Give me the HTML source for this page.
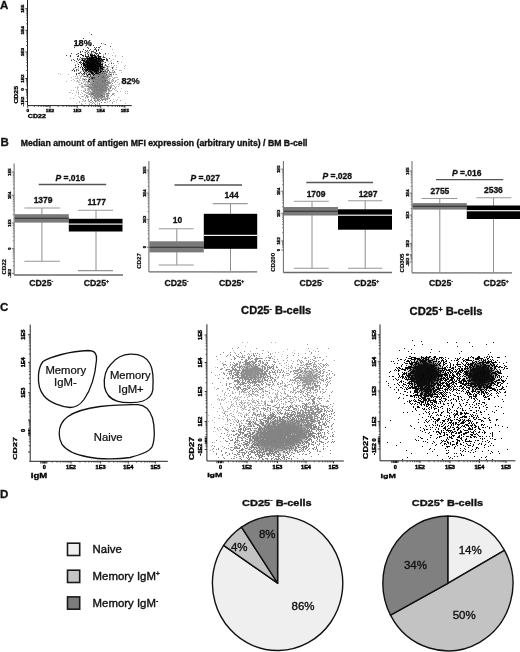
<!DOCTYPE html><html><head><meta charset="utf-8"><style>html,body{margin:0;padding:0;background:#fff;width:520px;height:652px;overflow:hidden}svg{display:block;will-change:transform}text{font-family:"Liberation Sans",sans-serif}</style></head><body>
<svg width="520" height="652" viewBox="0 0 520 652">
<defs><filter id="b1" x="-100%" y="-100%" width="300%" height="300%"><feGaussianBlur stdDeviation="0.5"/></filter><filter id="b2" x="-100%" y="-100%" width="300%" height="300%"><feGaussianBlur stdDeviation="1.0"/></filter><filter id="b3" x="-100%" y="-100%" width="300%" height="300%"><feGaussianBlur stdDeviation="1.5"/></filter><filter id="b4" x="-100%" y="-100%" width="300%" height="300%"><feGaussianBlur stdDeviation="2.0"/></filter><filter id="b5" x="-100%" y="-100%" width="300%" height="300%"><feGaussianBlur stdDeviation="2.5"/></filter><filter id="b6" x="-100%" y="-100%" width="300%" height="300%"><feGaussianBlur stdDeviation="3.0"/></filter><filter id="b7" x="-100%" y="-100%" width="300%" height="300%"><feGaussianBlur stdDeviation="3.5"/></filter><filter id="b8" x="-100%" y="-100%" width="300%" height="300%"><feGaussianBlur stdDeviation="4.0"/></filter><filter id="b9" x="-100%" y="-100%" width="300%" height="300%"><feGaussianBlur stdDeviation="4.5"/></filter><filter id="b10" x="-100%" y="-100%" width="300%" height="300%"><feGaussianBlur stdDeviation="5.0"/></filter><filter id="b11" x="-100%" y="-100%" width="300%" height="300%"><feGaussianBlur stdDeviation="5.5"/></filter><filter id="b12" x="-100%" y="-100%" width="300%" height="300%"><feGaussianBlur stdDeviation="6.0"/></filter></defs>
<rect width="520" height="652" fill="#fff"/>
<text x="0" y="9" font-size="11.5" font-weight="bold" text-anchor="start" fill="#111" stroke="#111" stroke-width="0.3">A</text>
<line x1="27.5" y1="0" x2="27.5" y2="105.6" stroke="#222" stroke-width="1"/>
<path d="M26.1 23.8h1.4M26.1 20.0h1.4M26.1 17.3h1.4M26.1 15.2h1.4M26.1 13.5h1.4M26.1 12.0h1.4M26.1 10.8h1.4M26.1 9.7h1.4M26.1 45.5h1.4M26.1 41.6h1.4M26.1 38.9h1.4M26.1 36.8h1.4M26.1 35.1h1.4M26.1 33.7h1.4M26.1 32.4h1.4M26.1 31.3h1.4M26.1 70.5h1.4M26.1 65.9h1.4M26.1 62.5h1.4M26.1 60.0h1.4M26.1 57.9h1.4M26.1 56.1h1.4M26.1 54.6h1.4M26.1 53.2h1.4M26.1 86.1h1.4M26.1 84.2h1.4M26.1 82.8h1.4M26.1 81.8h1.4M26.1 80.9h1.4M26.1 80.2h1.4M26.1 79.6h1.4M26.1 79.0h1.4M26.1 97.9h1.4M26.1 95.7h1.4M26.1 94.2h1.4M26.1 93.0h1.4M26.1 92.1h1.4M26.1 91.3h1.4M26.1 90.6h1.4M26.1 90.0h1.4" stroke="#222" stroke-width="0.7" fill="none"/>
<line x1="25.3" y1="101.5" x2="27.5" y2="101.5" stroke="#222" stroke-width="0.9"/>
<text x="0" y="0" font-size="4.7" font-weight="bold" text-anchor="middle" fill="#000" transform="translate(23.72 101.5) rotate(-90) scale(1 0.72)" stroke="#000" stroke-width="0.38">-1E2</text>
<line x1="25.3" y1="89.4" x2="27.5" y2="89.4" stroke="#222" stroke-width="0.9"/>
<text x="0" y="0" font-size="4.7" font-weight="bold" text-anchor="middle" fill="#000" transform="translate(23.72 89.4) rotate(-90) scale(1 0.72)" stroke="#000" stroke-width="0.38">0</text>
<line x1="25.3" y1="78.5" x2="27.5" y2="78.5" stroke="#222" stroke-width="0.9"/>
<text x="0" y="0" font-size="4.7" font-weight="bold" text-anchor="middle" fill="#000" transform="translate(23.72 78.5) rotate(-90) scale(1 0.72)" stroke="#000" stroke-width="0.38">1E2</text>
<line x1="25.3" y1="52" x2="27.5" y2="52" stroke="#222" stroke-width="0.9"/>
<text x="0" y="0" font-size="4.7" font-weight="bold" text-anchor="middle" fill="#000" transform="translate(23.72 52) rotate(-90) scale(1 0.72)" stroke="#000" stroke-width="0.38">1E3</text>
<line x1="25.3" y1="30.3" x2="27.5" y2="30.3" stroke="#222" stroke-width="0.9"/>
<text x="0" y="0" font-size="4.7" font-weight="bold" text-anchor="middle" fill="#000" transform="translate(23.72 30.3) rotate(-90) scale(1 0.72)" stroke="#000" stroke-width="0.38">1E4</text>
<line x1="25.3" y1="8.7" x2="27.5" y2="8.7" stroke="#222" stroke-width="0.9"/>
<text x="0" y="0" font-size="4.7" font-weight="bold" text-anchor="middle" fill="#000" transform="translate(23.72 8.7) rotate(-90) scale(1 0.72)" stroke="#000" stroke-width="0.38">1E5</text>
<line x1="27.5" y1="105.6" x2="131.8" y2="105.6" stroke="#222" stroke-width="1"/>
<path d="M34.4 105.6v1.4M38.3 105.6v1.4M41.1 105.6v1.4M43.3 105.6v1.4M45.1 105.6v1.4M46.5 105.6v1.4M47.8 105.6v1.4M49.0 105.6v1.4M58.2 105.6v1.4M63.0 105.6v1.4M66.4 105.6v1.4M69.1 105.6v1.4M71.2 105.6v1.4M73.1 105.6v1.4M74.7 105.6v1.4M76.1 105.6v1.4M84.3 105.6v1.4M88.5 105.6v1.4M91.4 105.6v1.4M93.7 105.6v1.4M95.5 105.6v1.4M97.1 105.6v1.4M98.4 105.6v1.4M99.6 105.6v1.4M108.0 105.6v1.4M112.2 105.6v1.4M115.3 105.6v1.4M117.6 105.6v1.4M119.5 105.6v1.4M121.2 105.6v1.4M122.6 105.6v1.4M123.8 105.6v1.4" stroke="#222" stroke-width="0.7" fill="none"/>
<line x1="27.7" y1="105.6" x2="27.7" y2="107.8" stroke="#222" stroke-width="0.9"/>
<text x="0" y="0" font-size="4.7" font-weight="bold" text-anchor="middle" fill="#000" transform="translate(27.7 111.62) scale(1 0.72)" stroke="#000" stroke-width="0.38">0</text>
<line x1="50" y1="105.6" x2="50" y2="107.8" stroke="#222" stroke-width="0.9"/>
<text x="0" y="0" font-size="4.7" font-weight="bold" text-anchor="middle" fill="#000" transform="translate(50 111.62) scale(1 0.72)" stroke="#000" stroke-width="0.38">1E2</text>
<line x1="77.3" y1="105.6" x2="77.3" y2="107.8" stroke="#222" stroke-width="0.9"/>
<text x="0" y="0" font-size="4.7" font-weight="bold" text-anchor="middle" fill="#000" transform="translate(77.3 111.62) scale(1 0.72)" stroke="#000" stroke-width="0.38">1E3</text>
<line x1="100.7" y1="105.6" x2="100.7" y2="107.8" stroke="#222" stroke-width="0.9"/>
<text x="0" y="0" font-size="4.7" font-weight="bold" text-anchor="middle" fill="#000" transform="translate(100.7 111.62) scale(1 0.72)" stroke="#000" stroke-width="0.38">1E4</text>
<line x1="124.9" y1="105.6" x2="124.9" y2="107.8" stroke="#222" stroke-width="0.9"/>
<text x="0" y="0" font-size="4.7" font-weight="bold" text-anchor="middle" fill="#000" transform="translate(124.9 111.62) scale(1 0.72)" stroke="#000" stroke-width="0.38">1E5</text>
<text x="0" y="0" font-size="6.9" font-weight="bold" text-anchor="middle" fill="#000" transform="translate(18.088800000000003 94.8) rotate(-90) scale(1 0.7)" stroke="#000" stroke-width="0.4">CD25</text>
<text x="0" y="0" font-size="7.1" font-weight="bold" text-anchor="middle" fill="#000" transform="translate(36.9 117.6892) scale(1 0.7)" stroke="#000" stroke-width="0.4">CD22</text>
<g filter="url(#b1)">
<path d="M96 86.5h1M92 69.5h1M90 68.5h1M96 100.5h1M90 73.5h1M101 86.5h1M97 69.5h1M95 91.5h1M81 75.5h1M75 64.5h1M75 78.5h1M82 85.5h1M97 79.5h1M68 74.5h1M95 83.5h1M79 75.5h1M85 71.5h1M107 71.5h1M95 93.5h1M89 80.5h1M97 82.5h1M82 83.5h1M110 61.5h1M105 83.5h1M104 65.5h1M96 89.5h1M93 91.5h1M111 72.5h1M98 75.5h1M97 65.5h1M89 79.5h1M105 97.5h1M81 71.5h1M103 55.5h1M90 80.5h1M109 91.5h1M92 77.5h1M93 102.5h1M91 77.5h1M99 80.5h1M93 66.5h1M95 76.5h1M108 90.5h1M92 96.5h1M95 89.5h1M81 86.5h1M77 54.5h1M86 73.5h1M98 88.5h1M94 79.5h1M103 89.5h1M84 80.5h1M96 67.5h1M98 70.5h1M106 84.5h1M96 74.5h1M94 55.5h1M83 86.5h1M72 93.5h1M76 92.5h1M86 92.5h1M97 61.5h1M109 101.5h1M95 78.5h1M94 68.5h1M108 74.5h1M95 71.5h1M89 64.5h1M109 79.5h1M106 82.5h1M88 77.5h1M89 82.5h1M80 71.5h1M114 72.5h1M84 86.5h1M111 62.5h1M93 73.5h1M76 91.5h1M95 82.5h1M87 88.5h1M83 65.5h1M110 75.5h1M99 81.5h1M91 75.5h1M102 77.5h1M94 82.5h1M108 91.5h1M100 74.5h1M80 94.5h1M106 80.5h1M101 92.5h1M105 94.5h1M90 102.5h1M82 93.5h1M101 93.5h1M116 102.5h1M83 59.5h1M104 68.5h1M77 53.5h1M98 82.5h1M93 82.5h1M86 61.5h1M77 88.5h1M95 87.5h1M85 73.5h1M85 70.5h1M98 71.5h1M99 86.5h1M118 63.5h1M105 80.5h1M95 62.5h1M90 92.5h1M92 97.5h1M95 52.5h1M88 55.5h1M60 74.5h1M110 82.5h1M83 69.5h1M108 84.5h1M96 81.5h1M96 92.5h1M102 84.5h1M84 88.5h1M88 96.5h1M82 80.5h1M95 64.5h1M114 101.5h1M100 46.5h1M98 81.5h1M93 79.5h1M109 86.5h1M95 102.5h1M89 76.5h1M76 103.5h1M106 94.5h1M103 83.5h1M98 78.5h1M112 89.5h1M95 74.5h1M89 103.5h1M101 82.5h1M92 67.5h1M91 78.5h1M93 83.5h1M78 78.5h1M86 93.5h1M87 89.5h1M112 77.5h1M89 84.5h1M95 68.5h1M82 67.5h1M110 69.5h1M107 102.5h1M98 89.5h1M117 79.5h1M89 63.5h1M96 101.5h1M106 69.5h1M86 75.5h1M99 79.5h1M98 86.5h1M92 81.5h1M98 80.5h1M102 82.5h1M77 87.5h1M74 62.5h1M105 91.5h1M94 58.5h1M91 72.5h1M83 81.5h1M94 66.5h1M97 66.5h1M108 96.5h1M107 75.5h1M101 80.5h1M81 62.5h1M104 79.5h1M98 95.5h1M76 71.5h1M97 87.5h1M91 95.5h1M98 65.5h1M85 92.5h1M101 56.5h1M110 90.5h1M110 76.5h1M92 66.5h1M123 79.5h1M113 73.5h1M97 59.5h1M82 96.5h1M99 67.5h1M90 75.5h1M86 77.5h1M84 64.5h1M79 82.5h1M88 68.5h1M105 75.5h1M112 71.5h1M100 78.5h1M94 90.5h1M95 67.5h1M95 58.5h1M103 67.5h1M76 81.5h1M108 61.5h1M84 71.5h1M83 87.5h1M87 72.5h1M102 71.5h1M100 68.5h1M82 57.5h1M116 77.5h1M116 67.5h1M78 68.5h1M81 92.5h1M105 69.5h1M80 77.5h1M111 43.5h1M101 67.5h1M107 67.5h1M92 61.5h1M85 100.5h1M105 76.5h1M86 56.5h1M91 81.5h1M95 80.5h1M95 99.5h1M116 80.5h1M87 81.5h1M89 71.5h1M102 80.5h1M98 79.5h1M88 69.5h1M93 74.5h1M81 82.5h1M81 73.5h1M92 53.5h1M97 84.5h1M94 76.5h1M91 68.5h1M98 83.5h1M102 59.5h1M101 85.5h1M99 87.5h1M88 78.5h1M103 87.5h1M98 61.5h1M101 97.5h1M107 85.5h1M78 94.5h1M94 47.5h1M100 61.5h1M109 76.5h1M113 80.5h1M93 64.5h1M88 87.5h1M100 83.5h1M106 71.5h1M102 96.5h1M100 77.5h1M99 68.5h1M77 89.5h1M95 86.5h1M77 77.5h1M89 70.5h1M71 77.5h1M105 87.5h1M89 81.5h1M104 44.5h1M94 89.5h1M108 86.5h1M99 92.5h1M90 81.5h1M94 81.5h1M98 100.5h1M95 101.5h1M85 79.5h1M93 92.5h1M107 61.5h1M85 86.5h1M88 61.5h1M107 88.5h1M101 75.5h1M107 78.5h1M108 69.5h1M86 84.5h1M88 91.5h1M98 69.5h1M96 77.5h1M106 73.5h1M91 98.5h1M96 84.5h1M112 80.5h1M85 83.5h1M100 70.5h1M77 62.5h1M103 71.5h1M94 84.5h1M101 69.5h1M92 68.5h1M108 81.5h1M87 77.5h1M78 67.5h1M93 77.5h1M109 88.5h1M103 75.5h1M102 91.5h1M73 90.5h1M93 87.5h1M103 77.5h1M77 86.5h1M89 77.5h1M70 98.5h1M98 97.5h1M117 82.5h1M76 69.5h1M82 75.5h1M96 54.5h1M99 61.5h1M77 81.5h1M110 91.5h1M88 101.5h1M95 81.5h1M92 83.5h1M91 80.5h1M84 76.5h1M121 81.5h1M93 89.5h1M103 66.5h1M93 94.5h1M113 72.5h1M112 55.5h1M88 74.5h1M103 90.5h1M111 60.5h1M104 78.5h1M88 89.5h1M85 53.5h1M91 61.5h1M99 103.5h1M93 61.5h1M87 69.5h1M82 87.5h1M103 80.5h1M99 83.5h1M109 87.5h1M100 87.5h1M79 79.5h1M93 84.5h1M81 104.5h1M77 78.5h1M95 72.5h1M97 73.5h1M102 72.5h1M95 95.5h1M124 68.5h1M90 70.5h1M104 66.5h1M85 69.5h1M90 53.5h1M80 76.5h1M76 75.5h1M104 89.5h1M95 70.5h1M102 74.5h1M83 71.5h1M111 84.5h1M108 75.5h1M104 75.5h1M109 75.5h1M76 78.5h1M96 83.5h1M110 86.5h1M104 67.5h1M104 85.5h1M85 80.5h1M91 86.5h1M85 78.5h1M98 67.5h1M118 79.5h1M104 83.5h1M97 102.5h1M81 96.5h1M98 72.5h1M99 91.5h1M96 88.5h1M88 79.5h1M109 63.5h1M109 73.5h1M83 99.5h1M94 64.5h1M92 94.5h1M100 91.5h1M88 86.5h1M90 82.5h1M91 97.5h1M98 93.5h1M109 89.5h1M120 70.5h1M104 77.5h1M74 68.5h1M103 92.5h1M104 81.5h1M101 90.5h1M71 90.5h1M84 94.5h1M93 70.5h1M100 69.5h1M85 60.5h1M95 88.5h1M107 80.5h1M107 82.5h1M107 77.5h1M96 69.5h1M107 76.5h1M101 70.5h1M91 87.5h1M96 82.5h1M92 57.5h1M93 52.5h1M100 72.5h1M98 62.5h1M76 67.5h1M73 68.5h1M113 67.5h1M103 63.5h1M99 77.5h1M115 84.5h1M97 68.5h1M102 78.5h1M105 81.5h1M115 55.5h1M92 93.5h1M92 71.5h1M93 63.5h1M108 67.5h1M86 76.5h1M107 70.5h1M88 93.5h1M83 61.5h1M88 51.5h1M104 73.5h1M108 66.5h1M94 60.5h1M112 49.5h1M83 78.5h1M108 53.5h1M104 86.5h1M121 62.5h1M104 84.5h1M104 76.5h1M91 65.5h1M95 69.5h1M94 96.5h1M100 88.5h1M99 82.5h1M94 77.5h1M87 75.5h1M88 84.5h1M88 97.5h1M87 51.5h1M87 54.5h1M95 96.5h1M110 83.5h1M99 90.5h1M89 67.5h1M121 70.5h1M100 96.5h1M77 69.5h1M89 78.5h1M75 66.5h1M113 52.5h1M92 84.5h1M91 71.5h1M95 56.5h1M94 70.5h1M89 85.5h1M103 94.5h1M90 94.5h1M108 97.5h1M111 80.5h1M94 93.5h1M80 84.5h1M90 77.5h1M95 61.5h1M86 62.5h1M82 99.5h1M103 99.5h1M92 72.5h1M92 85.5h1M103 97.5h1M109 98.5h1M79 80.5h1M99 76.5h1M106 77.5h1M85 101.5h1M103 84.5h1M106 96.5h1M99 48.5h1M88 75.5h1M85 84.5h1M98 87.5h1M88 92.5h1M90 69.5h1M97 92.5h1M89 86.5h1M88 100.5h1M89 74.5h1M101 89.5h1M111 87.5h1M83 62.5h1M113 70.5h1M114 95.5h1M113 59.5h1M95 92.5h1M78 96.5h1M89 90.5h1M98 47.5h1M87 84.5h1M113 85.5h1M96 79.5h1M78 93.5h1M125 91.5h1M82 79.5h1M99 93.5h1M87 64.5h1M96 72.5h1M81 64.5h1M90 56.5h1M81 59.5h1M118 61.5h1M88 94.5h1M114 77.5h1M83 64.5h1M80 68.5h1M88 90.5h1M102 57.5h1M92 87.5h1M89 53.5h1M92 92.5h1M124 66.5h1M106 98.5h1M83 90.5h1M88 47.5h1M127 91.5h1M115 69.5h1M112 103.5h1M113 81.5h1M71 59.5h1M94 80.5h1M117 99.5h1M95 98.5h1M106 65.5h1M92 64.5h1M97 104.5h1M87 85.5h1M86 66.5h1M82 101.5h1M121 88.5h1M99 85.5h1M91 58.5h1M91 62.5h1M94 69.5h1M97 88.5h1M114 93.5h1M92 101.5h1M79 102.5h1M88 44.5h1M125 103.5h1M84 84.5h1M79 72.5h1M109 83.5h1M121 72.5h1M98 56.5h1M85 89.5h1M92 75.5h1M103 74.5h1M86 85.5h1M94 95.5h1M125 93.5h1M95 79.5h1M86 69.5h1M91 92.5h1M91 79.5h1M82 104.5h1M104 102.5h1M125 65.5h1M100 92.5h1M110 72.5h1M88 73.5h1M101 62.5h1M118 97.5h1M100 58.5h1M75 95.5h1M100 80.5h1M111 65.5h1M93 76.5h1M97 75.5h1M113 69.5h1M105 64.5h1M66 81.5h1M83 75.5h1M113 66.5h1M84 101.5h1M97 103.5h1M99 69.5h1M96 80.5h1M96 66.5h1M88 82.5h1M77 63.5h1M100 98.5h1M103 82.5h1M120 91.5h1M73 79.5h1M82 78.5h1M90 96.5h1M98 96.5h1M71 70.5h1M84 66.5h1M86 70.5h1M87 83.5h1M114 86.5h1M88 81.5h1M85 85.5h1M105 70.5h1M93 97.5h1M90 84.5h1M84 70.5h1M91 74.5h1M118 84.5h1M111 85.5h1M102 62.5h1M82 69.5h1M86 81.5h1M112 93.5h1M79 58.5h1M81 76.5h1M97 53.5h1M88 76.5h1M83 63.5h1M84 81.5h1M102 89.5h1M85 88.5h1M73 98.5h1M90 71.5h1M99 95.5h1M99 96.5h1M97 98.5h1M109 80.5h1M81 90.5h1M71 80.5h1M96 49.5h1M103 73.5h1M105 57.5h1M103 78.5h1M104 69.5h1M86 72.5h1M88 58.5h1M86 79.5h1M80 62.5h1M106 72.5h1M121 83.5h1M115 88.5h1M111 75.5h1M87 95.5h1M97 67.5h1M78 87.5h1M105 88.5h1M107 74.5h1M85 94.5h1M84 52.5h1M107 72.5h1M92 63.5h1M81 66.5h1M92 86.5h1M70 92.5h1M98 101.5h1M90 95.5h1M87 97.5h1M116 86.5h1M99 70.5h1M108 98.5h1M89 73.5h1M73 76.5h1M99 65.5h1M102 79.5h1M88 63.5h1M82 86.5h1M85 82.5h1M107 95.5h1M113 78.5h1M84 95.5h1M99 97.5h1M96 98.5h1M101 87.5h1M98 85.5h1M106 75.5h1M115 80.5h1M119 84.5h1M106 68.5h1M115 72.5h1M102 86.5h1M93 50.5h1M91 63.5h1M112 85.5h1M107 101.5h1M93 81.5h1M108 83.5h1M94 78.5h1M110 88.5h1M111 81.5h1M119 70.5h1M103 68.5h1M115 77.5h1M95 94.5h1M109 66.5h1M97 80.5h1M101 102.5h1M74 80.5h1M91 88.5h1M84 91.5h1M78 90.5h1M113 101.5h1M87 66.5h1M78 82.5h1M81 65.5h1M95 90.5h1M96 70.5h1M115 90.5h1M83 82.5h1M103 88.5h1M116 100.5h1M81 85.5h1M88 83.5h1M82 70.5h1M104 74.5h1M90 63.5h1M87 90.5h1M78 81.5h1M103 76.5h1M98 66.5h1M110 96.5h1M98 58.5h1M106 99.5h1M99 73.5h1M69 92.5h1M119 83.5h1M91 104.5h1M105 92.5h1M101 88.5h1M112 81.5h1M116 69.5h1M92 88.5h1M111 73.5h1M87 65.5h1M96 58.5h1M81 103.5h1M83 96.5h1M89 89.5h1M87 52.5h1M117 77.5h1M108 94.5h1M94 71.5h1M93 88.5h1M106 74.5h1M98 60.5h1M103 43.5h1M96 62.5h1M90 83.5h1M93 86.5h1M85 103.5h1M85 72.5h1M108 64.5h1M102 88.5h1M112 88.5h1M105 89.5h1M115 56.5h1M110 78.5h1M75 76.5h1M88 88.5h1M79 101.5h1M88 71.5h1M83 74.5h1M80 78.5h1M116 90.5h1M92 60.5h1M80 59.5h1M96 73.5h1M97 100.5h1M87 93.5h1M92 78.5h1M75 87.5h1M99 74.5h1M97 93.5h1M103 54.5h1M106 95.5h1M80 80.5h1M87 74.5h1M94 56.5h1M94 83.5h1M88 72.5h1M116 65.5h1M99 72.5h1M91 96.5h1M111 82.5h1M108 76.5h1M93 68.5h1M78 69.5h1M103 98.5h1M107 81.5h1M94 72.5h1M77 76.5h1M91 84.5h1M83 100.5h1M105 72.5h1M108 79.5h1M87 76.5h1M89 32.5h1M97 56.5h1M85 98.5h1M94 88.5h1M105 85.5h1M114 78.5h1M107 89.5h1M100 89.5h1M94 62.5h1M81 87.5h1M92 62.5h1M127 93.5h1M58 73.5h1M98 90.5h1M111 67.5h1M113 99.5h1M97 78.5h1M101 76.5h1M92 80.5h1M93 85.5h1M105 67.5h1" stroke="#bdbdbd" stroke-width="1" opacity="1" fill="none" shape-rendering="crispEdges"/>
<path d="M88 92.5h1M96 89.5h1M94 88.5h1M92 83.5h1M102 86.5h1M96 71.5h1M99 89.5h1M97 75.5h1M95 88.5h1M105 54.5h1M100 76.5h1M109 83.5h1M93 81.5h1M100 78.5h1M100 68.5h1M95 93.5h1M111 95.5h1M98 99.5h1M106 84.5h1M100 87.5h1M96 59.5h1M96 60.5h1M98 85.5h1M84 91.5h1M104 87.5h1M87 96.5h1M101 90.5h1M106 77.5h1M95 74.5h1M93 83.5h1M89 71.5h1M102 84.5h1M104 62.5h1M93 77.5h1M99 78.5h1M105 85.5h1M104 80.5h1M106 91.5h1M99 85.5h1M100 97.5h1M104 90.5h1M107 85.5h1M80 98.5h1M101 71.5h1M98 74.5h1M113 93.5h1M85 89.5h1M94 57.5h1M99 80.5h1M98 59.5h1M82 96.5h1M102 83.5h1M105 92.5h1M92 92.5h1M97 63.5h1M114 82.5h1M93 88.5h1M89 67.5h1M95 78.5h1M97 98.5h1M94 90.5h1M104 72.5h1M101 74.5h1M105 91.5h1M100 69.5h1M103 84.5h1M90 95.5h1M104 78.5h1M107 82.5h1M95 86.5h1M93 78.5h1M94 103.5h1M110 83.5h1M110 86.5h1M99 95.5h1M102 71.5h1M108 81.5h1M101 49.5h1M104 95.5h1M102 97.5h1M111 86.5h1M94 97.5h1M103 69.5h1M101 83.5h1M91 89.5h1M98 65.5h1M86 86.5h1M101 93.5h1M89 79.5h1M98 94.5h1M95 70.5h1M104 99.5h1M102 78.5h1M101 86.5h1M106 71.5h1M99 83.5h1M89 86.5h1M103 68.5h1M97 90.5h1M98 98.5h1M92 65.5h1M99 90.5h1M113 94.5h1M90 93.5h1M94 66.5h1M117 91.5h1M102 92.5h1M111 90.5h1M109 74.5h1M85 100.5h1M108 92.5h1M99 87.5h1M90 102.5h1M102 91.5h1M99 97.5h1M101 94.5h1M88 89.5h1M115 81.5h1M96 95.5h1M104 93.5h1M91 73.5h1M103 82.5h1M103 94.5h1M92 76.5h1M91 77.5h1M91 76.5h1M98 72.5h1M90 67.5h1M104 98.5h1M94 92.5h1M107 83.5h1M89 88.5h1M85 73.5h1M103 86.5h1M93 95.5h1M90 87.5h1M96 74.5h1M103 73.5h1M113 80.5h1M115 74.5h1M105 71.5h1M88 85.5h1M105 70.5h1M108 76.5h1M98 89.5h1M105 64.5h1M109 93.5h1M97 72.5h1M88 67.5h1M103 81.5h1M90 77.5h1M110 82.5h1M91 100.5h1M96 65.5h1M90 78.5h1M102 88.5h1M101 73.5h1M83 76.5h1M98 69.5h1M90 82.5h1M100 77.5h1M102 82.5h1M90 84.5h1M113 78.5h1M104 102.5h1M111 76.5h1M113 88.5h1M96 81.5h1M95 100.5h1M94 71.5h1M108 73.5h1M113 72.5h1M100 81.5h1M87 74.5h1M107 80.5h1M91 94.5h1M104 97.5h1M107 78.5h1M112 72.5h1M81 65.5h1M91 82.5h1M103 83.5h1M93 86.5h1M91 83.5h1M105 75.5h1M91 78.5h1M96 75.5h1M90 69.5h1M98 82.5h1M105 89.5h1M101 61.5h1M87 92.5h1M108 88.5h1M96 76.5h1M105 90.5h1M97 80.5h1M102 89.5h1M89 104.5h1M100 85.5h1M107 98.5h1M96 91.5h1M79 97.5h1M83 91.5h1M93 72.5h1M96 87.5h1M100 79.5h1M97 84.5h1M95 75.5h1M106 65.5h1M91 102.5h1M79 73.5h1M106 66.5h1M122 56.5h1M105 83.5h1M102 74.5h1M106 72.5h1M94 96.5h1M90 79.5h1M101 69.5h1M106 90.5h1M87 82.5h1M93 76.5h1M105 79.5h1M96 70.5h1M101 96.5h1M112 102.5h1M100 82.5h1M101 85.5h1M107 97.5h1M93 75.5h1M108 90.5h1M94 98.5h1M98 61.5h1M104 84.5h1M101 65.5h1M100 67.5h1M100 89.5h1M101 92.5h1M99 82.5h1M103 99.5h1M100 96.5h1M104 70.5h1M102 68.5h1M101 81.5h1M88 55.5h1M98 81.5h1M99 92.5h1M83 79.5h1M94 69.5h1M94 82.5h1M98 67.5h1M93 63.5h1M103 72.5h1M107 76.5h1M96 93.5h1M103 85.5h1M105 86.5h1M107 69.5h1M85 92.5h1M88 79.5h1M98 79.5h1M92 101.5h1M78 92.5h1M115 87.5h1M97 93.5h1M114 72.5h1M102 87.5h1M99 77.5h1M93 82.5h1M99 70.5h1M110 85.5h1M86 96.5h1M92 90.5h1M97 87.5h1M81 83.5h1M100 93.5h1M107 96.5h1M101 77.5h1M97 73.5h1M95 89.5h1M114 86.5h1M120 100.5h1M103 79.5h1M77 80.5h1M79 84.5h1M104 94.5h1M101 97.5h1M106 85.5h1M107 94.5h1M99 79.5h1M97 76.5h1M114 89.5h1M96 68.5h1M91 92.5h1M104 83.5h1M99 81.5h1M88 99.5h1M89 72.5h1M96 96.5h1M98 90.5h1M89 93.5h1M99 104.5h1M97 95.5h1M106 98.5h1M96 82.5h1M88 82.5h1M95 104.5h1M102 95.5h1M118 86.5h1M85 97.5h1M98 88.5h1M90 96.5h1M102 90.5h1M102 85.5h1M98 100.5h1M104 91.5h1M92 80.5h1M90 85.5h1M103 60.5h1M97 92.5h1M109 78.5h1M91 70.5h1M106 88.5h1M90 75.5h1M92 81.5h1M85 84.5h1M103 74.5h1M88 75.5h1M105 98.5h1M93 98.5h1M93 102.5h1M102 80.5h1M105 76.5h1M93 66.5h1M100 84.5h1M98 80.5h1M109 81.5h1M91 99.5h1M86 76.5h1M112 70.5h1M108 85.5h1M89 70.5h1M95 72.5h1M105 102.5h1M102 72.5h1M98 76.5h1M84 73.5h1M100 75.5h1M92 103.5h1M92 73.5h1M114 65.5h1M95 83.5h1M98 86.5h1M95 96.5h1M98 87.5h1M99 73.5h1M101 76.5h1M90 86.5h1M110 87.5h1M95 97.5h1M116 74.5h1M96 94.5h1M88 88.5h1M101 89.5h1M100 80.5h1M94 89.5h1M94 99.5h1M96 86.5h1M89 91.5h1M96 97.5h1M90 91.5h1M97 96.5h1M82 86.5h1M85 71.5h1" stroke="#a0a0a0" stroke-width="1" opacity="1" fill="none" shape-rendering="crispEdges"/>
<ellipse cx="99.5" cy="84.5" rx="8.3" ry="14" fill="#8a8a8a" opacity="1" transform="rotate(8 99.5 84.5)" filter="url(#b2)"/>
<path d="M88 99.5h1M92 85.5h1M99 66.5h1M96 91.5h1M97 94.5h1M97 84.5h1M96 88.5h1M109 90.5h1M101 79.5h1M93 98.5h1M94 75.5h1M99 80.5h1M113 63.5h1M100 92.5h1M94 77.5h1M99 101.5h1M96 68.5h1M102 100.5h1M100 62.5h1M107 84.5h1M105 85.5h1M98 80.5h1M105 100.5h1M89 74.5h1M109 82.5h1M92 84.5h1M99 83.5h1M97 81.5h1M96 87.5h1M95 81.5h1M96 97.5h1M101 84.5h1M101 89.5h1M104 90.5h1M107 99.5h1M103 90.5h1M101 70.5h1M89 87.5h1M102 93.5h1M91 94.5h1M102 77.5h1M99 64.5h1M97 66.5h1M101 85.5h1M103 89.5h1M95 87.5h1M96 90.5h1M102 75.5h1M99 85.5h1M96 93.5h1M87 86.5h1M103 78.5h1M98 75.5h1M105 70.5h1M95 104.5h1M99 89.5h1M100 73.5h1M98 89.5h1M93 87.5h1M104 96.5h1M92 74.5h1M89 94.5h1M101 92.5h1M96 72.5h1M99 86.5h1M94 85.5h1M102 87.5h1M96 63.5h1M97 86.5h1M94 91.5h1M95 78.5h1M101 75.5h1M93 80.5h1M105 87.5h1M99 70.5h1M94 98.5h1M103 85.5h1M98 86.5h1M102 90.5h1M101 86.5h1M92 94.5h1M88 81.5h1M112 83.5h1M93 83.5h1M106 84.5h1M102 86.5h1M100 79.5h1M102 70.5h1M102 82.5h1M100 70.5h1M97 77.5h1M93 93.5h1M86 79.5h1M91 79.5h1M104 79.5h1M101 76.5h1M108 95.5h1M107 72.5h1M98 82.5h1M103 72.5h1M103 96.5h1M106 58.5h1M104 82.5h1M100 82.5h1M92 78.5h1M101 99.5h1M97 75.5h1M108 77.5h1M110 87.5h1M93 94.5h1M110 72.5h1M108 83.5h1M108 82.5h1M90 88.5h1M107 93.5h1M98 79.5h1M99 76.5h1M101 59.5h1M100 84.5h1M112 94.5h1M93 78.5h1M87 97.5h1M104 73.5h1M98 94.5h1M96 73.5h1M107 76.5h1M105 88.5h1M101 102.5h1M95 77.5h1M100 100.5h1M100 87.5h1M104 85.5h1M100 74.5h1M106 75.5h1M104 71.5h1M106 69.5h1M95 96.5h1M95 85.5h1M100 61.5h1M100 89.5h1M92 89.5h1M96 74.5h1M100 78.5h1M114 71.5h1M102 95.5h1M91 66.5h1M103 80.5h1M100 96.5h1M98 74.5h1M84 84.5h1M94 87.5h1M102 71.5h1M107 97.5h1M105 73.5h1M98 73.5h1M101 87.5h1M102 80.5h1M106 87.5h1M85 76.5h1M97 78.5h1M94 89.5h1M98 67.5h1M100 88.5h1M96 82.5h1M90 100.5h1M99 99.5h1M100 64.5h1M107 87.5h1M100 85.5h1M97 79.5h1M107 95.5h1M100 66.5h1M99 90.5h1M100 72.5h1M96 71.5h1M99 93.5h1M106 78.5h1M100 90.5h1M96 83.5h1M110 88.5h1M104 81.5h1M102 68.5h1M97 96.5h1M109 98.5h1M103 86.5h1M103 77.5h1M105 75.5h1M91 73.5h1M92 70.5h1M105 83.5h1M99 96.5h1M107 80.5h1M106 89.5h1M92 76.5h1M98 90.5h1M97 83.5h1M102 99.5h1M101 98.5h1M101 82.5h1M94 100.5h1M99 75.5h1M99 103.5h1M98 97.5h1M95 83.5h1M111 74.5h1M109 76.5h1M97 93.5h1M102 88.5h1M90 87.5h1M93 79.5h1M91 93.5h1M97 90.5h1M96 79.5h1M105 77.5h1M105 78.5h1M105 99.5h1M97 82.5h1M94 86.5h1M107 71.5h1M106 72.5h1M101 78.5h1M108 64.5h1M104 77.5h1M97 87.5h1M97 99.5h1M103 83.5h1M85 90.5h1M104 76.5h1M90 72.5h1M96 86.5h1M106 85.5h1M99 79.5h1M106 96.5h1M100 71.5h1M94 90.5h1M94 93.5h1M101 88.5h1M113 74.5h1M95 95.5h1M91 89.5h1M103 99.5h1M98 95.5h1M93 85.5h1M95 86.5h1M102 96.5h1M92 96.5h1M99 87.5h1M91 84.5h1M95 79.5h1M92 68.5h1M97 89.5h1M100 94.5h1M105 90.5h1M94 79.5h1M97 74.5h1M112 79.5h1M102 91.5h1M100 91.5h1M86 95.5h1M110 100.5h1M98 76.5h1M104 80.5h1M88 86.5h1M97 70.5h1M107 70.5h1M101 90.5h1M101 73.5h1M102 89.5h1M109 72.5h1M95 101.5h1M106 93.5h1M98 100.5h1M107 77.5h1M103 76.5h1M104 84.5h1M89 101.5h1M96 98.5h1M108 89.5h1M109 71.5h1M104 83.5h1M98 84.5h1M89 84.5h1M93 95.5h1M96 89.5h1M105 81.5h1M94 95.5h1M90 65.5h1M92 79.5h1M99 84.5h1M98 92.5h1M98 72.5h1M86 81.5h1M106 90.5h1M94 84.5h1M102 97.5h1M93 91.5h1M107 82.5h1M91 87.5h1M108 93.5h1M92 93.5h1M96 85.5h1M97 100.5h1" stroke="#7e7e7e" stroke-width="1" opacity="1" fill="none" shape-rendering="crispEdges"/>
<path d="M83 60.5h1M101 61.5h1M97 67.5h1M89 50.5h1M100 64.5h1M100 46.5h1M78 45.5h1M85 71.5h1M97 62.5h1M93 69.5h1M89 66.5h1M93 45.5h1M89 73.5h1M89 61.5h1M87 59.5h1M102 60.5h1M83 38.5h1M87 47.5h1M76 69.5h1M98 47.5h1M99 66.5h1M85 68.5h1M78 53.5h1M80 54.5h1M99 52.5h1M82 55.5h1M94 60.5h1M99 57.5h1M81 58.5h1M92 55.5h1M94 77.5h1M87 63.5h1M103 57.5h1M85 54.5h1M95 67.5h1M91 63.5h1M103 69.5h1M80 62.5h1M93 68.5h1M90 57.5h1M88 48.5h1M92 58.5h1M96 54.5h1M88 54.5h1M83 68.5h1M88 66.5h1M82 63.5h1M77 58.5h1M87 67.5h1M93 61.5h1M99 64.5h1M96 68.5h1M91 60.5h1M94 59.5h1M95 71.5h1M99 59.5h1M81 62.5h1M91 71.5h1M88 60.5h1M98 58.5h1M90 76.5h1M104 67.5h1M94 54.5h1M96 63.5h1M93 58.5h1M91 61.5h1M94 74.5h1M95 49.5h1M83 49.5h1M85 67.5h1M95 57.5h1M94 56.5h1M80 51.5h1M84 73.5h1M80 72.5h1M103 61.5h1M91 57.5h1M91 67.5h1M92 70.5h1M102 65.5h1M94 62.5h1M95 53.5h1M95 64.5h1M84 79.5h1M83 55.5h1M94 47.5h1M85 50.5h1M83 61.5h1M94 71.5h1M98 72.5h1M97 58.5h1M101 58.5h1M86 74.5h1M98 64.5h1M98 69.5h1M80 61.5h1M86 73.5h1M96 56.5h1M91 52.5h1M92 66.5h1M81 66.5h1M86 64.5h1M95 68.5h1M87 64.5h1M82 51.5h1M96 62.5h1M78 55.5h1M92 74.5h1M100 68.5h1M76 61.5h1M96 65.5h1M95 60.5h1M106 74.5h1M91 54.5h1M109 58.5h1M102 77.5h1M83 64.5h1M94 78.5h1M101 60.5h1M88 80.5h1M85 58.5h1M92 54.5h1M74 70.5h1M112 68.5h1M98 50.5h1M91 53.5h1M98 60.5h1M92 61.5h1M87 50.5h1M96 51.5h1M81 60.5h1M85 64.5h1M93 62.5h1M99 47.5h1M95 55.5h1M88 67.5h1M101 43.5h1M91 78.5h1M99 74.5h1M92 51.5h1M82 68.5h1M100 56.5h1M89 64.5h1M77 59.5h1M105 80.5h1M91 77.5h1M87 56.5h1M72 70.5h1M88 81.5h1M94 64.5h1M76 74.5h1M88 61.5h1M73 69.5h1M100 57.5h1M92 65.5h1M100 63.5h1M106 60.5h1M86 58.5h1M70 56.5h1M85 65.5h1M74 60.5h1M85 69.5h1M107 59.5h1M75 67.5h1M92 64.5h1M87 60.5h1M98 76.5h1M90 49.5h1M102 67.5h1M97 64.5h1M111 63.5h1M96 47.5h1M87 57.5h1M91 65.5h1M85 76.5h1M83 58.5h1M94 52.5h1M96 67.5h1M89 77.5h1M86 60.5h1M88 68.5h1M71 53.5h1M76 73.5h1M87 58.5h1M82 69.5h1M88 64.5h1M74 71.5h1M102 61.5h1M90 68.5h1M98 70.5h1M92 77.5h1M78 60.5h1M106 59.5h1M78 73.5h1M96 53.5h1M98 54.5h1M87 53.5h1M92 62.5h1M80 52.5h1M90 74.5h1M100 53.5h1M100 59.5h1M98 67.5h1M89 65.5h1M83 62.5h1M101 95.5h1M98 63.5h1M83 71.5h1M77 56.5h1M95 52.5h1M105 71.5h1M87 65.5h1M79 62.5h1M104 73.5h1M88 59.5h1M103 76.5h1M79 59.5h1M94 72.5h1M84 67.5h1M89 81.5h1M95 61.5h1M89 71.5h1M97 53.5h1M93 51.5h1M85 52.5h1M80 57.5h1M83 66.5h1M74 47.5h1M100 60.5h1M86 51.5h1M82 58.5h1M90 45.5h1M99 53.5h1M88 58.5h1M96 64.5h1M101 69.5h1M87 61.5h1M91 51.5h1M83 70.5h1M78 70.5h1M94 61.5h1M96 66.5h1M102 59.5h1M90 60.5h1M108 70.5h1M84 59.5h1M86 62.5h1M93 81.5h1M76 70.5h1M90 58.5h1M79 73.5h1M88 74.5h1M95 72.5h1M97 71.5h1M92 56.5h1M97 68.5h1M110 46.5h1M90 71.5h1M110 74.5h1M84 74.5h1M102 68.5h1M84 58.5h1M107 60.5h1M71 60.5h1M94 65.5h1M104 57.5h1M82 74.5h1M70 55.5h1M95 59.5h1M98 61.5h1M90 61.5h1M83 56.5h1M92 57.5h1M98 49.5h1M89 60.5h1M86 56.5h1M107 68.5h1M102 63.5h1M100 69.5h1M102 81.5h1M90 64.5h1M91 34.5h1M80 63.5h1M102 73.5h1M107 66.5h1M91 59.5h1M85 61.5h1M117 61.5h1M87 72.5h1M98 62.5h1M90 66.5h1M99 69.5h1M66 55.5h1M94 70.5h1M97 61.5h1M105 65.5h1M75 65.5h1M89 62.5h1M101 66.5h1M90 70.5h1M95 65.5h1M89 59.5h1M81 73.5h1M90 62.5h1M92 63.5h1M85 70.5h1M86 71.5h1M76 54.5h1M100 61.5h1M86 66.5h1M83 63.5h1M73 59.5h1M86 67.5h1M99 56.5h1M106 58.5h1M75 43.5h1M105 62.5h1M86 57.5h1M83 73.5h1M90 44.5h1M99 60.5h1M90 75.5h1M90 72.5h1M96 58.5h1M102 70.5h1M93 67.5h1M97 60.5h1M97 55.5h1M93 66.5h1M85 59.5h1M87 68.5h1M78 64.5h1M101 67.5h1M96 60.5h1M78 56.5h1M94 49.5h1M89 63.5h1M105 64.5h1M99 72.5h1M84 76.5h1M112 67.5h1M100 72.5h1M97 72.5h1M105 53.5h1M88 55.5h1M93 74.5h1M88 62.5h1M95 48.5h1M99 65.5h1M94 63.5h1M93 77.5h1M87 76.5h1M89 74.5h1M90 63.5h1M85 55.5h1M89 69.5h1M88 52.5h1M105 44.5h1M80 67.5h1M103 56.5h1" stroke="#4a4a4a" stroke-width="1" opacity="1" fill="none" shape-rendering="crispEdges"/>
<ellipse cx="92.8" cy="64.6" rx="8.3" ry="7.8" fill="#151515" opacity="1" transform="rotate(0 92.8 64.6)" filter="url(#b2)"/>
<path d="M93 59.5h1M95 65.5h1M93 70.5h1M95 70.5h1M95 59.5h1M94 66.5h1M86 70.5h1M93 66.5h1M88 65.5h1M94 63.5h1M93 55.5h1M99 59.5h1M83 60.5h1M89 67.5h1M88 74.5h1M95 73.5h1M88 67.5h1M95 57.5h1M87 59.5h1M86 61.5h1M88 58.5h1M93 67.5h1M86 62.5h1M92 63.5h1M89 68.5h1M96 67.5h1M91 73.5h1M100 62.5h1M92 69.5h1M89 66.5h1M93 61.5h1M91 57.5h1M90 55.5h1M103 71.5h1M98 66.5h1M97 70.5h1M97 68.5h1M88 66.5h1M90 59.5h1M87 66.5h1M97 58.5h1M100 71.5h1M91 62.5h1M91 59.5h1M94 55.5h1M93 69.5h1M94 68.5h1M95 67.5h1M93 60.5h1M91 64.5h1M98 71.5h1M94 61.5h1M89 63.5h1M99 66.5h1M92 61.5h1M96 65.5h1M92 65.5h1M100 63.5h1M100 70.5h1M93 68.5h1M92 60.5h1M91 60.5h1M95 64.5h1M95 68.5h1M78 66.5h1M84 65.5h1M98 56.5h1M93 64.5h1M84 67.5h1M92 62.5h1M89 79.5h1M91 56.5h1M88 62.5h1M90 58.5h1M89 62.5h1M96 66.5h1M93 73.5h1M90 66.5h1M96 60.5h1M93 65.5h1M90 67.5h1M97 69.5h1M91 65.5h1M103 59.5h1M98 63.5h1M90 64.5h1M87 67.5h1M100 72.5h1M98 60.5h1M99 61.5h1M92 72.5h1M87 68.5h1M90 69.5h1M98 58.5h1M90 63.5h1M93 63.5h1M85 62.5h1M88 71.5h1M98 57.5h1M86 66.5h1M87 63.5h1M81 54.5h1M87 69.5h1M92 56.5h1M91 63.5h1M94 70.5h1M96 57.5h1M95 61.5h1M89 60.5h1M98 68.5h1M89 59.5h1M100 58.5h1M84 63.5h1M96 73.5h1M96 63.5h1M98 64.5h1M88 61.5h1M85 56.5h1M101 64.5h1M97 66.5h1M95 56.5h1M101 59.5h1M87 61.5h1M84 72.5h1M93 62.5h1M91 67.5h1M89 70.5h1M90 60.5h1M95 62.5h1M82 67.5h1M86 69.5h1M96 58.5h1M90 61.5h1M91 68.5h1M87 62.5h1M90 65.5h1M86 64.5h1M92 67.5h1M90 71.5h1M82 60.5h1M96 59.5h1M102 64.5h1M88 68.5h1M96 70.5h1M100 60.5h1M79 62.5h1M100 56.5h1M95 71.5h1M84 64.5h1M92 73.5h1M98 67.5h1M81 64.5h1M92 78.5h1M87 64.5h1M94 62.5h1M101 71.5h1M92 68.5h1M89 58.5h1M84 61.5h1M99 72.5h1M95 66.5h1M94 59.5h1M99 65.5h1M87 70.5h1M97 61.5h1M102 60.5h1M94 69.5h1M82 69.5h1M92 64.5h1M87 60.5h1M99 58.5h1M102 68.5h1M83 63.5h1M92 59.5h1M85 66.5h1M96 68.5h1M94 64.5h1M93 75.5h1M83 65.5h1M85 65.5h1M100 66.5h1M89 64.5h1M83 64.5h1M94 60.5h1M88 69.5h1M91 66.5h1M89 57.5h1M82 59.5h1M90 54.5h1M89 74.5h1M100 67.5h1M91 69.5h1M97 65.5h1M97 62.5h1M93 57.5h1M96 71.5h1M99 63.5h1M96 72.5h1M94 65.5h1M96 61.5h1M90 62.5h1M97 73.5h1M98 69.5h1M92 57.5h1M82 55.5h1M99 56.5h1M94 71.5h1M101 68.5h1M103 67.5h1M87 75.5h1M89 65.5h1M87 58.5h1M102 69.5h1M101 66.5h1M92 58.5h1M92 55.5h1M91 72.5h1M91 58.5h1M98 73.5h1M87 65.5h1M85 68.5h1M88 63.5h1M88 56.5h1M100 65.5h1M94 74.5h1M98 55.5h1M91 55.5h1M84 60.5h1M102 66.5h1M100 64.5h1M91 71.5h1M95 69.5h1M104 59.5h1M84 69.5h1M97 63.5h1M92 66.5h1M85 70.5h1M94 57.5h1M92 70.5h1M93 58.5h1M83 62.5h1M96 50.5h1M91 61.5h1M98 59.5h1M100 68.5h1" stroke="#000" stroke-width="1" opacity="1" fill="none" shape-rendering="crispEdges"/>
</g>
<text x="73.5" y="46.3" font-size="9.2" font-weight="bold" text-anchor="start" fill="#111" stroke="#111" stroke-width="0.25">18%</text>
<text x="121.4" y="83.7" font-size="9.2" font-weight="bold" text-anchor="start" fill="#111" stroke="#111" stroke-width="0.25">82%</text>
<text x="0.5" y="145.8" font-size="11.5" font-weight="bold" text-anchor="start" fill="#111" stroke="#111" stroke-width="0.3">B</text>
<text x="20.8" y="145.5" font-size="8.7" font-weight="bold" text-anchor="start" fill="#111" stroke="#111" stroke-width="0.35">Median amount of antigen MFI expression (arbitrary units) / BM B-cell</text>
<line x1="14.1" y1="163.5" x2="14.1" y2="275" stroke="#666" stroke-width="1"/>
<path d="M12.7 188.3h1.4M12.7 184.2h1.4M12.7 181.3h1.4M12.7 179.0h1.4M12.7 177.2h1.4M12.7 175.6h1.4M12.7 174.3h1.4M12.7 173.1h1.4M12.7 214.7h1.4M12.7 209.8h1.4M12.7 206.3h1.4M12.7 203.6h1.4M12.7 201.4h1.4M12.7 199.6h1.4M12.7 198.0h1.4M12.7 196.6h1.4M12.7 240.9h1.4M12.7 236.4h1.4M12.7 233.2h1.4M12.7 230.7h1.4M12.7 228.7h1.4M12.7 227.0h1.4M12.7 225.5h1.4M12.7 224.2h1.4M12.7 265.9h1.4M12.7 261.6h1.4M12.7 258.5h1.4M12.7 256.1h1.4M12.7 254.1h1.4M12.7 252.4h1.4M12.7 251.0h1.4M12.7 249.7h1.4" stroke="#666" stroke-width="0.7" fill="none"/>
<line x1="11.899999999999999" y1="172" x2="14.1" y2="172" stroke="#666" stroke-width="0.9"/>
<text x="0" y="0" font-size="4.1" font-weight="bold" text-anchor="middle" fill="#000" transform="translate(11.18 172) rotate(-90) scale(1 0.8)" stroke="#000" stroke-width="0.33">1E5</text>
<line x1="11.899999999999999" y1="195.3" x2="14.1" y2="195.3" stroke="#666" stroke-width="0.9"/>
<text x="0" y="0" font-size="4.1" font-weight="bold" text-anchor="middle" fill="#000" transform="translate(11.18 195.3) rotate(-90) scale(1 0.8)" stroke="#000" stroke-width="0.33">1E4</text>
<line x1="11.899999999999999" y1="223" x2="14.1" y2="223" stroke="#666" stroke-width="0.9"/>
<text x="0" y="0" font-size="4.1" font-weight="bold" text-anchor="middle" fill="#000" transform="translate(11.18 223) rotate(-90) scale(1 0.8)" stroke="#000" stroke-width="0.33">1E3</text>
<line x1="11.899999999999999" y1="248.6" x2="14.1" y2="248.6" stroke="#666" stroke-width="0.9"/>
<text x="0" y="0" font-size="4.1" font-weight="bold" text-anchor="middle" fill="#000" transform="translate(11.18 248.6) rotate(-90) scale(1 0.8)" stroke="#000" stroke-width="0.33">0</text>
<line x1="11.899999999999999" y1="273.4" x2="14.1" y2="273.4" stroke="#666" stroke-width="0.9"/>
<text x="0" y="0" font-size="4.1" font-weight="bold" text-anchor="middle" fill="#000" transform="translate(11.18 273.4) rotate(-90) scale(1 0.8)" stroke="#000" stroke-width="0.33">-1E2</text>
<line x1="14.1" y1="275" x2="123" y2="275" stroke="#6a6a6a" stroke-width="1.3"/>
<text x="0" y="0" font-size="6.1" font-weight="bold" text-anchor="middle" fill="#000" transform="translate(5.86 266.8) rotate(-90) scale(1 0.8)" stroke="#000" stroke-width="0.2">CD22</text>
<line x1="41.9" y1="208" x2="41.9" y2="261.3" stroke="#8e8e8e" stroke-width="1"/>
<line x1="24.4" y1="208" x2="60" y2="208" stroke="#9a9a9a" stroke-width="1.1"/>
<line x1="24.4" y1="261.3" x2="60" y2="261.3" stroke="#969696" stroke-width="1.1"/>
<rect x="14.6" y="214.2" width="54.199999999999996" height="8.400000000000006" fill="#7a7a7a"/>
<rect x="14.6" y="217.70000000000002" width="54.199999999999996" height="1.2" fill="#383838"/>
<line x1="96" y1="210.2" x2="96" y2="270.6" stroke="#8e8e8e" stroke-width="1"/>
<line x1="78" y1="210.2" x2="113" y2="210.2" stroke="#9a9a9a" stroke-width="1.1"/>
<line x1="78" y1="270.6" x2="113" y2="270.6" stroke="#969696" stroke-width="1.1"/>
<rect x="68.8" y="218.8" width="53.7" height="12.699999999999989" fill="#000"/>
<rect x="68.8" y="223.5" width="53.7" height="1.2" fill="#f4f4f4"/>
<text x="55.5" y="180.5" font-size="8.5" font-weight="bold" fill="#111" stroke="#111" stroke-width="0.3"><tspan font-style="italic">P</tspan> =.016</text>
<line x1="38.7" y1="184.5" x2="106.2" y2="184.5" stroke="#555" stroke-width="1.3"/>
<text x="43.1" y="203" font-size="8.5" font-weight="bold" text-anchor="middle" fill="#111" stroke="#111" stroke-width="0.3">1379</text>
<text x="96.7" y="204.5" font-size="8.5" font-weight="bold" text-anchor="middle" fill="#111" stroke="#111" stroke-width="0.3">1177</text>
<text x="29.3" y="285.8" font-size="8.7" font-weight="bold" text-anchor="start" fill="#111" stroke="#111" stroke-width="0.3">CD25<tspan font-size="5" dy="-3">-</tspan></text>
<text x="83.8" y="285.8" font-size="8.7" font-weight="bold" text-anchor="start" fill="#111" stroke="#111" stroke-width="0.3">CD25<tspan font-size="5" dy="-3">+</tspan></text>
<line x1="148.9" y1="161" x2="148.9" y2="271.8" stroke="#666" stroke-width="1"/>
<path d="M147.5 186.2h1.4M147.5 182.1h1.4M147.5 179.3h1.4M147.5 177.0h1.4M147.5 175.2h1.4M147.5 173.7h1.4M147.5 172.3h1.4M147.5 171.2h1.4M147.5 211.5h1.4M147.5 206.9h1.4M147.5 203.6h1.4M147.5 201.0h1.4M147.5 198.9h1.4M147.5 197.2h1.4M147.5 195.6h1.4M147.5 194.3h1.4M147.5 238.8h1.4M147.5 233.9h1.4M147.5 230.5h1.4M147.5 227.8h1.4M147.5 225.6h1.4M147.5 223.7h1.4M147.5 222.1h1.4M147.5 220.7h1.4" stroke="#666" stroke-width="0.7" fill="none"/>
<line x1="146.70000000000002" y1="170.1" x2="148.9" y2="170.1" stroke="#666" stroke-width="0.9"/>
<text x="0" y="0" font-size="4.1" font-weight="bold" text-anchor="middle" fill="#000" transform="translate(145.98 170.1) rotate(-90) scale(1 0.8)" stroke="#000" stroke-width="0.33">1E5</text>
<line x1="146.70000000000002" y1="193.1" x2="148.9" y2="193.1" stroke="#666" stroke-width="0.9"/>
<text x="0" y="0" font-size="4.1" font-weight="bold" text-anchor="middle" fill="#000" transform="translate(145.98 193.1) rotate(-90) scale(1 0.8)" stroke="#000" stroke-width="0.33">1E4</text>
<line x1="146.70000000000002" y1="219.4" x2="148.9" y2="219.4" stroke="#666" stroke-width="0.9"/>
<text x="0" y="0" font-size="4.1" font-weight="bold" text-anchor="middle" fill="#000" transform="translate(145.98 219.4) rotate(-90) scale(1 0.8)" stroke="#000" stroke-width="0.33">1E3</text>
<line x1="146.70000000000002" y1="247.2" x2="148.9" y2="247.2" stroke="#666" stroke-width="0.9"/>
<text x="0" y="0" font-size="4.1" font-weight="bold" text-anchor="middle" fill="#000" transform="translate(145.98 247.2) rotate(-90) scale(1 0.8)" stroke="#000" stroke-width="0.33">0</text>
<line x1="148.9" y1="271.8" x2="257.2" y2="271.8" stroke="#6a6a6a" stroke-width="1.3"/>
<text x="0" y="0" font-size="6.1" font-weight="bold" text-anchor="middle" fill="#000" transform="translate(140.66 261) rotate(-90) scale(1 0.8)" stroke="#000" stroke-width="0.2">CD27</text>
<line x1="176.8" y1="228.8" x2="176.8" y2="265" stroke="#8e8e8e" stroke-width="1"/>
<line x1="158.7" y1="228.8" x2="193.7" y2="228.8" stroke="#9a9a9a" stroke-width="1.1"/>
<line x1="158.7" y1="265" x2="193.7" y2="265" stroke="#969696" stroke-width="1.1"/>
<rect x="149.4" y="241.3" width="54.400000000000006" height="11.099999999999994" fill="#7a7a7a"/>
<rect x="149.4" y="246.70000000000002" width="54.400000000000006" height="1.2" fill="#383838"/>
<line x1="230.5" y1="203.6" x2="230.5" y2="271.8" stroke="#8e8e8e" stroke-width="1"/>
<line x1="212.8" y1="203.6" x2="247.7" y2="203.6" stroke="#9a9a9a" stroke-width="1.1"/>
<line x1="212.8" y1="271.8" x2="247.7" y2="271.8" stroke="#969696" stroke-width="1.1"/>
<rect x="203.8" y="213.8" width="53.39999999999998" height="35.0" fill="#000"/>
<rect x="203.8" y="234.8" width="53.39999999999998" height="1.2" fill="#f4f4f4"/>
<text x="190.5" y="180.5" font-size="8.5" font-weight="bold" fill="#111" stroke="#111" stroke-width="0.3"><tspan font-style="italic">P</tspan> =.027</text>
<line x1="174.5" y1="185" x2="242" y2="185" stroke="#555" stroke-width="1.3"/>
<text x="177.5" y="223" font-size="8.5" font-weight="bold" text-anchor="middle" fill="#111" stroke="#111" stroke-width="0.3">10</text>
<text x="231.6" y="198" font-size="8.5" font-weight="bold" text-anchor="middle" fill="#111" stroke="#111" stroke-width="0.3">144</text>
<text x="164.5" y="285.8" font-size="8.7" font-weight="bold" text-anchor="start" fill="#111" stroke="#111" stroke-width="0.3">CD25<tspan font-size="5" dy="-3">-</tspan></text>
<text x="219.1" y="285.8" font-size="8.7" font-weight="bold" text-anchor="start" fill="#111" stroke="#111" stroke-width="0.3">CD25<tspan font-size="5" dy="-3">+</tspan></text>
<line x1="283.4" y1="161" x2="283.4" y2="272.5" stroke="#666" stroke-width="1"/>
<path d="M282.0 184.6h1.4M282.0 180.8h1.4M282.0 178.0h1.4M282.0 175.9h1.4M282.0 174.1h1.4M282.0 172.6h1.4M282.0 171.3h1.4M282.0 170.2h1.4M282.0 206.7h1.4M282.0 202.8h1.4M282.0 200.1h1.4M282.0 197.9h1.4M282.0 196.2h1.4M282.0 194.7h1.4M282.0 193.4h1.4M282.0 192.3h1.4M282.0 232.6h1.4M282.0 227.7h1.4M282.0 224.3h1.4M282.0 221.6h1.4M282.0 219.4h1.4M282.0 217.6h1.4M282.0 216.0h1.4M282.0 214.6h1.4M282.0 247.3h1.4M282.0 245.7h1.4M282.0 244.5h1.4M282.0 243.6h1.4M282.0 242.9h1.4M282.0 242.3h1.4M282.0 241.8h1.4M282.0 241.3h1.4" stroke="#666" stroke-width="0.7" fill="none"/>
<line x1="281.2" y1="169.2" x2="283.4" y2="169.2" stroke="#666" stroke-width="0.9"/>
<text x="0" y="0" font-size="4.1" font-weight="bold" text-anchor="middle" fill="#000" transform="translate(280.48 169.2) rotate(-90) scale(1 0.8)" stroke="#000" stroke-width="0.33">1E5</text>
<line x1="281.2" y1="191.3" x2="283.4" y2="191.3" stroke="#666" stroke-width="0.9"/>
<text x="0" y="0" font-size="4.1" font-weight="bold" text-anchor="middle" fill="#000" transform="translate(280.48 191.3) rotate(-90) scale(1 0.8)" stroke="#000" stroke-width="0.33">1E4</text>
<line x1="281.2" y1="213.3" x2="283.4" y2="213.3" stroke="#666" stroke-width="0.9"/>
<text x="0" y="0" font-size="4.1" font-weight="bold" text-anchor="middle" fill="#000" transform="translate(280.48 213.3) rotate(-90) scale(1 0.8)" stroke="#000" stroke-width="0.33">1E3</text>
<line x1="281.2" y1="240.9" x2="283.4" y2="240.9" stroke="#666" stroke-width="0.9"/>
<text x="0" y="0" font-size="4.1" font-weight="bold" text-anchor="middle" fill="#000" transform="translate(280.48 240.9) rotate(-90) scale(1 0.8)" stroke="#000" stroke-width="0.33">1E2</text>
<line x1="281.2" y1="250" x2="283.4" y2="250" stroke="#666" stroke-width="0.9"/>
<text x="0" y="0" font-size="4.1" font-weight="bold" text-anchor="middle" fill="#000" transform="translate(280.48 250) rotate(-90) scale(1 0.8)" stroke="#000" stroke-width="0.33">0</text>
<line x1="283.4" y1="272.5" x2="392" y2="272.5" stroke="#6a6a6a" stroke-width="1.3"/>
<text x="0" y="0" font-size="6.1" font-weight="bold" text-anchor="middle" fill="#000" transform="translate(275.16 262.4) rotate(-90) scale(1 0.8)" stroke="#000" stroke-width="0.2">CD200</text>
<line x1="312" y1="201.3" x2="312" y2="268.3" stroke="#8e8e8e" stroke-width="1"/>
<line x1="293.8" y1="201.3" x2="328.8" y2="201.3" stroke="#9a9a9a" stroke-width="1.1"/>
<line x1="293.8" y1="268.3" x2="328.8" y2="268.3" stroke="#969696" stroke-width="1.1"/>
<rect x="283.9" y="207" width="54.10000000000002" height="8.5" fill="#7a7a7a"/>
<rect x="283.9" y="210.70000000000002" width="54.10000000000002" height="1.2" fill="#383838"/>
<line x1="365.2" y1="200.8" x2="365.2" y2="268.3" stroke="#8e8e8e" stroke-width="1"/>
<line x1="348" y1="200.8" x2="382.3" y2="200.8" stroke="#9a9a9a" stroke-width="1.1"/>
<line x1="348" y1="268.3" x2="382.3" y2="268.3" stroke="#969696" stroke-width="1.1"/>
<rect x="338" y="209.3" width="54" height="20.399999999999977" fill="#000"/>
<rect x="338" y="214.6" width="54" height="1.2" fill="#f4f4f4"/>
<text x="322.5" y="178.8" font-size="8.5" font-weight="bold" fill="#111" stroke="#111" stroke-width="0.3"><tspan font-style="italic">P</tspan> =.028</text>
<line x1="306.3" y1="182.5" x2="373" y2="182.5" stroke="#555" stroke-width="1.3"/>
<text x="316.1" y="197" font-size="8.5" font-weight="bold" text-anchor="middle" fill="#111" stroke="#111" stroke-width="0.3">1709</text>
<text x="368.1" y="197" font-size="8.5" font-weight="bold" text-anchor="middle" fill="#111" stroke="#111" stroke-width="0.3">1297</text>
<text x="299.5" y="285.8" font-size="8.7" font-weight="bold" text-anchor="start" fill="#111" stroke="#111" stroke-width="0.3">CD25<tspan font-size="5" dy="-3">-</tspan></text>
<text x="354.1" y="285.8" font-size="8.7" font-weight="bold" text-anchor="start" fill="#111" stroke="#111" stroke-width="0.3">CD25<tspan font-size="5" dy="-3">+</tspan></text>
<line x1="412" y1="161" x2="412" y2="272.8" stroke="#666" stroke-width="1"/>
<path d="M410.6 186.4h1.4M410.6 182.6h1.4M410.6 179.8h1.4M410.6 177.7h1.4M410.6 175.9h1.4M410.6 174.4h1.4M410.6 173.1h1.4M410.6 172.0h1.4M410.6 208.5h1.4M410.6 204.6h1.4M410.6 201.9h1.4M410.6 199.7h1.4M410.6 198.0h1.4M410.6 196.5h1.4M410.6 195.2h1.4M410.6 194.1h1.4M410.6 235.0h1.4M410.6 230.0h1.4M410.6 226.4h1.4M410.6 223.7h1.4M410.6 221.4h1.4M410.6 219.5h1.4M410.6 217.9h1.4M410.6 216.4h1.4M410.6 251.4h1.4M410.6 249.4h1.4M410.6 248.0h1.4M410.6 246.9h1.4M410.6 246.1h1.4M410.6 245.3h1.4M410.6 244.7h1.4M410.6 244.1h1.4M410.6 259.8h1.4M410.6 258.5h1.4M410.6 257.6h1.4M410.6 256.9h1.4M410.6 256.3h1.4M410.6 255.8h1.4M410.6 255.4h1.4M410.6 255.0h1.4" stroke="#666" stroke-width="0.7" fill="none"/>
<line x1="409.8" y1="171" x2="412" y2="171" stroke="#666" stroke-width="0.9"/>
<text x="0" y="0" font-size="4.1" font-weight="bold" text-anchor="middle" fill="#000" transform="translate(409.08 171) rotate(-90) scale(1 0.8)" stroke="#000" stroke-width="0.33">1E5</text>
<line x1="409.8" y1="193.1" x2="412" y2="193.1" stroke="#666" stroke-width="0.9"/>
<text x="0" y="0" font-size="4.1" font-weight="bold" text-anchor="middle" fill="#000" transform="translate(409.08 193.1) rotate(-90) scale(1 0.8)" stroke="#000" stroke-width="0.33">1E4</text>
<line x1="409.8" y1="215.1" x2="412" y2="215.1" stroke="#666" stroke-width="0.9"/>
<text x="0" y="0" font-size="4.1" font-weight="bold" text-anchor="middle" fill="#000" transform="translate(409.08 215.1) rotate(-90) scale(1 0.8)" stroke="#000" stroke-width="0.33">1E3</text>
<line x1="409.8" y1="243.6" x2="412" y2="243.6" stroke="#666" stroke-width="0.9"/>
<text x="0" y="0" font-size="4.1" font-weight="bold" text-anchor="middle" fill="#000" transform="translate(409.08 243.6) rotate(-90) scale(1 0.8)" stroke="#000" stroke-width="0.33">1E2</text>
<line x1="409.8" y1="254.7" x2="412" y2="254.7" stroke="#666" stroke-width="0.9"/>
<text x="0" y="0" font-size="4.1" font-weight="bold" text-anchor="middle" fill="#000" transform="translate(409.08 254.7) rotate(-90) scale(1 0.8)" stroke="#000" stroke-width="0.33">0</text>
<line x1="409.8" y1="262" x2="412" y2="262" stroke="#666" stroke-width="0.9"/>
<text x="0" y="0" font-size="4.1" font-weight="bold" text-anchor="middle" fill="#000" transform="translate(409.08 262) rotate(-90) scale(1 0.8)" stroke="#000" stroke-width="0.33">-1E2</text>
<line x1="412" y1="272.8" x2="512" y2="272.8" stroke="#6a6a6a" stroke-width="1.3"/>
<text x="0" y="0" font-size="6.1" font-weight="bold" text-anchor="middle" fill="#000" transform="translate(403.76 263) rotate(-90) scale(1 0.8)" stroke="#000" stroke-width="0.2">CD305</text>
<line x1="439.8" y1="198.5" x2="439.8" y2="272.8" stroke="#8e8e8e" stroke-width="1"/>
<line x1="421.7" y1="198.5" x2="457.5" y2="198.5" stroke="#9a9a9a" stroke-width="1.1"/>
<line x1="421.7" y1="272.8" x2="457.5" y2="272.8" stroke="#969696" stroke-width="1.1"/>
<rect x="412.5" y="203.1" width="54.30000000000001" height="6.5" fill="#7a7a7a"/>
<rect x="412.5" y="205.70000000000002" width="54.30000000000001" height="1.2" fill="#383838"/>
<line x1="493.5" y1="197.7" x2="493.5" y2="272.8" stroke="#8e8e8e" stroke-width="1"/>
<line x1="476.4" y1="197.7" x2="511.4" y2="197.7" stroke="#9a9a9a" stroke-width="1.1"/>
<line x1="476.4" y1="272.8" x2="511.4" y2="272.8" stroke="#969696" stroke-width="1.1"/>
<rect x="466.8" y="205.5" width="54.19999999999999" height="13.5" fill="#000"/>
<rect x="466.8" y="210.1" width="54.19999999999999" height="1.2" fill="#f4f4f4"/>
<text x="452" y="175.6" font-size="8.5" font-weight="bold" fill="#111" stroke="#111" stroke-width="0.3"><tspan font-style="italic">P</tspan> =.016</text>
<line x1="436" y1="179.7" x2="503.3" y2="179.7" stroke="#555" stroke-width="1.3"/>
<text x="439.9" y="193.7" font-size="8.5" font-weight="bold" text-anchor="middle" fill="#111" stroke="#111" stroke-width="0.3">2755</text>
<text x="493.4" y="192.5" font-size="8.5" font-weight="bold" text-anchor="middle" fill="#111" stroke="#111" stroke-width="0.3">2536</text>
<text x="429" y="285.8" font-size="8.7" font-weight="bold" text-anchor="start" fill="#111" stroke="#111" stroke-width="0.3">CD25<tspan font-size="5" dy="-3">-</tspan></text>
<text x="483.6" y="285.8" font-size="8.7" font-weight="bold" text-anchor="start" fill="#111" stroke="#111" stroke-width="0.3">CD25<tspan font-size="5" dy="-3">+</tspan></text>
<text x="0" y="310.8" font-size="11.5" font-weight="bold" text-anchor="start" fill="#111" stroke="#111" stroke-width="0.3">C</text>
<line x1="30.2" y1="324.6" x2="30.2" y2="461.3" stroke="#222" stroke-width="1"/>
<path d="M28.8 354.0h1.4M28.8 349.1h1.4M28.8 345.7h1.4M28.8 343.0h1.4M28.8 340.8h1.4M28.8 339.0h1.4M28.8 337.4h1.4M28.8 336.0h1.4M28.8 383.5h1.4M28.8 378.2h1.4M28.8 374.4h1.4M28.8 371.5h1.4M28.8 369.0h1.4M28.8 367.0h1.4M28.8 365.2h1.4M28.8 363.7h1.4M28.8 411.8h1.4M28.8 407.0h1.4M28.8 403.6h1.4M28.8 400.9h1.4M28.8 398.8h1.4M28.8 396.9h1.4M28.8 395.3h1.4M28.8 393.9h1.4M28.8 427.3h1.4M28.8 425.4h1.4M28.8 424.1h1.4M28.8 423.1h1.4M28.8 422.3h1.4M28.8 421.6h1.4M28.8 421.0h1.4M28.8 420.5h1.4M28.8 445.5h1.4M28.8 441.7h1.4M28.8 439.0h1.4M28.8 436.9h1.4M28.8 435.2h1.4M28.8 433.7h1.4M28.8 432.5h1.4M28.8 431.4h1.4" stroke="#222" stroke-width="0.7" fill="none"/>
<line x1="28.0" y1="452" x2="30.2" y2="452" stroke="#222" stroke-width="0.9"/>
<line x1="28.0" y1="430.4" x2="30.2" y2="430.4" stroke="#222" stroke-width="0.9"/>
<text x="0" y="0" font-size="5.6" font-weight="bold" text-anchor="middle" fill="#000" transform="translate(25.47 430.4) rotate(-90) scale(1 0.88)" stroke="#000" stroke-width="0.45">0</text>
<line x1="28.0" y1="420" x2="30.2" y2="420" stroke="#222" stroke-width="0.9"/>
<line x1="28.0" y1="392.7" x2="30.2" y2="392.7" stroke="#222" stroke-width="0.9"/>
<text x="0" y="0" font-size="5.6" font-weight="bold" text-anchor="middle" fill="#000" transform="translate(25.47 392.7) rotate(-90) scale(1 0.88)" stroke="#000" stroke-width="0.45">1E3</text>
<line x1="28.0" y1="362.3" x2="30.2" y2="362.3" stroke="#222" stroke-width="0.9"/>
<text x="0" y="0" font-size="5.6" font-weight="bold" text-anchor="middle" fill="#000" transform="translate(25.47 362.3) rotate(-90) scale(1 0.88)" stroke="#000" stroke-width="0.45">1E4</text>
<line x1="28.0" y1="334.7" x2="30.2" y2="334.7" stroke="#222" stroke-width="0.9"/>
<text x="0" y="0" font-size="5.6" font-weight="bold" text-anchor="middle" fill="#000" transform="translate(25.47 334.7) rotate(-90) scale(1 0.88)" stroke="#000" stroke-width="0.45">1E5</text>
<path d="M28.0 429.0h2.2M28.0 430.5h2.2M28.0 432.0h2.2M28.0 433.5h2.2M28.0 435.0h2.2" stroke="#000" stroke-width="0.9" fill="none"/>
<line x1="29.3" y1="461.3" x2="167.8" y2="461.3" stroke="#222" stroke-width="1"/>
<path d="M52.3 461.3v1.4M57.0 461.3v1.4M60.4 461.3v1.4M63.0 461.3v1.4M65.1 461.3v1.4M66.9 461.3v1.4M68.4 461.3v1.4M69.8 461.3v1.4M79.9 461.3v1.4M85.1 461.3v1.4M88.8 461.3v1.4M91.7 461.3v1.4M94.0 461.3v1.4M96.0 461.3v1.4M97.7 461.3v1.4M99.2 461.3v1.4M108.9 461.3v1.4M113.8 461.3v1.4M117.3 461.3v1.4M120.0 461.3v1.4M122.2 461.3v1.4M124.0 461.3v1.4M125.6 461.3v1.4M127.0 461.3v1.4M136.5 461.3v1.4M141.2 461.3v1.4M144.6 461.3v1.4M147.2 461.3v1.4M149.4 461.3v1.4M151.2 461.3v1.4M152.8 461.3v1.4M154.2 461.3v1.4" stroke="#222" stroke-width="0.7" fill="none"/>
<line x1="44.3" y1="461.3" x2="44.3" y2="463.5" stroke="#222" stroke-width="0.9"/>
<text x="0" y="0" font-size="5.6" font-weight="bold" text-anchor="middle" fill="#000" transform="translate(44.3 469.27) scale(1 0.88)" stroke="#000" stroke-width="0.45">0</text>
<line x1="71" y1="461.3" x2="71" y2="463.5" stroke="#222" stroke-width="0.9"/>
<text x="0" y="0" font-size="5.6" font-weight="bold" text-anchor="middle" fill="#000" transform="translate(71 469.27) scale(1 0.88)" stroke="#000" stroke-width="0.45">1E2</text>
<line x1="100.6" y1="461.3" x2="100.6" y2="463.5" stroke="#222" stroke-width="0.9"/>
<text x="0" y="0" font-size="5.6" font-weight="bold" text-anchor="middle" fill="#000" transform="translate(100.6 469.27) scale(1 0.88)" stroke="#000" stroke-width="0.45">1E3</text>
<line x1="128.3" y1="461.3" x2="128.3" y2="463.5" stroke="#222" stroke-width="0.9"/>
<text x="0" y="0" font-size="5.6" font-weight="bold" text-anchor="middle" fill="#000" transform="translate(128.3 469.27) scale(1 0.88)" stroke="#000" stroke-width="0.45">1E4</text>
<line x1="155.4" y1="461.3" x2="155.4" y2="463.5" stroke="#222" stroke-width="0.9"/>
<text x="0" y="0" font-size="5.6" font-weight="bold" text-anchor="middle" fill="#000" transform="translate(155.4 469.27) scale(1 0.88)" stroke="#000" stroke-width="0.45">1E5</text>
<path d="M40.8 461.3v2.2M42.3 461.3v2.2M43.8 461.3v2.2M45.3 461.3v2.2M46.8 461.3v2.2" stroke="#000" stroke-width="0.9" fill="none"/>
<text x="0" y="0" font-size="8.9" font-weight="bold" text-anchor="middle" fill="#000" transform="translate(17.4428 448.5) rotate(-90) scale(1 0.7)" stroke="#000" stroke-width="0.4">CD27</text>
<text x="0" y="0" font-size="9.6" font-weight="bold" text-anchor="middle" fill="#000" transform="translate(39 478.2192) scale(1 0.7)" stroke="#000" stroke-width="0.4">IgM</text>
<path d="M43 361.5C50 357 70 351 88 350.5C95 350.5 97 354 96.5 360C95.5 372 92 388 84 399.5C80 405 75 407.5 70 407.5C62 407 50 403 44 396C39 390 38 382 38.5 375C39 368 41 364 43 361.5Z" fill="none" stroke="#111" stroke-width="1.3"/>
<path d="M111.3 363.8C117 357 124 354.4 130 354.2C137 354 146 356 150 363.8C153 369 153.5 380 152.8 390C152 396 148 399 143 401C136 403.5 124 403 117 401C110 399 106 394 104.5 387C103.5 378 106 369 111.3 363.8Z" fill="none" stroke="#111" stroke-width="1.3"/>
<path d="M59.2 433.8C59 425 63 420 68 416.5C75 411.5 85 408.5 100 406.5C115 405 130 404.5 138 404.7C146 405 150 411 152.5 418C155 427 155 440 152 447C149 452 140 455 130 457.5C118 459.5 100 459.5 88 457C76 455 66 450 62 444.4C60 441 59.2 437 59.2 433.8Z" fill="none" stroke="#111" stroke-width="1.3"/>
<text x="0" y="0" font-size="11.3" font-weight="normal" text-anchor="middle" fill="#111" transform="translate(65.8 373.5) scale(1 0.9)" stroke="#111" stroke-width="0.25">Memory</text>
<text x="0" y="0" font-size="11.3" font-weight="normal" text-anchor="middle" fill="#111" transform="translate(65.4 386.2) scale(1 0.9)" stroke="#111" stroke-width="0.25">IgM-</text>
<text x="0" y="0" font-size="11.3" font-weight="normal" text-anchor="middle" fill="#111" transform="translate(130.3 378.8) scale(1 0.9)" stroke="#111" stroke-width="0.25">Memory</text>
<text x="0" y="0" font-size="11.3" font-weight="normal" text-anchor="middle" fill="#111" transform="translate(131 392.5) scale(1 0.9)" stroke="#111" stroke-width="0.25">IgM+</text>
<text x="0" y="0" font-size="11.3" font-weight="normal" text-anchor="middle" fill="#111" transform="translate(108.2 440.6) scale(1 0.9)" stroke="#111" stroke-width="0.25">Naive</text>
<text x="0" y="0" font-size="11.1" font-weight="bold" text-anchor="middle" fill="#111" transform="translate(276.2 314.3) scale(1 0.92)" stroke="#111" stroke-width="0.35">CD25<tspan font-size="7" dy="-4">-</tspan><tspan dy="4"> B-cells</tspan></text>
<line x1="206.9" y1="324.3" x2="206.9" y2="461" stroke="#222" stroke-width="1"/>
<path d="M205.5 354.2h1.4M205.5 349.4h1.4M205.5 345.9h1.4M205.5 343.3h1.4M205.5 341.1h1.4M205.5 339.3h1.4M205.5 337.7h1.4M205.5 336.3h1.4M205.5 382.8h1.4M205.5 377.7h1.4M205.5 374.0h1.4M205.5 371.2h1.4M205.5 368.9h1.4M205.5 367.0h1.4M205.5 365.3h1.4M205.5 363.8h1.4M205.5 412.5h1.4M205.5 407.2h1.4M205.5 403.4h1.4M205.5 400.5h1.4M205.5 398.2h1.4M205.5 396.1h1.4M205.5 394.4h1.4M205.5 392.9h1.4M205.5 434.4h1.4M205.5 431.2h1.4M205.5 428.9h1.4M205.5 427.1h1.4M205.5 425.6h1.4M205.5 424.4h1.4M205.5 423.3h1.4M205.5 422.3h1.4M205.5 446.6h1.4M205.5 445.0h1.4M205.5 443.8h1.4M205.5 442.9h1.4M205.5 442.1h1.4M205.5 441.5h1.4M205.5 440.9h1.4M205.5 440.4h1.4" stroke="#222" stroke-width="0.7" fill="none"/>
<line x1="204.70000000000002" y1="449.5" x2="206.9" y2="449.5" stroke="#222" stroke-width="0.9"/>
<text x="0" y="0" font-size="5.6" font-weight="bold" text-anchor="middle" fill="#000" transform="translate(202.47 449.5) rotate(-90) scale(1 0.88)" stroke="#000" stroke-width="0.45">-1E2</text>
<line x1="204.70000000000002" y1="440" x2="206.9" y2="440" stroke="#222" stroke-width="0.9"/>
<text x="0" y="0" font-size="5.6" font-weight="bold" text-anchor="middle" fill="#000" transform="translate(202.47 440) rotate(-90) scale(1 0.88)" stroke="#000" stroke-width="0.45">0</text>
<line x1="204.70000000000002" y1="421.5" x2="206.9" y2="421.5" stroke="#222" stroke-width="0.9"/>
<text x="0" y="0" font-size="5.6" font-weight="bold" text-anchor="middle" fill="#000" transform="translate(202.47 421.5) rotate(-90) scale(1 0.88)" stroke="#000" stroke-width="0.45">1E2</text>
<line x1="204.70000000000002" y1="391.5" x2="206.9" y2="391.5" stroke="#222" stroke-width="0.9"/>
<text x="0" y="0" font-size="5.6" font-weight="bold" text-anchor="middle" fill="#000" transform="translate(202.47 391.5) rotate(-90) scale(1 0.88)" stroke="#000" stroke-width="0.45">1E3</text>
<line x1="204.70000000000002" y1="362.5" x2="206.9" y2="362.5" stroke="#222" stroke-width="0.9"/>
<text x="0" y="0" font-size="5.6" font-weight="bold" text-anchor="middle" fill="#000" transform="translate(202.47 362.5) rotate(-90) scale(1 0.88)" stroke="#000" stroke-width="0.45">1E4</text>
<line x1="204.70000000000002" y1="335" x2="206.9" y2="335" stroke="#222" stroke-width="0.9"/>
<text x="0" y="0" font-size="5.6" font-weight="bold" text-anchor="middle" fill="#000" transform="translate(202.47 335) rotate(-90) scale(1 0.88)" stroke="#000" stroke-width="0.45">1E5</text>
<path d="M204.7 437.0h2.2M204.7 438.5h2.2M204.7 440.0h2.2M204.7 441.5h2.2M204.7 443.0h2.2" stroke="#000" stroke-width="0.9" fill="none"/>
<line x1="207" y1="461" x2="343.8" y2="461" stroke="#222" stroke-width="1"/>
<path d="M228.5 461.0v1.4M233.1 461.0v1.4M236.5 461.0v1.4M239.0 461.0v1.4M241.1 461.0v1.4M242.9 461.0v1.4M244.4 461.0v1.4M245.8 461.0v1.4M256.2 461.0v1.4M261.6 461.0v1.4M265.4 461.0v1.4M268.3 461.0v1.4M270.7 461.0v1.4M272.8 461.0v1.4M274.5 461.0v1.4M276.1 461.0v1.4M286.1 461.0v1.4M291.1 461.0v1.4M294.7 461.0v1.4M297.4 461.0v1.4M299.7 461.0v1.4M301.6 461.0v1.4M303.2 461.0v1.4M304.7 461.0v1.4M314.3 461.0v1.4M319.1 461.0v1.4M322.6 461.0v1.4M325.2 461.0v1.4M327.4 461.0v1.4M329.2 461.0v1.4M330.8 461.0v1.4M332.2 461.0v1.4" stroke="#222" stroke-width="0.7" fill="none"/>
<line x1="220.5" y1="461" x2="220.5" y2="463.2" stroke="#222" stroke-width="0.9"/>
<text x="0" y="0" font-size="5.6" font-weight="bold" text-anchor="middle" fill="#000" transform="translate(220.5 469.17) scale(1 0.88)" stroke="#000" stroke-width="0.45">0</text>
<line x1="247" y1="461" x2="247" y2="463.2" stroke="#222" stroke-width="0.9"/>
<text x="0" y="0" font-size="5.6" font-weight="bold" text-anchor="middle" fill="#000" transform="translate(247 469.17) scale(1 0.88)" stroke="#000" stroke-width="0.45">1E2</text>
<line x1="277.5" y1="461" x2="277.5" y2="463.2" stroke="#222" stroke-width="0.9"/>
<text x="0" y="0" font-size="5.6" font-weight="bold" text-anchor="middle" fill="#000" transform="translate(277.5 469.17) scale(1 0.88)" stroke="#000" stroke-width="0.45">1E3</text>
<line x1="306" y1="461" x2="306" y2="463.2" stroke="#222" stroke-width="0.9"/>
<text x="0" y="0" font-size="5.6" font-weight="bold" text-anchor="middle" fill="#000" transform="translate(306 469.17) scale(1 0.88)" stroke="#000" stroke-width="0.45">1E4</text>
<line x1="333.5" y1="461" x2="333.5" y2="463.2" stroke="#222" stroke-width="0.9"/>
<text x="0" y="0" font-size="5.6" font-weight="bold" text-anchor="middle" fill="#000" transform="translate(333.5 469.17) scale(1 0.88)" stroke="#000" stroke-width="0.45">1E5</text>
<path d="M217.0 461.0v2.2M218.5 461.0v2.2M220.0 461.0v2.2M221.5 461.0v2.2M223.0 461.0v2.2" stroke="#000" stroke-width="0.9" fill="none"/>
<text x="0" y="0" font-size="9.2" font-weight="bold" text-anchor="middle" fill="#000" transform="translate(194.2184 448.6) rotate(-90) scale(1 0.7)" stroke="#000" stroke-width="0.4">CD27</text>
<text x="0" y="0" font-size="8.9" font-weight="bold" text-anchor="middle" fill="#000" transform="translate(214.8 477.4428) scale(1 0.7)" stroke="#000" stroke-width="0.4">IgM</text>
<g filter="url(#b1)">
<ellipse cx="281" cy="436" rx="27" ry="14" fill="#7c7c7c" opacity="1" transform="rotate(-13 281 436)" filter="url(#b6)"/>
<ellipse cx="252" cy="372.5" rx="9" ry="6.5" fill="#8c8c8c" opacity="1" transform="rotate(0 252 372.5)" filter="url(#b6)"/>
<ellipse cx="309" cy="377.5" rx="6.5" ry="7" fill="#a0a0a0" opacity="1" transform="rotate(0 309 377.5)" filter="url(#b6)"/>
<path d="M237 422.5h1M298 388.5h1M320 405.5h1M273 392.5h1M259 388.5h1M309 397.5h1M239 397.5h1M321 419.5h1M224 395.5h1M267 351.5h1M325 448.5h1M223 409.5h1M248 372.5h1M244 355.5h1M293 389.5h1M294 438.5h1M279 387.5h1M228 420.5h1M291 434.5h1M228 354.5h1M315 415.5h1M223 426.5h1M218 418.5h1M277 427.5h1M223 448.5h1M322 456.5h1M302 383.5h1M327 416.5h1M296 421.5h1M236 442.5h1M288 373.5h1M256 365.5h1M263 456.5h1M257 392.5h1M306 358.5h1M226 430.5h1M227 416.5h1M308 410.5h1M221 372.5h1M275 453.5h1M289 425.5h1M282 385.5h1M283 351.5h1M260 437.5h1M236 420.5h1M297 366.5h1M313 376.5h1M325 387.5h1M284 452.5h1M308 402.5h1M234 416.5h1M281 356.5h1M257 449.5h1M274 369.5h1M287 399.5h1M319 402.5h1M215 367.5h1M232 452.5h1M254 387.5h1M327 372.5h1M285 452.5h1M319 367.5h1M267 377.5h1M294 376.5h1M232 379.5h1M227 427.5h1M244 393.5h1M244 391.5h1M248 388.5h1M295 368.5h1M293 387.5h1M223 362.5h1M318 354.5h1M244 443.5h1M243 440.5h1M225 452.5h1M226 411.5h1M303 410.5h1M271 397.5h1M241 457.5h1M259 419.5h1M280 453.5h1M240 366.5h1M318 404.5h1M287 417.5h1M304 440.5h1M294 350.5h1M310 354.5h1M313 350.5h1M303 418.5h1M215 431.5h1M280 363.5h1M315 413.5h1M266 452.5h1M235 369.5h1M317 367.5h1M308 372.5h1M308 394.5h1M284 415.5h1M258 405.5h1M288 364.5h1M320 438.5h1M236 374.5h1M258 433.5h1M272 384.5h1M302 371.5h1M295 431.5h1M224 411.5h1M282 454.5h1M247 399.5h1M322 364.5h1M317 389.5h1M252 457.5h1M258 376.5h1M236 425.5h1M287 375.5h1M270 380.5h1M310 388.5h1M284 448.5h1M240 452.5h1M269 419.5h1M244 425.5h1M297 413.5h1M313 400.5h1M213 448.5h1M279 416.5h1M282 354.5h1M245 359.5h1M288 442.5h1M289 437.5h1M251 353.5h1M260 368.5h1M248 375.5h1M233 424.5h1M282 438.5h1M328 375.5h1M322 432.5h1M278 455.5h1M272 353.5h1M226 383.5h1M294 411.5h1M292 352.5h1M241 409.5h1M289 396.5h1M237 383.5h1M301 427.5h1M241 452.5h1M217 375.5h1M263 436.5h1" stroke="#c8c8c8" stroke-width="1" opacity="1" fill="none" shape-rendering="crispEdges"/>
<path d="M252 392.5h1M293 399.5h1M290 387.5h1M286 430.5h1M286 358.5h1M294 408.5h1M256 437.5h1M235 447.5h1M262 441.5h1M277 377.5h1M281 414.5h1M292 430.5h1M256 417.5h1M296 400.5h1M255 385.5h1M297 424.5h1M257 377.5h1M309 372.5h1M282 389.5h1M234 409.5h1M273 438.5h1M304 429.5h1M265 387.5h1M318 398.5h1M277 400.5h1M275 393.5h1M297 434.5h1M269 376.5h1M279 374.5h1M262 433.5h1M252 423.5h1M222 391.5h1M316 423.5h1M244 370.5h1M299 405.5h1M263 415.5h1M264 364.5h1M298 392.5h1M253 377.5h1M284 389.5h1M294 400.5h1M305 398.5h1M262 363.5h1M251 422.5h1M252 414.5h1M290 391.5h1M280 371.5h1M271 426.5h1M319 403.5h1M272 416.5h1M306 417.5h1M259 414.5h1M302 391.5h1M245 417.5h1M287 427.5h1M280 392.5h1M267 384.5h1M255 394.5h1M266 431.5h1M248 405.5h1M264 439.5h1M285 398.5h1M298 408.5h1M266 440.5h1M296 444.5h1M307 423.5h1M282 383.5h1M296 408.5h1M295 406.5h1M261 384.5h1M296 435.5h1M271 416.5h1M313 388.5h1M270 382.5h1M308 412.5h1M267 370.5h1M274 428.5h1M271 397.5h1M294 380.5h1M280 420.5h1M259 389.5h1M285 404.5h1M273 411.5h1M284 386.5h1M262 416.5h1M306 436.5h1M258 431.5h1M297 406.5h1M291 425.5h1M323 384.5h1M294 404.5h1M274 432.5h1M299 385.5h1M272 412.5h1M244 426.5h1M277 410.5h1M287 446.5h1M280 399.5h1M322 396.5h1M266 377.5h1M305 413.5h1M290 410.5h1M275 390.5h1M259 416.5h1M282 442.5h1M260 396.5h1M254 437.5h1M248 424.5h1M314 404.5h1M297 361.5h1M269 371.5h1M283 407.5h1M260 427.5h1M288 396.5h1M266 375.5h1M274 453.5h1M261 416.5h1M265 424.5h1M290 402.5h1M235 396.5h1M309 402.5h1M294 396.5h1M233 416.5h1M287 394.5h1M270 413.5h1M264 414.5h1M274 356.5h1M275 394.5h1M258 416.5h1M267 419.5h1M306 410.5h1M241 391.5h1M301 401.5h1M259 405.5h1M291 413.5h1M295 389.5h1M272 402.5h1M278 361.5h1M273 378.5h1M313 441.5h1M321 425.5h1M267 428.5h1M274 420.5h1M257 394.5h1M291 446.5h1M278 456.5h1M278 386.5h1M276 396.5h1M277 428.5h1M302 413.5h1M279 410.5h1M282 420.5h1M279 418.5h1M247 424.5h1M322 411.5h1M244 437.5h1M271 342.5h1M289 434.5h1M295 410.5h1M230 383.5h1M284 422.5h1M254 394.5h1M291 366.5h1M231 402.5h1M285 397.5h1M222 408.5h1M246 421.5h1M277 413.5h1M295 396.5h1M300 434.5h1M289 436.5h1M264 427.5h1M286 386.5h1M277 396.5h1M266 409.5h1M305 400.5h1M282 375.5h1M282 432.5h1M299 418.5h1M266 386.5h1M277 378.5h1M249 428.5h1M257 446.5h1M244 417.5h1M250 411.5h1M253 408.5h1M275 397.5h1M292 440.5h1M265 427.5h1M281 407.5h1M334 360.5h1M262 368.5h1M271 402.5h1M324 436.5h1M268 418.5h1M321 411.5h1M284 418.5h1M242 390.5h1M288 419.5h1M256 400.5h1M276 404.5h1M296 410.5h1M283 376.5h1M253 414.5h1M240 413.5h1M263 389.5h1M295 392.5h1M258 392.5h1M227 407.5h1M273 428.5h1M270 353.5h1M312 383.5h1M278 377.5h1M252 396.5h1M300 425.5h1M264 418.5h1M270 409.5h1M283 421.5h1M264 404.5h1M284 409.5h1M259 445.5h1M267 423.5h1M284 434.5h1M225 452.5h1M274 380.5h1M282 456.5h1M291 380.5h1M267 436.5h1M244 403.5h1M271 454.5h1M272 436.5h1M262 389.5h1M304 420.5h1M236 421.5h1M295 393.5h1M284 413.5h1M267 394.5h1M262 401.5h1M246 406.5h1M242 408.5h1M277 384.5h1M300 449.5h1M312 377.5h1M310 412.5h1M277 394.5h1M278 437.5h1M292 398.5h1M262 398.5h1M293 448.5h1M252 407.5h1M269 390.5h1M289 419.5h1M243 384.5h1M308 414.5h1M292 396.5h1M269 417.5h1M266 383.5h1M279 426.5h1M253 430.5h1M296 388.5h1M279 406.5h1M294 421.5h1M246 377.5h1M304 409.5h1M289 414.5h1M317 380.5h1M306 389.5h1M297 436.5h1M244 416.5h1M272 400.5h1M280 384.5h1M255 421.5h1M300 394.5h1M243 457.5h1M306 415.5h1M253 394.5h1M285 386.5h1M318 410.5h1M288 384.5h1M256 390.5h1M285 401.5h1M272 414.5h1M284 439.5h1M274 385.5h1M278 438.5h1M265 408.5h1M270 416.5h1M285 389.5h1M273 427.5h1M306 427.5h1M300 400.5h1M270 427.5h1M250 406.5h1M233 399.5h1M261 381.5h1M293 391.5h1M270 401.5h1M261 438.5h1M267 411.5h1M247 397.5h1M271 400.5h1M264 410.5h1M317 404.5h1M275 398.5h1M292 422.5h1M261 403.5h1M258 390.5h1M291 414.5h1M227 409.5h1M310 393.5h1M285 375.5h1M299 383.5h1M248 400.5h1M248 417.5h1M284 443.5h1M248 372.5h1M271 415.5h1M287 430.5h1M242 389.5h1M276 425.5h1M290 398.5h1M254 426.5h1M274 442.5h1M249 395.5h1M262 397.5h1M257 395.5h1M277 397.5h1M295 405.5h1M279 439.5h1M286 410.5h1M278 408.5h1M293 390.5h1M307 441.5h1M307 396.5h1M240 397.5h1M283 425.5h1M274 400.5h1M316 392.5h1M305 426.5h1M246 413.5h1M265 386.5h1M233 373.5h1M289 398.5h1M285 384.5h1M271 401.5h1M241 371.5h1M256 405.5h1M295 446.5h1M257 420.5h1M331 408.5h1M315 351.5h1M314 407.5h1M233 424.5h1M304 433.5h1M308 406.5h1M260 397.5h1M278 416.5h1M267 408.5h1M300 414.5h1M251 395.5h1M247 382.5h1M292 385.5h1M253 401.5h1M298 399.5h1M290 417.5h1M302 385.5h1M284 393.5h1M304 424.5h1M253 436.5h1M250 432.5h1M284 388.5h1M251 400.5h1M278 391.5h1M293 377.5h1M279 407.5h1M233 414.5h1M248 353.5h1M264 402.5h1M301 396.5h1M315 438.5h1M287 395.5h1M295 428.5h1M285 402.5h1M240 421.5h1M287 379.5h1M281 423.5h1M276 424.5h1M297 375.5h1M271 417.5h1M301 437.5h1M231 405.5h1M296 433.5h1M320 387.5h1M270 384.5h1M299 378.5h1M308 427.5h1M291 360.5h1M262 423.5h1M244 402.5h1M276 426.5h1M286 413.5h1M268 407.5h1M275 423.5h1M274 429.5h1M237 433.5h1M275 431.5h1M281 425.5h1M316 395.5h1M281 403.5h1M284 372.5h1M274 401.5h1M259 403.5h1M241 437.5h1M290 448.5h1M257 381.5h1M286 371.5h1M284 391.5h1M270 412.5h1M280 447.5h1M294 379.5h1M303 378.5h1M281 380.5h1M258 435.5h1M265 393.5h1M265 400.5h1M314 381.5h1M248 419.5h1M239 399.5h1M307 407.5h1M267 391.5h1M256 394.5h1M282 434.5h1M302 394.5h1M260 422.5h1M234 397.5h1M254 414.5h1M237 387.5h1M262 408.5h1M244 430.5h1M269 392.5h1M254 431.5h1M283 404.5h1M303 391.5h1M293 407.5h1M256 423.5h1M241 420.5h1M256 415.5h1M312 418.5h1M263 405.5h1M269 380.5h1M250 407.5h1M291 368.5h1M276 417.5h1M303 379.5h1M293 440.5h1M227 411.5h1M285 411.5h1M258 399.5h1M243 408.5h1M291 391.5h1M255 395.5h1M277 407.5h1M275 407.5h1M245 346.5h1M292 436.5h1M242 391.5h1M285 426.5h1M293 433.5h1M276 414.5h1M287 396.5h1M307 419.5h1M301 397.5h1M302 383.5h1M287 349.5h1M252 421.5h1M237 439.5h1M292 405.5h1M287 412.5h1M312 410.5h1M241 400.5h1M308 418.5h1M267 418.5h1M280 418.5h1M238 386.5h1M293 401.5h1M286 447.5h1M269 411.5h1M263 392.5h1M275 374.5h1M226 435.5h1M280 409.5h1M293 421.5h1M248 431.5h1M253 410.5h1M292 406.5h1M287 387.5h1M255 413.5h1M239 387.5h1M293 392.5h1M255 382.5h1M281 398.5h1M281 401.5h1M229 408.5h1M277 409.5h1M238 430.5h1M238 415.5h1M275 434.5h1M267 379.5h1M280 386.5h1M287 382.5h1M276 394.5h1M257 404.5h1M263 409.5h1M270 357.5h1M276 435.5h1M288 395.5h1M245 423.5h1M303 417.5h1M287 414.5h1M276 411.5h1M277 412.5h1M254 392.5h1M291 398.5h1M219 408.5h1M222 446.5h1M294 420.5h1M272 406.5h1M259 409.5h1M294 418.5h1M252 360.5h1M277 392.5h1M288 440.5h1M317 412.5h1M304 440.5h1M278 411.5h1M298 405.5h1M265 390.5h1M277 393.5h1M296 399.5h1M312 431.5h1M248 428.5h1M268 435.5h1M290 405.5h1M294 394.5h1M285 414.5h1M274 414.5h1M254 418.5h1M249 419.5h1M289 421.5h1M272 409.5h1M260 436.5h1M267 427.5h1M269 426.5h1M271 388.5h1M289 381.5h1M255 422.5h1M234 422.5h1M269 387.5h1M284 420.5h1M264 403.5h1M297 422.5h1M277 390.5h1M294 419.5h1M286 436.5h1M271 399.5h1M269 446.5h1M230 413.5h1M289 408.5h1M334 431.5h1M297 388.5h1M290 399.5h1M280 411.5h1M267 420.5h1M317 428.5h1M284 367.5h1M305 429.5h1M274 397.5h1M295 390.5h1M298 385.5h1M257 407.5h1M245 407.5h1M292 380.5h1M292 412.5h1M268 396.5h1M239 393.5h1M261 441.5h1M298 412.5h1M270 417.5h1M298 396.5h1M256 411.5h1M260 414.5h1M259 423.5h1M283 420.5h1M307 389.5h1M276 395.5h1M259 449.5h1M301 371.5h1M289 396.5h1M306 409.5h1M275 410.5h1M288 408.5h1M274 405.5h1M291 384.5h1M279 405.5h1M268 423.5h1M249 400.5h1M260 419.5h1M269 408.5h1M288 375.5h1M290 392.5h1M298 423.5h1M268 397.5h1M295 440.5h1M220 396.5h1M304 412.5h1M228 408.5h1M236 448.5h1M284 383.5h1M298 391.5h1M293 408.5h1M248 435.5h1M281 386.5h1M237 441.5h1M313 382.5h1M318 411.5h1M274 406.5h1M273 437.5h1M283 370.5h1M328 426.5h1M254 400.5h1M258 408.5h1M289 412.5h1M266 391.5h1M332 391.5h1M298 409.5h1M262 435.5h1M272 428.5h1M251 436.5h1M295 402.5h1M311 443.5h1M293 411.5h1M323 438.5h1M258 403.5h1M274 399.5h1M281 410.5h1M312 396.5h1M278 413.5h1M269 405.5h1M297 407.5h1M311 392.5h1M284 378.5h1M311 423.5h1M313 422.5h1M263 378.5h1M279 400.5h1M264 401.5h1M241 438.5h1M293 374.5h1M301 427.5h1M272 385.5h1M268 369.5h1M312 409.5h1M293 439.5h1M249 396.5h1M238 422.5h1M283 454.5h1M277 398.5h1M263 425.5h1M241 423.5h1M258 429.5h1M324 398.5h1M292 444.5h1M265 402.5h1M251 404.5h1M278 399.5h1M262 374.5h1M248 387.5h1M295 397.5h1M259 421.5h1M265 421.5h1M288 390.5h1M285 407.5h1M301 417.5h1M255 430.5h1M301 380.5h1M327 383.5h1M258 401.5h1M298 420.5h1M277 436.5h1M289 437.5h1M218 398.5h1M254 409.5h1M282 382.5h1M252 402.5h1M275 352.5h1M303 408.5h1M279 414.5h1M255 406.5h1M305 430.5h1M291 402.5h1M227 389.5h1M233 434.5h1M284 392.5h1M309 379.5h1M276 381.5h1M237 411.5h1M281 399.5h1M284 430.5h1M244 367.5h1M326 414.5h1M319 413.5h1M316 394.5h1M292 441.5h1M302 393.5h1M244 419.5h1M314 426.5h1M248 426.5h1M296 397.5h1M218 430.5h1M301 418.5h1M237 375.5h1M305 425.5h1M292 402.5h1M272 389.5h1M286 398.5h1M303 423.5h1M259 448.5h1M252 417.5h1M225 429.5h1M310 439.5h1M224 393.5h1M313 393.5h1M310 420.5h1M243 386.5h1M268 410.5h1M304 403.5h1M302 373.5h1M291 400.5h1M254 417.5h1M328 405.5h1M261 389.5h1M329 407.5h1M295 434.5h1M306 387.5h1M303 426.5h1M265 406.5h1M266 424.5h1M263 416.5h1M252 405.5h1M270 405.5h1M283 403.5h1M274 362.5h1M307 394.5h1M273 389.5h1M304 388.5h1M292 433.5h1M321 434.5h1M295 381.5h1M312 434.5h1M281 396.5h1M307 436.5h1M254 428.5h1M286 427.5h1M287 432.5h1M305 427.5h1M245 426.5h1M281 383.5h1M297 378.5h1M302 445.5h1M291 422.5h1M283 424.5h1M280 432.5h1M287 423.5h1M314 412.5h1M293 397.5h1M299 435.5h1M278 425.5h1M285 394.5h1M327 407.5h1M280 395.5h1M286 396.5h1M258 407.5h1M260 437.5h1M321 363.5h1M316 378.5h1M283 457.5h1M228 379.5h1M313 412.5h1M257 411.5h1M317 400.5h1M329 396.5h1M265 371.5h1M232 393.5h1M267 405.5h1M278 407.5h1M326 401.5h1M268 373.5h1M291 403.5h1M327 401.5h1M300 428.5h1M321 380.5h1M319 409.5h1M278 402.5h1M223 419.5h1M282 388.5h1M279 458.5h1M290 400.5h1M322 391.5h1M275 424.5h1M270 407.5h1M291 404.5h1M258 395.5h1M259 439.5h1M302 411.5h1M303 415.5h1" stroke="#b0b0b0" stroke-width="1" opacity="1" fill="none" shape-rendering="crispEdges"/>
<path d="M241 413.5h1M286 437.5h1M261 400.5h1M252 440.5h1M265 428.5h1M269 417.5h1M253 393.5h1M286 419.5h1M247 448.5h1M237 410.5h1M233 411.5h1M239 425.5h1M243 394.5h1M240 407.5h1M237 436.5h1M255 414.5h1M227 424.5h1M225 415.5h1M246 394.5h1M232 391.5h1M277 403.5h1M242 436.5h1M251 439.5h1M226 381.5h1M296 409.5h1M240 415.5h1M260 378.5h1M249 409.5h1M255 415.5h1M237 387.5h1M222 399.5h1M271 399.5h1M254 405.5h1M256 411.5h1M237 447.5h1M241 374.5h1M240 425.5h1M228 431.5h1M235 428.5h1M219 399.5h1M247 421.5h1M244 408.5h1M235 398.5h1M250 425.5h1M255 437.5h1M263 362.5h1M237 406.5h1M235 438.5h1M256 407.5h1M247 444.5h1M240 402.5h1M259 423.5h1M267 420.5h1M256 396.5h1M230 410.5h1M260 412.5h1M242 439.5h1M244 437.5h1M279 430.5h1M249 418.5h1M246 439.5h1M220 403.5h1M255 388.5h1M243 392.5h1M252 433.5h1M267 424.5h1M234 417.5h1M254 448.5h1M212 420.5h1M217 429.5h1M252 424.5h1M258 421.5h1M235 420.5h1M263 407.5h1M245 378.5h1M263 397.5h1M234 398.5h1M232 404.5h1M264 431.5h1M267 450.5h1M231 423.5h1M223 372.5h1M252 401.5h1M230 420.5h1M233 350.5h1M245 414.5h1M255 435.5h1M248 404.5h1M235 366.5h1M238 437.5h1M243 362.5h1M257 438.5h1M227 367.5h1M247 429.5h1M228 401.5h1M233 378.5h1M225 414.5h1M239 392.5h1M230 406.5h1M227 420.5h1M222 412.5h1M242 434.5h1M228 393.5h1M222 418.5h1M235 418.5h1M249 417.5h1M236 404.5h1M219 400.5h1M233 403.5h1M256 420.5h1M252 439.5h1M208 421.5h1M244 407.5h1M225 424.5h1M262 437.5h1M243 427.5h1M259 458.5h1M263 413.5h1M246 414.5h1M248 396.5h1M256 391.5h1M232 419.5h1M236 403.5h1M213 431.5h1M244 406.5h1M252 415.5h1M238 436.5h1M272 393.5h1M246 388.5h1M261 401.5h1M228 445.5h1M259 386.5h1M263 415.5h1M286 455.5h1M236 402.5h1M231 413.5h1M245 429.5h1M246 370.5h1M232 447.5h1M262 405.5h1M242 405.5h1M245 365.5h1M258 392.5h1M247 342.5h1M248 445.5h1M210 450.5h1M252 390.5h1M220 441.5h1M248 425.5h1M240 388.5h1M258 384.5h1M258 365.5h1M230 371.5h1M265 363.5h1M227 427.5h1M273 426.5h1M255 361.5h1M231 401.5h1M242 373.5h1M230 387.5h1M261 421.5h1M239 402.5h1M249 391.5h1M240 363.5h1M250 422.5h1M248 374.5h1M228 429.5h1M261 430.5h1M257 414.5h1M222 390.5h1M217 399.5h1M224 412.5h1M242 357.5h1M256 430.5h1M223 413.5h1M255 402.5h1M258 414.5h1M261 414.5h1M242 423.5h1M256 416.5h1M237 388.5h1M239 394.5h1M247 414.5h1M243 409.5h1M247 451.5h1M263 394.5h1M251 400.5h1M243 403.5h1M235 372.5h1M262 385.5h1M252 399.5h1M249 387.5h1M241 406.5h1M208 415.5h1M242 342.5h1M254 408.5h1M247 419.5h1M238 380.5h1M237 397.5h1M278 459.5h1M237 398.5h1M249 424.5h1M233 382.5h1M274 437.5h1M220 361.5h1M231 415.5h1M253 400.5h1M219 415.5h1M253 409.5h1M236 424.5h1M243 378.5h1M246 374.5h1M259 421.5h1M229 414.5h1M263 350.5h1M242 453.5h1M220 404.5h1M222 407.5h1M236 412.5h1M250 420.5h1M262 428.5h1M256 382.5h1M279 431.5h1M256 436.5h1M238 406.5h1M278 352.5h1M250 361.5h1M234 406.5h1M238 413.5h1M232 406.5h1M225 398.5h1M222 427.5h1M224 428.5h1M238 400.5h1M263 412.5h1M214 422.5h1M238 370.5h1M245 400.5h1M276 397.5h1M275 447.5h1M234 386.5h1M265 405.5h1M247 402.5h1M229 366.5h1M239 458.5h1M270 407.5h1M246 423.5h1M266 418.5h1M236 398.5h1M234 352.5h1M257 407.5h1M246 443.5h1M245 372.5h1M213 407.5h1M226 417.5h1M224 399.5h1M221 399.5h1M237 425.5h1M265 404.5h1M250 426.5h1M254 449.5h1M260 428.5h1M256 385.5h1M246 409.5h1M249 410.5h1M237 363.5h1M257 425.5h1M230 423.5h1M250 411.5h1M215 375.5h1M234 454.5h1M230 399.5h1M226 395.5h1M250 351.5h1M245 392.5h1M260 436.5h1M211 404.5h1M262 390.5h1M239 435.5h1M240 375.5h1M233 372.5h1M253 361.5h1M260 363.5h1M245 368.5h1M239 437.5h1M262 445.5h1M243 412.5h1M248 426.5h1M238 440.5h1M249 441.5h1M252 428.5h1M232 397.5h1M223 400.5h1M241 432.5h1M242 444.5h1M240 450.5h1M229 396.5h1M248 357.5h1M247 391.5h1M232 428.5h1M300 418.5h1M253 407.5h1M232 416.5h1M268 414.5h1M258 402.5h1M284 363.5h1M253 424.5h1M248 377.5h1M226 402.5h1M246 375.5h1M260 393.5h1M233 388.5h1M284 422.5h1M243 437.5h1M281 441.5h1M221 406.5h1M237 399.5h1M224 397.5h1M227 418.5h1M245 369.5h1M217 395.5h1M254 422.5h1M236 388.5h1M238 374.5h1M237 390.5h1M287 428.5h1M241 407.5h1M242 414.5h1M237 408.5h1M260 432.5h1M249 446.5h1M247 381.5h1M216 389.5h1M243 420.5h1M261 392.5h1M231 430.5h1M263 395.5h1M249 447.5h1M249 407.5h1M211 446.5h1M254 412.5h1M236 373.5h1M261 374.5h1M267 409.5h1M263 381.5h1M249 443.5h1M246 367.5h1M239 423.5h1M221 368.5h1M248 382.5h1M255 375.5h1M214 387.5h1M268 384.5h1M244 415.5h1M229 439.5h1M217 359.5h1M240 429.5h1M268 401.5h1M240 421.5h1M268 385.5h1M254 402.5h1M239 431.5h1M231 378.5h1M255 408.5h1M240 405.5h1M252 398.5h1M268 444.5h1M258 403.5h1M246 392.5h1M290 402.5h1M253 447.5h1M222 385.5h1M238 381.5h1M224 394.5h1M265 429.5h1M245 409.5h1M217 428.5h1M251 378.5h1M247 403.5h1M236 381.5h1M251 419.5h1M249 404.5h1M214 442.5h1M225 370.5h1M242 362.5h1M257 440.5h1M248 415.5h1M246 421.5h1M256 433.5h1M273 409.5h1M258 363.5h1M242 375.5h1M253 372.5h1M242 410.5h1M247 439.5h1M266 395.5h1M235 448.5h1M240 370.5h1M223 410.5h1M259 451.5h1M241 396.5h1M270 396.5h1M267 415.5h1M248 402.5h1M249 396.5h1M233 405.5h1M245 402.5h1M241 402.5h1M272 409.5h1M235 401.5h1M255 403.5h1M242 402.5h1M247 420.5h1M251 363.5h1M265 413.5h1M262 408.5h1M242 366.5h1M232 392.5h1M259 455.5h1M237 419.5h1M217 388.5h1M221 400.5h1M242 404.5h1M241 422.5h1M229 434.5h1M217 411.5h1M250 387.5h1M219 427.5h1M233 431.5h1M256 409.5h1M244 436.5h1M250 383.5h1M247 424.5h1M229 369.5h1M262 391.5h1M248 367.5h1M247 386.5h1M291 380.5h1M229 435.5h1M262 350.5h1M248 433.5h1M225 428.5h1M238 396.5h1M258 407.5h1M265 401.5h1M242 455.5h1M233 393.5h1M250 435.5h1M223 416.5h1M241 401.5h1M247 354.5h1M248 413.5h1M269 398.5h1M253 402.5h1M231 383.5h1M238 445.5h1M257 389.5h1M260 405.5h1M233 421.5h1M230 365.5h1M265 358.5h1M253 366.5h1M244 403.5h1M237 348.5h1M242 408.5h1M230 407.5h1M260 389.5h1M283 434.5h1M251 448.5h1M228 438.5h1M235 392.5h1M261 415.5h1M265 369.5h1M248 394.5h1M240 356.5h1M259 415.5h1M229 372.5h1M230 447.5h1M243 400.5h1M252 409.5h1M248 429.5h1M249 433.5h1M225 411.5h1M239 412.5h1M244 392.5h1M236 375.5h1M254 436.5h1M240 413.5h1M231 404.5h1M262 431.5h1M219 418.5h1M252 438.5h1M276 420.5h1M259 379.5h1M263 433.5h1M266 428.5h1M252 450.5h1M234 427.5h1M261 388.5h1M227 421.5h1M247 426.5h1M255 389.5h1M250 441.5h1M227 432.5h1M275 372.5h1M257 434.5h1M236 400.5h1M228 388.5h1M247 428.5h1M247 433.5h1M248 378.5h1M267 442.5h1M234 458.5h1M252 414.5h1M275 342.5h1M220 429.5h1M241 384.5h1M268 423.5h1M225 392.5h1M258 459.5h1M214 417.5h1M239 363.5h1M237 454.5h1M253 432.5h1M254 420.5h1M260 379.5h1M239 434.5h1M264 452.5h1M254 418.5h1M235 427.5h1M254 413.5h1M291 448.5h1M258 439.5h1M291 441.5h1M234 419.5h1M246 395.5h1M244 397.5h1M258 367.5h1" stroke="#b4b4b4" stroke-width="1" opacity="1" fill="none" shape-rendering="crispEdges"/>
<path d="M262 372.5h1M255 353.5h1M272 358.5h1M242 378.5h1M245 369.5h1M226 369.5h1M255 378.5h1M249 374.5h1M257 367.5h1M243 389.5h1M242 383.5h1M253 385.5h1M245 377.5h1M256 370.5h1M256 366.5h1M251 369.5h1M261 372.5h1M236 369.5h1M251 365.5h1M268 376.5h1M262 366.5h1M247 381.5h1M235 375.5h1M253 368.5h1M253 363.5h1M255 362.5h1M237 384.5h1M244 355.5h1M264 366.5h1M211 372.5h1M263 375.5h1M272 371.5h1M259 364.5h1M254 385.5h1M258 374.5h1M229 369.5h1M237 379.5h1M243 375.5h1M240 388.5h1M238 374.5h1M283 374.5h1M264 380.5h1M229 374.5h1M227 388.5h1M253 369.5h1M260 376.5h1M238 386.5h1M249 358.5h1M269 385.5h1M267 377.5h1M242 380.5h1M274 379.5h1M271 366.5h1M234 359.5h1M244 373.5h1M257 371.5h1M251 371.5h1M253 377.5h1M258 372.5h1M255 369.5h1M262 368.5h1M272 372.5h1M255 366.5h1M248 374.5h1M252 367.5h1M238 373.5h1M254 377.5h1M267 370.5h1M228 371.5h1M230 362.5h1M264 377.5h1M244 367.5h1M251 358.5h1M258 370.5h1M274 364.5h1M264 367.5h1M264 364.5h1M261 369.5h1M242 371.5h1M258 376.5h1M271 379.5h1M221 369.5h1M228 369.5h1M260 361.5h1M249 386.5h1M256 377.5h1M273 368.5h1M252 364.5h1M255 381.5h1M269 372.5h1M244 366.5h1M236 374.5h1M268 352.5h1M226 384.5h1M233 375.5h1M262 374.5h1M262 373.5h1M259 388.5h1M265 367.5h1M243 371.5h1M250 373.5h1M245 378.5h1M253 376.5h1M252 378.5h1M256 376.5h1M260 382.5h1M261 375.5h1M250 359.5h1M255 370.5h1M249 393.5h1M230 373.5h1M267 381.5h1M267 362.5h1M241 378.5h1M249 387.5h1M255 374.5h1M254 367.5h1M252 369.5h1M256 361.5h1M235 377.5h1M255 365.5h1M250 364.5h1M277 359.5h1M273 366.5h1M248 381.5h1M262 370.5h1M242 390.5h1M269 374.5h1M249 375.5h1M254 383.5h1M241 373.5h1M243 384.5h1M274 372.5h1M259 385.5h1M249 365.5h1M265 377.5h1M250 385.5h1M255 358.5h1M257 372.5h1M275 373.5h1M250 376.5h1M254 370.5h1M269 393.5h1M239 365.5h1M242 367.5h1M266 362.5h1M234 357.5h1M266 384.5h1M254 382.5h1M265 374.5h1M261 376.5h1M246 389.5h1M247 360.5h1M253 382.5h1M237 382.5h1M278 376.5h1M239 366.5h1M249 362.5h1M238 371.5h1M250 378.5h1M238 389.5h1M265 380.5h1M245 388.5h1M249 388.5h1M266 365.5h1M247 389.5h1M265 371.5h1M258 365.5h1M261 374.5h1M262 380.5h1M268 378.5h1M261 371.5h1M259 365.5h1M250 379.5h1M252 377.5h1M240 384.5h1M246 376.5h1M252 381.5h1M248 364.5h1M230 370.5h1M238 377.5h1M270 354.5h1M237 375.5h1M267 375.5h1M257 377.5h1M260 387.5h1M260 362.5h1M247 375.5h1M246 367.5h1M239 367.5h1M253 391.5h1M256 385.5h1M259 354.5h1M257 366.5h1M236 364.5h1M274 359.5h1M245 383.5h1M261 358.5h1M251 368.5h1M246 370.5h1M270 357.5h1M248 377.5h1M238 367.5h1M237 374.5h1M245 380.5h1M265 373.5h1M248 375.5h1M253 362.5h1M266 375.5h1M262 361.5h1M263 391.5h1M260 360.5h1M253 372.5h1M255 371.5h1M259 369.5h1M255 367.5h1M254 381.5h1M247 378.5h1M242 370.5h1M250 383.5h1M243 383.5h1M235 371.5h1M264 379.5h1M240 362.5h1M263 362.5h1M260 368.5h1M252 393.5h1M271 380.5h1M236 375.5h1M269 358.5h1M256 374.5h1M243 388.5h1M237 373.5h1M253 354.5h1M235 364.5h1M262 381.5h1M260 375.5h1M226 375.5h1M246 383.5h1M269 392.5h1M261 380.5h1M240 373.5h1M237 380.5h1M242 369.5h1M258 368.5h1M255 364.5h1M269 367.5h1M265 391.5h1M223 364.5h1M247 376.5h1M244 377.5h1M238 380.5h1M216 356.5h1M275 374.5h1M241 392.5h1M265 382.5h1M259 358.5h1M260 371.5h1M268 384.5h1M245 367.5h1M247 372.5h1M241 357.5h1M248 370.5h1M233 369.5h1M220 369.5h1M241 389.5h1M258 371.5h1M254 379.5h1M248 394.5h1M253 355.5h1M262 395.5h1M241 403.5h1M245 370.5h1M237 363.5h1M226 383.5h1M238 376.5h1M256 367.5h1M246 373.5h1M253 364.5h1M236 365.5h1M270 375.5h1M264 374.5h1M266 374.5h1M257 370.5h1M252 389.5h1M245 381.5h1M275 370.5h1M218 378.5h1M260 358.5h1M249 372.5h1M223 378.5h1M258 375.5h1M240 385.5h1M257 353.5h1M273 374.5h1M245 373.5h1M222 363.5h1M269 384.5h1M264 372.5h1M239 379.5h1M226 385.5h1M232 367.5h1M244 379.5h1M259 377.5h1M251 355.5h1M223 352.5h1M251 370.5h1M250 374.5h1M249 363.5h1M233 356.5h1M267 380.5h1M235 370.5h1M257 386.5h1M244 374.5h1M266 357.5h1M243 372.5h1M243 391.5h1M263 374.5h1M240 380.5h1M246 359.5h1M251 380.5h1M262 367.5h1M258 380.5h1M261 373.5h1M245 376.5h1M281 370.5h1M241 376.5h1M251 373.5h1M253 353.5h1M267 367.5h1M242 382.5h1M258 379.5h1M252 362.5h1M264 368.5h1M245 390.5h1M263 363.5h1M242 355.5h1M262 379.5h1M254 378.5h1M239 369.5h1M255 361.5h1M244 388.5h1M244 383.5h1M237 370.5h1M262 378.5h1M235 386.5h1M253 367.5h1M230 377.5h1M258 378.5h1M254 384.5h1M248 363.5h1M256 348.5h1M247 374.5h1M260 373.5h1M247 382.5h1M243 368.5h1M261 377.5h1M277 370.5h1M228 378.5h1M267 371.5h1M271 388.5h1M236 377.5h1M260 377.5h1M234 358.5h1M235 358.5h1M249 376.5h1M259 372.5h1M245 372.5h1M238 381.5h1M232 376.5h1M235 385.5h1M262 365.5h1M246 362.5h1M251 376.5h1M283 360.5h1M255 380.5h1M233 368.5h1M278 384.5h1M237 376.5h1M262 371.5h1M227 355.5h1M250 377.5h1M267 369.5h1M252 374.5h1M257 375.5h1M236 372.5h1M230 354.5h1M249 368.5h1M258 385.5h1M251 388.5h1M236 373.5h1M259 356.5h1M253 365.5h1M253 375.5h1M247 369.5h1M237 377.5h1M243 376.5h1M234 384.5h1M239 382.5h1M246 377.5h1M252 383.5h1M260 378.5h1M272 366.5h1M268 373.5h1M233 376.5h1M254 355.5h1M258 363.5h1M269 387.5h1M254 374.5h1M260 369.5h1M237 371.5h1M240 387.5h1M243 366.5h1M251 361.5h1M246 371.5h1M267 376.5h1M235 368.5h1M261 366.5h1M250 365.5h1M256 364.5h1M273 372.5h1M249 379.5h1M251 366.5h1M240 366.5h1M247 368.5h1M260 389.5h1M240 377.5h1M258 361.5h1M239 386.5h1M262 382.5h1M234 370.5h1M268 355.5h1M252 371.5h1M236 370.5h1M252 368.5h1M255 359.5h1M280 383.5h1M225 364.5h1M249 391.5h1M268 367.5h1M266 383.5h1M264 360.5h1M232 377.5h1M218 388.5h1M246 378.5h1M239 391.5h1M248 371.5h1M255 383.5h1M253 388.5h1M241 377.5h1M273 383.5h1M234 366.5h1M234 369.5h1M231 367.5h1M295 373.5h1M247 367.5h1M237 356.5h1M270 358.5h1M257 384.5h1M227 378.5h1M270 372.5h1M255 382.5h1M249 371.5h1M256 379.5h1M231 373.5h1M264 375.5h1M267 363.5h1M246 363.5h1M252 373.5h1M249 361.5h1M259 370.5h1M229 371.5h1M234 380.5h1M257 359.5h1M224 367.5h1M248 359.5h1M239 384.5h1M263 370.5h1M244 405.5h1M274 381.5h1M240 378.5h1M258 358.5h1M275 362.5h1M282 381.5h1M249 377.5h1M254 371.5h1M235 369.5h1M259 368.5h1M256 371.5h1M239 364.5h1M243 370.5h1M249 382.5h1M238 354.5h1M250 394.5h1M270 377.5h1M263 373.5h1M271 386.5h1M244 382.5h1M250 382.5h1M250 370.5h1M245 360.5h1M273 369.5h1M230 352.5h1M217 367.5h1M248 356.5h1M256 384.5h1M272 381.5h1M245 361.5h1M239 357.5h1M274 371.5h1M277 367.5h1M250 356.5h1M263 366.5h1M246 374.5h1M255 373.5h1M260 370.5h1M267 366.5h1M234 372.5h1M267 368.5h1M244 369.5h1M256 357.5h1M271 377.5h1M241 384.5h1M237 387.5h1M261 370.5h1M239 370.5h1M228 377.5h1M249 370.5h1M269 373.5h1M244 364.5h1M251 382.5h1M245 363.5h1M252 391.5h1M259 382.5h1M236 380.5h1M282 372.5h1M229 386.5h1M264 369.5h1M276 367.5h1M236 355.5h1M247 364.5h1M283 371.5h1M245 362.5h1M231 359.5h1M239 375.5h1M267 391.5h1M251 378.5h1M243 380.5h1M266 373.5h1M249 369.5h1M270 368.5h1M241 365.5h1M269 368.5h1M241 359.5h1M245 365.5h1M262 362.5h1M251 377.5h1M262 358.5h1M269 371.5h1M258 387.5h1M248 373.5h1M267 379.5h1M264 373.5h1M248 369.5h1M248 358.5h1M256 388.5h1M242 375.5h1M270 367.5h1M258 377.5h1M257 380.5h1M230 355.5h1M242 359.5h1M258 381.5h1M254 375.5h1M246 366.5h1M246 379.5h1M247 385.5h1M249 384.5h1M237 366.5h1M250 390.5h1M245 386.5h1M262 376.5h1M232 375.5h1M254 369.5h1M237 381.5h1M252 361.5h1M212 383.5h1M266 360.5h1M243 374.5h1M247 365.5h1M245 374.5h1M249 366.5h1M252 358.5h1M269 357.5h1M251 375.5h1M257 374.5h1M268 365.5h1M272 368.5h1M260 374.5h1M242 381.5h1M272 378.5h1M255 379.5h1M254 368.5h1M255 360.5h1M263 383.5h1M270 376.5h1M262 388.5h1M239 372.5h1M255 372.5h1M244 390.5h1M250 371.5h1M265 372.5h1M249 380.5h1M239 378.5h1M264 378.5h1M250 372.5h1M231 371.5h1M242 372.5h1M250 368.5h1M249 354.5h1M233 362.5h1M269 360.5h1M238 370.5h1M226 370.5h1M251 394.5h1M256 369.5h1M245 385.5h1M269 376.5h1M265 379.5h1M268 360.5h1M248 385.5h1M274 361.5h1M242 374.5h1M248 380.5h1M256 382.5h1M227 373.5h1M259 360.5h1M272 364.5h1M241 353.5h1M239 362.5h1M272 382.5h1M237 389.5h1M243 357.5h1M241 372.5h1M247 366.5h1M252 366.5h1M231 372.5h1M251 379.5h1M244 351.5h1M238 383.5h1M270 378.5h1M255 377.5h1M257 358.5h1M241 382.5h1M245 364.5h1M229 373.5h1M272 377.5h1M243 377.5h1M234 381.5h1M258 384.5h1M246 364.5h1M277 372.5h1M269 366.5h1M244 385.5h1M256 355.5h1M249 364.5h1M237 367.5h1M246 372.5h1M242 356.5h1M245 379.5h1M257 368.5h1M247 363.5h1M243 382.5h1M226 365.5h1M239 387.5h1M219 374.5h1M261 383.5h1M256 358.5h1M242 377.5h1M286 373.5h1M252 370.5h1M220 354.5h1M259 361.5h1M245 371.5h1M263 377.5h1M248 362.5h1M257 378.5h1M253 381.5h1M253 380.5h1M234 389.5h1M286 362.5h1M251 372.5h1M238 361.5h1M243 369.5h1M269 380.5h1M238 347.5h1M247 373.5h1M246 368.5h1M234 378.5h1M249 373.5h1M276 366.5h1M245 389.5h1M280 372.5h1M241 375.5h1M278 382.5h1M258 382.5h1M266 371.5h1M236 387.5h1M231 370.5h1M234 374.5h1M250 375.5h1M235 380.5h1M266 370.5h1M234 367.5h1M273 365.5h1M277 371.5h1M258 369.5h1M257 391.5h1M244 361.5h1M232 378.5h1M229 384.5h1M238 372.5h1M252 382.5h1M244 357.5h1M232 366.5h1M249 381.5h1M279 387.5h1M279 363.5h1M247 370.5h1M254 362.5h1M263 376.5h1M254 376.5h1M238 382.5h1M235 381.5h1M241 366.5h1M241 374.5h1M229 383.5h1M262 384.5h1M240 352.5h1M244 371.5h1M255 368.5h1M233 387.5h1M265 365.5h1M252 386.5h1M255 376.5h1M237 372.5h1M266 380.5h1M256 368.5h1M244 376.5h1M266 364.5h1M254 363.5h1M261 384.5h1M248 379.5h1M258 373.5h1M235 353.5h1M248 372.5h1M265 368.5h1M273 367.5h1M229 390.5h1M269 382.5h1M231 374.5h1M257 373.5h1M250 362.5h1M256 360.5h1M247 379.5h1M241 368.5h1M240 383.5h1M259 381.5h1M244 375.5h1M235 365.5h1M238 356.5h1M236 363.5h1M262 369.5h1M264 371.5h1M259 373.5h1M239 368.5h1M285 385.5h1M283 375.5h1M256 381.5h1M253 379.5h1M249 357.5h1M231 387.5h1M230 375.5h1M275 379.5h1M265 364.5h1M254 359.5h1M275 377.5h1M226 356.5h1M276 375.5h1M230 371.5h1M242 376.5h1M248 378.5h1M230 395.5h1M243 373.5h1M246 360.5h1M273 361.5h1M268 357.5h1M233 373.5h1M230 364.5h1M240 367.5h1M242 379.5h1M281 365.5h1M233 365.5h1M240 361.5h1M247 362.5h1M246 369.5h1M256 359.5h1M248 357.5h1M273 384.5h1M260 381.5h1M275 380.5h1M232 370.5h1M223 365.5h1M222 368.5h1M247 371.5h1M278 369.5h1M244 378.5h1M224 374.5h1M232 368.5h1M271 367.5h1M256 373.5h1M238 387.5h1M247 377.5h1M248 392.5h1M257 369.5h1M259 380.5h1M235 374.5h1M263 387.5h1M224 364.5h1M248 388.5h1M242 362.5h1M227 369.5h1M234 365.5h1M224 373.5h1M232 348.5h1M265 376.5h1M255 375.5h1M239 381.5h1M238 388.5h1M254 356.5h1M261 388.5h1M248 366.5h1M220 382.5h1M246 375.5h1M237 364.5h1M246 361.5h1M236 384.5h1M244 370.5h1M271 370.5h1M232 364.5h1M247 387.5h1M242 384.5h1M223 373.5h1M268 369.5h1M279 372.5h1M239 377.5h1M248 383.5h1M254 366.5h1M232 369.5h1M271 356.5h1M234 363.5h1M255 391.5h1M243 364.5h1M262 353.5h1M225 361.5h1M254 389.5h1" stroke="#8e8e8e" stroke-width="1" opacity="1" fill="none" shape-rendering="crispEdges"/>
<path d="M316 378.5h1M320 368.5h1M294 377.5h1M318 360.5h1M317 386.5h1M303 378.5h1M305 378.5h1M316 369.5h1M319 386.5h1M317 357.5h1M289 384.5h1M302 370.5h1M301 363.5h1M305 369.5h1M302 382.5h1M296 388.5h1M286 402.5h1M294 383.5h1M318 377.5h1M316 376.5h1M290 380.5h1M320 371.5h1M291 371.5h1M312 380.5h1M320 382.5h1M313 356.5h1M331 377.5h1M317 373.5h1M307 377.5h1M324 392.5h1M315 397.5h1M304 382.5h1M304 390.5h1M309 387.5h1M326 356.5h1M330 380.5h1M305 357.5h1M305 353.5h1M309 375.5h1M327 374.5h1M319 389.5h1M329 374.5h1M316 361.5h1M297 374.5h1M308 364.5h1M304 384.5h1M304 375.5h1M299 391.5h1M327 379.5h1M307 394.5h1M313 370.5h1M295 371.5h1M331 371.5h1M306 391.5h1M306 381.5h1M298 364.5h1M301 379.5h1M302 357.5h1M313 375.5h1M306 371.5h1M285 393.5h1M323 389.5h1M311 377.5h1M312 386.5h1M314 372.5h1M313 381.5h1M316 379.5h1M323 379.5h1M303 367.5h1M307 382.5h1M321 376.5h1M303 372.5h1M322 378.5h1M303 385.5h1M295 378.5h1M308 376.5h1M297 387.5h1M326 363.5h1M310 384.5h1M332 373.5h1M299 377.5h1M329 378.5h1M311 395.5h1M287 355.5h1M318 385.5h1M294 382.5h1M309 379.5h1M300 372.5h1M300 378.5h1M306 394.5h1M315 361.5h1M313 392.5h1M311 388.5h1M308 384.5h1M299 385.5h1M294 390.5h1M293 355.5h1M314 375.5h1M310 381.5h1M308 368.5h1M311 381.5h1M314 397.5h1M301 378.5h1M296 371.5h1M319 374.5h1M315 369.5h1M309 392.5h1M292 382.5h1M325 391.5h1M305 370.5h1M303 380.5h1M315 366.5h1M297 364.5h1M295 376.5h1M312 403.5h1M314 377.5h1M323 369.5h1M312 387.5h1M317 381.5h1M305 364.5h1M307 371.5h1M314 360.5h1M318 368.5h1M292 363.5h1M302 389.5h1M316 365.5h1M309 376.5h1M292 367.5h1M288 368.5h1M281 369.5h1M299 369.5h1M300 389.5h1M305 379.5h1M316 386.5h1M315 371.5h1M297 369.5h1M304 377.5h1M308 388.5h1M307 395.5h1M319 372.5h1M317 348.5h1M323 381.5h1M313 360.5h1M334 374.5h1M307 389.5h1M307 368.5h1M315 367.5h1M320 365.5h1M321 380.5h1M329 370.5h1M327 384.5h1M317 370.5h1M314 384.5h1M300 365.5h1M301 392.5h1M310 387.5h1M311 378.5h1M311 373.5h1M321 379.5h1M311 363.5h1M312 370.5h1M303 388.5h1M297 375.5h1M315 389.5h1M311 365.5h1M287 357.5h1M315 378.5h1M295 370.5h1M304 373.5h1M308 400.5h1M301 371.5h1M299 375.5h1M303 381.5h1M311 368.5h1M328 365.5h1M312 399.5h1M301 391.5h1M323 380.5h1M290 392.5h1M309 371.5h1M322 370.5h1M319 371.5h1M314 366.5h1M304 368.5h1M307 379.5h1M322 376.5h1M289 374.5h1M319 387.5h1M306 384.5h1M313 382.5h1M302 383.5h1M295 387.5h1M314 398.5h1M310 377.5h1M307 366.5h1M297 371.5h1M306 365.5h1M316 375.5h1M315 387.5h1M316 373.5h1M304 358.5h1M297 391.5h1M323 373.5h1M318 363.5h1M298 373.5h1M300 397.5h1M311 380.5h1M315 379.5h1M292 392.5h1M299 360.5h1M300 361.5h1M329 381.5h1M323 392.5h1M314 383.5h1M301 376.5h1M302 377.5h1M301 390.5h1M291 384.5h1M318 376.5h1M296 381.5h1M319 357.5h1M314 358.5h1M309 395.5h1M309 382.5h1M305 377.5h1M332 391.5h1M305 373.5h1M309 399.5h1M301 370.5h1M302 371.5h1M293 389.5h1M305 381.5h1M310 389.5h1M302 365.5h1M300 371.5h1M303 364.5h1M325 380.5h1M288 366.5h1M295 379.5h1M319 367.5h1M315 374.5h1M320 391.5h1M312 384.5h1M308 373.5h1M297 380.5h1M308 375.5h1M298 372.5h1M320 375.5h1M323 365.5h1M316 370.5h1M315 386.5h1M319 376.5h1M308 360.5h1M309 380.5h1M323 364.5h1M300 367.5h1M318 351.5h1M298 398.5h1M315 364.5h1M308 386.5h1M300 385.5h1M308 385.5h1M313 372.5h1M323 372.5h1M313 371.5h1M306 374.5h1M302 379.5h1M322 396.5h1M323 375.5h1M327 364.5h1M323 371.5h1M320 372.5h1M318 374.5h1M290 367.5h1M306 377.5h1M286 365.5h1M301 375.5h1M311 369.5h1M293 380.5h1M305 386.5h1M303 384.5h1M300 380.5h1M299 376.5h1M300 375.5h1M315 407.5h1M309 384.5h1M310 388.5h1M313 388.5h1M312 401.5h1M322 360.5h1M312 378.5h1M286 368.5h1M304 370.5h1M310 359.5h1M316 385.5h1M312 374.5h1M309 372.5h1M329 373.5h1M307 367.5h1M314 376.5h1M315 392.5h1M308 381.5h1M314 385.5h1M313 389.5h1M304 381.5h1M326 379.5h1M299 381.5h1M295 368.5h1M308 361.5h1M320 357.5h1M300 362.5h1M302 385.5h1M315 357.5h1M312 359.5h1M303 382.5h1M300 394.5h1M308 397.5h1M298 382.5h1M317 385.5h1M298 359.5h1M303 375.5h1M334 375.5h1M330 378.5h1M315 375.5h1M311 376.5h1M308 377.5h1M292 379.5h1M322 367.5h1M306 379.5h1M320 383.5h1M306 382.5h1M319 381.5h1M327 381.5h1M298 369.5h1M307 375.5h1M315 381.5h1M326 385.5h1M310 383.5h1M311 371.5h1M326 389.5h1M293 371.5h1M317 375.5h1M318 372.5h1M319 379.5h1M296 373.5h1M305 382.5h1M316 366.5h1M316 377.5h1M298 386.5h1M301 365.5h1M302 388.5h1M329 377.5h1M311 353.5h1M320 392.5h1M328 348.5h1M279 370.5h1M308 392.5h1M300 379.5h1M319 364.5h1M320 370.5h1M306 389.5h1M317 383.5h1M313 376.5h1M295 380.5h1M300 370.5h1M312 373.5h1M308 387.5h1M313 396.5h1M312 395.5h1M320 403.5h1M309 377.5h1M322 373.5h1M305 380.5h1M313 364.5h1M312 375.5h1M307 388.5h1M317 390.5h1M308 379.5h1M326 386.5h1M316 371.5h1M302 361.5h1M310 382.5h1M312 379.5h1M284 385.5h1M314 378.5h1M325 364.5h1M281 393.5h1M314 362.5h1M305 384.5h1M297 384.5h1M331 392.5h1M309 381.5h1M306 368.5h1M296 397.5h1M310 368.5h1M305 393.5h1M326 372.5h1M311 387.5h1M306 366.5h1M307 387.5h1M328 370.5h1M309 364.5h1M317 377.5h1M293 370.5h1M327 385.5h1M294 370.5h1M296 370.5h1M306 383.5h1M319 388.5h1M309 383.5h1M314 369.5h1M314 390.5h1M298 355.5h1M312 389.5h1M298 353.5h1M288 370.5h1M310 371.5h1M303 362.5h1M293 361.5h1M315 358.5h1M314 380.5h1M316 389.5h1M301 368.5h1M315 376.5h1M304 388.5h1M290 379.5h1M302 386.5h1M305 358.5h1M300 390.5h1M322 375.5h1M314 364.5h1M314 356.5h1M291 368.5h1M306 378.5h1M310 397.5h1M315 383.5h1M304 385.5h1M315 384.5h1M307 383.5h1M324 369.5h1M287 385.5h1M304 404.5h1M304 365.5h1M302 373.5h1M310 376.5h1M298 378.5h1M297 386.5h1M299 374.5h1M290 372.5h1M296 392.5h1M291 365.5h1M307 363.5h1M320 373.5h1M310 380.5h1M307 384.5h1M302 380.5h1M320 379.5h1M310 373.5h1M306 360.5h1M310 375.5h1M313 377.5h1M324 365.5h1M299 383.5h1M298 380.5h1M308 357.5h1M315 390.5h1M310 363.5h1M307 381.5h1M301 360.5h1M307 376.5h1M300 369.5h1M304 371.5h1M310 378.5h1M306 363.5h1M305 371.5h1M309 388.5h1M309 374.5h1M311 372.5h1M305 368.5h1M326 382.5h1M304 386.5h1M316 405.5h1M298 376.5h1M307 380.5h1M301 380.5h1M318 366.5h1M293 388.5h1M316 387.5h1M306 372.5h1M322 380.5h1M305 389.5h1M303 377.5h1M294 373.5h1M311 379.5h1M311 399.5h1M323 366.5h1M314 381.5h1M297 383.5h1M330 383.5h1M305 372.5h1M309 363.5h1M298 370.5h1M287 375.5h1M294 353.5h1M307 390.5h1M297 377.5h1M298 377.5h1M313 383.5h1M310 364.5h1M310 385.5h1M318 397.5h1M313 367.5h1M300 382.5h1M301 377.5h1M297 382.5h1M288 373.5h1M303 392.5h1M300 377.5h1M302 398.5h1M282 377.5h1M285 386.5h1M300 392.5h1M303 387.5h1M308 348.5h1M301 362.5h1M317 382.5h1M308 366.5h1M308 362.5h1M316 381.5h1M309 366.5h1M320 363.5h1M304 378.5h1M314 363.5h1M319 385.5h1M295 367.5h1M322 389.5h1M313 387.5h1M290 371.5h1M306 380.5h1M311 352.5h1M317 371.5h1M312 396.5h1M326 378.5h1M296 378.5h1M305 385.5h1M296 375.5h1M297 373.5h1M316 374.5h1M310 372.5h1M301 372.5h1M304 380.5h1M312 369.5h1M327 377.5h1M299 378.5h1M313 380.5h1M310 374.5h1M300 374.5h1M313 386.5h1M277 383.5h1M312 383.5h1M304 376.5h1M313 366.5h1M296 377.5h1M294 379.5h1M299 372.5h1M287 373.5h1M322 393.5h1M304 387.5h1M299 368.5h1M314 399.5h1M307 392.5h1M326 365.5h1M303 391.5h1M318 382.5h1M308 383.5h1M302 401.5h1M297 360.5h1M310 391.5h1M299 367.5h1M294 372.5h1M326 376.5h1M310 398.5h1M302 367.5h1M313 365.5h1M312 388.5h1M325 367.5h1M324 371.5h1M306 364.5h1M321 366.5h1M309 370.5h1M307 364.5h1M309 351.5h1M310 390.5h1M307 344.5h1M316 368.5h1M287 360.5h1M308 371.5h1M323 359.5h1M319 396.5h1M319 377.5h1M325 384.5h1M326 375.5h1M306 387.5h1M297 370.5h1M309 390.5h1M319 369.5h1M310 361.5h1M328 382.5h1M317 391.5h1M312 362.5h1M319 378.5h1" stroke="#9a9a9a" stroke-width="1" opacity="1" fill="none" shape-rendering="crispEdges"/>
<path d="M280 450.5h1M255 439.5h1M250 449.5h1M285 428.5h1M261 421.5h1M266 454.5h1M277 451.5h1M261 439.5h1M269 434.5h1M291 406.5h1M299 438.5h1M281 435.5h1M278 444.5h1M279 424.5h1M287 445.5h1M289 433.5h1M284 428.5h1M264 415.5h1M280 447.5h1M269 426.5h1M301 431.5h1M285 439.5h1M296 430.5h1M267 460.5h1M279 425.5h1M288 447.5h1M253 458.5h1M284 458.5h1M295 429.5h1M312 442.5h1M274 439.5h1M272 448.5h1M249 441.5h1M235 454.5h1M228 436.5h1M285 429.5h1M268 426.5h1M265 417.5h1M290 442.5h1M297 430.5h1M309 433.5h1M303 433.5h1M279 426.5h1M224 458.5h1M239 456.5h1M260 440.5h1M262 444.5h1M283 445.5h1M310 433.5h1M281 450.5h1M279 440.5h1M272 429.5h1M257 450.5h1M316 409.5h1M300 428.5h1M287 418.5h1M282 436.5h1M319 451.5h1M287 428.5h1M329 420.5h1M280 436.5h1M293 440.5h1M268 437.5h1M327 442.5h1M291 435.5h1M279 448.5h1M270 439.5h1M269 430.5h1M282 434.5h1M281 429.5h1M266 437.5h1M300 443.5h1M284 430.5h1M286 457.5h1M298 418.5h1M278 429.5h1M268 417.5h1M277 419.5h1M273 455.5h1M300 419.5h1M255 430.5h1M236 434.5h1M272 424.5h1M275 458.5h1M297 431.5h1M326 439.5h1M266 442.5h1M267 421.5h1M328 441.5h1M254 448.5h1M248 457.5h1M279 432.5h1M309 427.5h1M278 447.5h1M277 446.5h1M284 444.5h1M297 440.5h1M283 456.5h1M267 435.5h1M279 450.5h1M273 442.5h1M245 438.5h1M286 432.5h1M241 452.5h1M297 436.5h1M270 436.5h1M285 409.5h1M300 415.5h1M267 404.5h1M293 441.5h1M288 437.5h1M273 439.5h1M307 422.5h1M294 440.5h1M276 439.5h1M334 415.5h1M323 437.5h1M236 450.5h1M307 438.5h1M262 443.5h1M251 430.5h1M276 438.5h1M318 429.5h1M301 414.5h1M253 436.5h1M316 408.5h1M245 443.5h1M303 408.5h1M271 420.5h1M316 434.5h1M287 432.5h1M264 428.5h1M256 441.5h1M266 450.5h1M297 446.5h1M270 418.5h1M264 453.5h1M273 432.5h1M267 437.5h1M271 418.5h1M271 450.5h1M313 424.5h1M273 454.5h1M273 422.5h1M280 443.5h1M314 419.5h1M292 427.5h1M307 431.5h1M284 421.5h1M273 433.5h1M280 432.5h1M273 437.5h1M282 418.5h1M284 435.5h1M277 417.5h1M274 420.5h1M293 448.5h1M299 425.5h1M267 431.5h1M286 425.5h1M261 408.5h1M259 430.5h1M272 452.5h1M246 427.5h1M291 419.5h1M278 438.5h1M306 447.5h1M257 437.5h1M301 426.5h1M257 436.5h1M296 418.5h1M268 445.5h1M299 442.5h1M297 411.5h1M303 436.5h1M302 433.5h1M259 456.5h1M260 427.5h1M288 425.5h1M288 429.5h1M297 420.5h1M302 437.5h1M287 447.5h1M320 433.5h1M249 449.5h1M277 432.5h1M318 428.5h1M303 444.5h1M295 430.5h1M277 408.5h1M251 456.5h1M279 458.5h1M317 409.5h1M264 444.5h1M275 433.5h1M275 436.5h1M296 421.5h1M290 423.5h1M294 435.5h1M264 441.5h1M262 429.5h1M302 406.5h1M296 440.5h1M271 451.5h1M297 414.5h1M294 437.5h1M266 446.5h1M296 422.5h1M237 451.5h1M259 419.5h1M265 409.5h1M278 454.5h1M218 457.5h1M259 435.5h1M262 448.5h1M278 426.5h1M250 437.5h1M303 413.5h1M291 436.5h1M239 460.5h1M319 421.5h1M274 424.5h1M252 452.5h1M274 431.5h1M279 444.5h1M302 429.5h1M277 437.5h1M321 398.5h1M256 447.5h1M288 448.5h1M317 450.5h1M265 447.5h1M288 444.5h1M265 441.5h1M269 435.5h1M268 425.5h1M303 416.5h1M235 439.5h1M280 445.5h1M309 443.5h1M318 434.5h1M281 425.5h1M295 425.5h1M265 446.5h1M289 443.5h1M269 453.5h1M289 430.5h1M261 427.5h1M255 460.5h1M251 451.5h1M274 429.5h1M304 436.5h1M277 418.5h1M253 422.5h1M302 410.5h1M301 441.5h1M290 445.5h1M246 429.5h1M277 436.5h1M281 441.5h1M258 414.5h1M290 429.5h1M306 454.5h1M285 441.5h1M264 451.5h1M290 436.5h1M298 416.5h1M295 437.5h1M312 404.5h1M270 432.5h1M330 453.5h1M266 434.5h1M285 434.5h1M292 432.5h1M256 451.5h1M285 426.5h1M276 440.5h1M282 433.5h1M302 443.5h1M274 436.5h1M295 442.5h1M285 433.5h1M265 442.5h1M257 443.5h1M288 430.5h1M293 425.5h1M297 450.5h1M288 443.5h1M265 434.5h1M238 444.5h1M256 443.5h1M231 437.5h1M284 439.5h1M242 440.5h1M276 401.5h1M262 446.5h1M288 439.5h1M303 430.5h1M295 408.5h1M271 456.5h1M298 442.5h1M268 442.5h1M293 417.5h1M272 428.5h1M254 447.5h1M290 447.5h1M277 427.5h1M248 444.5h1M256 424.5h1M273 425.5h1M313 427.5h1M272 437.5h1M306 416.5h1M288 416.5h1M274 428.5h1M288 434.5h1M310 435.5h1M263 423.5h1M261 434.5h1M273 427.5h1M308 439.5h1M273 430.5h1M275 435.5h1M275 416.5h1M265 415.5h1M284 442.5h1M265 430.5h1M328 433.5h1M290 426.5h1M288 421.5h1M278 430.5h1M245 435.5h1M260 432.5h1M244 434.5h1M283 439.5h1M236 447.5h1M255 428.5h1M271 428.5h1M299 439.5h1M327 446.5h1M308 446.5h1M274 459.5h1M280 448.5h1M269 438.5h1M270 438.5h1M301 418.5h1M276 443.5h1M269 450.5h1M319 431.5h1M247 439.5h1M284 441.5h1M307 442.5h1M311 414.5h1M298 408.5h1M281 421.5h1M243 456.5h1M283 447.5h1M240 430.5h1M276 427.5h1M280 427.5h1M269 423.5h1M309 423.5h1M256 450.5h1M292 434.5h1M270 409.5h1M241 429.5h1M291 447.5h1M276 432.5h1M305 423.5h1M251 446.5h1M282 419.5h1M253 426.5h1M302 449.5h1M254 460.5h1M331 442.5h1M262 453.5h1M281 448.5h1M266 439.5h1M269 444.5h1M282 449.5h1M301 434.5h1M279 431.5h1M283 444.5h1M285 437.5h1M279 434.5h1M259 416.5h1M296 438.5h1M257 454.5h1M287 437.5h1M310 439.5h1M278 422.5h1M253 444.5h1M320 435.5h1M281 439.5h1M302 451.5h1M265 448.5h1M285 424.5h1M261 456.5h1M286 446.5h1M288 453.5h1M272 427.5h1M275 424.5h1M322 432.5h1M282 422.5h1M259 445.5h1M283 427.5h1M275 456.5h1M304 429.5h1M290 448.5h1M290 435.5h1M239 424.5h1M229 419.5h1M262 445.5h1M291 431.5h1M311 419.5h1M326 423.5h1M237 442.5h1M247 458.5h1M284 416.5h1M288 410.5h1M286 439.5h1M279 421.5h1M277 433.5h1M287 452.5h1M325 443.5h1M264 429.5h1M283 440.5h1M231 440.5h1M318 408.5h1M261 431.5h1M292 431.5h1M268 418.5h1M295 431.5h1M265 439.5h1M294 412.5h1M241 432.5h1M250 403.5h1M270 452.5h1M276 449.5h1M213 451.5h1M318 445.5h1M266 428.5h1M285 417.5h1M267 417.5h1M319 429.5h1M265 437.5h1M251 443.5h1M277 441.5h1M296 405.5h1M290 441.5h1M302 441.5h1M254 431.5h1M237 453.5h1M266 448.5h1M290 415.5h1M298 433.5h1M287 439.5h1M280 435.5h1M302 416.5h1M250 433.5h1M304 424.5h1M315 385.5h1M262 434.5h1M291 449.5h1M273 423.5h1M305 448.5h1M223 457.5h1M285 423.5h1M270 441.5h1M280 431.5h1M254 445.5h1M265 440.5h1M267 441.5h1M299 433.5h1M291 414.5h1M292 435.5h1M265 436.5h1M216 453.5h1M264 410.5h1M290 424.5h1M286 430.5h1M292 433.5h1M275 442.5h1M292 402.5h1M279 427.5h1M259 457.5h1M299 416.5h1M257 451.5h1M234 445.5h1M305 422.5h1M305 446.5h1M299 445.5h1M239 435.5h1M284 432.5h1M279 436.5h1M247 442.5h1M289 431.5h1M292 420.5h1M291 443.5h1M295 436.5h1M275 423.5h1M292 426.5h1M261 450.5h1M241 438.5h1M272 438.5h1M293 430.5h1M323 414.5h1M272 426.5h1M284 417.5h1M260 429.5h1M246 444.5h1M252 434.5h1M268 429.5h1M305 449.5h1M228 438.5h1M283 420.5h1M269 440.5h1M316 440.5h1M274 438.5h1M271 435.5h1M247 420.5h1M275 449.5h1M292 407.5h1M283 419.5h1M297 441.5h1M235 444.5h1M315 425.5h1M306 433.5h1M309 444.5h1M310 412.5h1M295 413.5h1M296 434.5h1M307 419.5h1M277 420.5h1M295 435.5h1M299 429.5h1M276 441.5h1M322 415.5h1M317 386.5h1M324 411.5h1M298 421.5h1M313 413.5h1M258 442.5h1M258 446.5h1M231 450.5h1M264 426.5h1M285 430.5h1M273 447.5h1M311 425.5h1M298 424.5h1M296 437.5h1M263 420.5h1M248 431.5h1M293 429.5h1M302 447.5h1M294 419.5h1M280 423.5h1M238 435.5h1M262 441.5h1M265 444.5h1M259 434.5h1M284 433.5h1M308 445.5h1M270 428.5h1M252 441.5h1M318 426.5h1M275 437.5h1M249 428.5h1M324 413.5h1M306 418.5h1M313 435.5h1M282 460.5h1M258 437.5h1M258 430.5h1M269 425.5h1M278 455.5h1M236 430.5h1M257 435.5h1M306 437.5h1M332 406.5h1M254 441.5h1M257 424.5h1M266 424.5h1M313 432.5h1M321 417.5h1M281 431.5h1M270 412.5h1M276 444.5h1M234 442.5h1M298 446.5h1M280 440.5h1M325 439.5h1M268 430.5h1M305 431.5h1M287 430.5h1M274 433.5h1M313 445.5h1M278 437.5h1M296 441.5h1M240 450.5h1M257 440.5h1M271 459.5h1M293 431.5h1M312 425.5h1M263 437.5h1M299 428.5h1M282 447.5h1M290 444.5h1M279 418.5h1M249 422.5h1M308 432.5h1M266 426.5h1M288 431.5h1M285 422.5h1M259 440.5h1M305 404.5h1M278 439.5h1M246 415.5h1M323 419.5h1M305 442.5h1M289 438.5h1M296 447.5h1M272 431.5h1M299 454.5h1M300 430.5h1M327 426.5h1M290 438.5h1M269 424.5h1M283 430.5h1M261 441.5h1M239 443.5h1M324 434.5h1M305 428.5h1M303 420.5h1M272 444.5h1M293 453.5h1M266 444.5h1M264 432.5h1M216 440.5h1M309 434.5h1M289 416.5h1M276 435.5h1M315 414.5h1M293 444.5h1M235 448.5h1M229 443.5h1M321 429.5h1M332 428.5h1M303 423.5h1M267 425.5h1M274 427.5h1M305 436.5h1M276 429.5h1M212 445.5h1M274 430.5h1M288 409.5h1M271 449.5h1M283 423.5h1M296 429.5h1M298 415.5h1M298 428.5h1M257 433.5h1M306 421.5h1M271 429.5h1M266 451.5h1M295 440.5h1M271 431.5h1M258 459.5h1M268 438.5h1M289 449.5h1M253 446.5h1M263 434.5h1M320 432.5h1M273 443.5h1M284 448.5h1M271 443.5h1M276 436.5h1M275 428.5h1M287 423.5h1M303 438.5h1M226 441.5h1M259 451.5h1M265 438.5h1M275 445.5h1M309 439.5h1M266 449.5h1M304 441.5h1M272 432.5h1M291 448.5h1M263 445.5h1M290 420.5h1M318 413.5h1M282 424.5h1M270 446.5h1M275 432.5h1M285 436.5h1M320 422.5h1M291 437.5h1M243 420.5h1M287 444.5h1M284 427.5h1M269 448.5h1M269 417.5h1M297 433.5h1M293 445.5h1M313 433.5h1M270 410.5h1M287 431.5h1M315 442.5h1M296 448.5h1M279 435.5h1M261 436.5h1M289 446.5h1M267 449.5h1M330 404.5h1M310 452.5h1M281 438.5h1M265 458.5h1M267 447.5h1M282 420.5h1M279 445.5h1M304 417.5h1M287 434.5h1M254 423.5h1M316 418.5h1M318 401.5h1M260 434.5h1M257 441.5h1M314 438.5h1M294 445.5h1M275 419.5h1M270 429.5h1M284 438.5h1M317 411.5h1M319 441.5h1M309 448.5h1M251 452.5h1M254 426.5h1M308 435.5h1M300 451.5h1M262 432.5h1M283 417.5h1M280 454.5h1M322 437.5h1M316 421.5h1M313 425.5h1M287 436.5h1M248 435.5h1M278 440.5h1M275 425.5h1M254 442.5h1M279 437.5h1M256 418.5h1M290 443.5h1M270 433.5h1M230 460.5h1M266 436.5h1M270 414.5h1M280 424.5h1M279 453.5h1M237 444.5h1M238 429.5h1M273 446.5h1M283 436.5h1M280 412.5h1M290 418.5h1M252 444.5h1M279 428.5h1M320 398.5h1M262 459.5h1M291 422.5h1M259 437.5h1M257 444.5h1M291 458.5h1M256 436.5h1M288 426.5h1M270 443.5h1M276 426.5h1M305 424.5h1M243 428.5h1M268 436.5h1M252 445.5h1M250 434.5h1M278 458.5h1M316 436.5h1M314 422.5h1M290 416.5h1M270 442.5h1M320 411.5h1M311 418.5h1M260 443.5h1M302 419.5h1M263 436.5h1M287 427.5h1M305 419.5h1M316 426.5h1M301 433.5h1M271 446.5h1M292 448.5h1M240 456.5h1M282 425.5h1M269 432.5h1M248 436.5h1M294 411.5h1M264 408.5h1M268 443.5h1M256 448.5h1M263 451.5h1M284 429.5h1M314 421.5h1M305 429.5h1M284 447.5h1M291 432.5h1M281 430.5h1M248 410.5h1M310 432.5h1M313 448.5h1M298 422.5h1M297 444.5h1M249 443.5h1M302 412.5h1M286 438.5h1M264 437.5h1M314 402.5h1M309 413.5h1M291 439.5h1M278 432.5h1M278 449.5h1M308 403.5h1M249 421.5h1M283 428.5h1M309 435.5h1M273 415.5h1M311 420.5h1M261 457.5h1M286 407.5h1M241 440.5h1M251 440.5h1M282 444.5h1M301 428.5h1M250 457.5h1M278 441.5h1M295 420.5h1M320 425.5h1M300 442.5h1M270 445.5h1M267 422.5h1M275 444.5h1M264 435.5h1M249 458.5h1M295 447.5h1M267 428.5h1M241 449.5h1M294 442.5h1M295 432.5h1M304 415.5h1M292 438.5h1M284 456.5h1M295 448.5h1M301 427.5h1M330 436.5h1M281 433.5h1M256 439.5h1M273 444.5h1M274 416.5h1M266 427.5h1M250 439.5h1M299 415.5h1M286 428.5h1M256 444.5h1M268 441.5h1M282 427.5h1M259 425.5h1M310 423.5h1M294 436.5h1M289 458.5h1M314 426.5h1M302 436.5h1M285 442.5h1M296 432.5h1M320 419.5h1M320 451.5h1M331 425.5h1M272 416.5h1M240 426.5h1M303 437.5h1M239 445.5h1M284 414.5h1M299 413.5h1M308 430.5h1M260 420.5h1M273 436.5h1M276 428.5h1M279 447.5h1M259 438.5h1M306 448.5h1M212 449.5h1M306 404.5h1M256 435.5h1M247 437.5h1M304 434.5h1M310 419.5h1M272 433.5h1M324 432.5h1M289 450.5h1M258 424.5h1M297 432.5h1M273 435.5h1M292 440.5h1M304 430.5h1M279 404.5h1M304 408.5h1M317 418.5h1M276 434.5h1M300 439.5h1M269 447.5h1M264 433.5h1M311 412.5h1M255 449.5h1M273 431.5h1M256 438.5h1M263 454.5h1M254 440.5h1M307 430.5h1M249 448.5h1M260 441.5h1M248 453.5h1M224 447.5h1M312 433.5h1M272 434.5h1M262 433.5h1M293 423.5h1M260 433.5h1M267 454.5h1M282 430.5h1M244 442.5h1M320 430.5h1M306 419.5h1M244 435.5h1M309 414.5h1M266 453.5h1M274 434.5h1M290 433.5h1M264 438.5h1M292 418.5h1M272 422.5h1M300 437.5h1M306 441.5h1M307 437.5h1M265 451.5h1M289 440.5h1M255 455.5h1M266 432.5h1M270 455.5h1M327 408.5h1M304 425.5h1M304 396.5h1M274 452.5h1M272 451.5h1M293 426.5h1M262 437.5h1M307 427.5h1M243 442.5h1M279 429.5h1M248 449.5h1M252 432.5h1M305 413.5h1M298 445.5h1M305 434.5h1M270 419.5h1M265 426.5h1M297 416.5h1M289 426.5h1M284 424.5h1M312 400.5h1M290 407.5h1M239 429.5h1M261 428.5h1M242 433.5h1M256 437.5h1M263 408.5h1M268 453.5h1M260 430.5h1M273 418.5h1M269 415.5h1M281 413.5h1M297 442.5h1M243 452.5h1M273 451.5h1M275 451.5h1M236 455.5h1M275 447.5h1M303 449.5h1M257 415.5h1M332 424.5h1M240 458.5h1M263 438.5h1M277 438.5h1M297 437.5h1M316 385.5h1M258 432.5h1M298 431.5h1M293 411.5h1M275 443.5h1M275 429.5h1M289 452.5h1M281 422.5h1M303 417.5h1M297 417.5h1M287 440.5h1M278 442.5h1M267 450.5h1M275 434.5h1M261 449.5h1M277 442.5h1M239 427.5h1M268 424.5h1M294 420.5h1M289 424.5h1M310 431.5h1M267 419.5h1M283 426.5h1M281 424.5h1M267 445.5h1M308 409.5h1M275 440.5h1M325 410.5h1M268 407.5h1M298 426.5h1M261 460.5h1M269 428.5h1M262 452.5h1M277 430.5h1M244 431.5h1M253 412.5h1M294 423.5h1M247 441.5h1M274 412.5h1M297 412.5h1M311 429.5h1M275 439.5h1M314 417.5h1M294 418.5h1M281 446.5h1M251 445.5h1M224 433.5h1M271 447.5h1M243 449.5h1M313 441.5h1M263 433.5h1M255 434.5h1M274 444.5h1M277 422.5h1M263 435.5h1M270 415.5h1M283 441.5h1M324 424.5h1M271 434.5h1M259 442.5h1M287 406.5h1M272 435.5h1M287 443.5h1M268 422.5h1M259 426.5h1M293 418.5h1M269 433.5h1M287 415.5h1M286 443.5h1M327 430.5h1M268 456.5h1M265 450.5h1M291 420.5h1M262 436.5h1M287 457.5h1M297 421.5h1M267 436.5h1M300 420.5h1M255 423.5h1M237 440.5h1M286 459.5h1M253 438.5h1M311 426.5h1M330 450.5h1M279 442.5h1M251 448.5h1M295 423.5h1M225 440.5h1M262 424.5h1M306 434.5h1M239 448.5h1M298 430.5h1M312 420.5h1M292 415.5h1M278 428.5h1M253 425.5h1M287 438.5h1M261 423.5h1M262 449.5h1M256 456.5h1M242 448.5h1M268 428.5h1M250 454.5h1M276 430.5h1M271 440.5h1M285 448.5h1M233 458.5h1M298 432.5h1M247 443.5h1M329 414.5h1M259 450.5h1M316 431.5h1M323 446.5h1M264 417.5h1M263 432.5h1M277 423.5h1M238 454.5h1M314 398.5h1M280 446.5h1M249 424.5h1M271 458.5h1M317 433.5h1M278 431.5h1M300 426.5h1M319 440.5h1M319 433.5h1M306 446.5h1M264 420.5h1M290 432.5h1M312 448.5h1M252 409.5h1M268 434.5h1M286 410.5h1M246 434.5h1M268 446.5h1M302 435.5h1M255 422.5h1M333 434.5h1M300 435.5h1M261 445.5h1M279 412.5h1M318 454.5h1M325 427.5h1M320 429.5h1M306 427.5h1M323 448.5h1M308 449.5h1M244 454.5h1M262 458.5h1M252 436.5h1M255 447.5h1M268 450.5h1M278 433.5h1M298 447.5h1M283 452.5h1M263 441.5h1M243 444.5h1M297 435.5h1M309 420.5h1M276 417.5h1M280 420.5h1M278 407.5h1M323 449.5h1M297 423.5h1M314 437.5h1M295 428.5h1M281 427.5h1M286 426.5h1M311 428.5h1M287 416.5h1M313 428.5h1M268 427.5h1M282 440.5h1M286 433.5h1M303 448.5h1M289 406.5h1M286 415.5h1M270 425.5h1M273 445.5h1M277 429.5h1M310 428.5h1M233 435.5h1M294 438.5h1M289 437.5h1M262 439.5h1M267 453.5h1M276 456.5h1M297 413.5h1M316 430.5h1M252 415.5h1M268 421.5h1M302 413.5h1M282 438.5h1M277 445.5h1M261 447.5h1M254 444.5h1M254 439.5h1M237 436.5h1M262 455.5h1M263 448.5h1M279 420.5h1M300 440.5h1M308 414.5h1M319 436.5h1M315 412.5h1M283 416.5h1M292 421.5h1M291 440.5h1M286 448.5h1M299 434.5h1M303 412.5h1M274 414.5h1M279 441.5h1M258 452.5h1M271 453.5h1M252 437.5h1M273 413.5h1M298 435.5h1M302 422.5h1M302 454.5h1M268 419.5h1M277 456.5h1M258 438.5h1M310 434.5h1M278 435.5h1M296 431.5h1M296 406.5h1M298 423.5h1M289 448.5h1M283 429.5h1M319 444.5h1M265 418.5h1M254 435.5h1M319 425.5h1M273 416.5h1M293 419.5h1M285 444.5h1M242 436.5h1M305 432.5h1M307 441.5h1M274 445.5h1M319 422.5h1M246 445.5h1M286 427.5h1M268 435.5h1M266 443.5h1M283 457.5h1M320 405.5h1M250 436.5h1M308 437.5h1M305 405.5h1M292 450.5h1M258 445.5h1M313 442.5h1M284 457.5h1M296 444.5h1M254 432.5h1M222 427.5h1M299 431.5h1M213 448.5h1M278 451.5h1M236 440.5h1M252 460.5h1M275 452.5h1M296 419.5h1M296 450.5h1M307 432.5h1M294 422.5h1M285 420.5h1M277 426.5h1M273 453.5h1M258 433.5h1M294 432.5h1M280 417.5h1M279 430.5h1M261 433.5h1M324 425.5h1M315 427.5h1M315 443.5h1M263 431.5h1M274 455.5h1M293 443.5h1M231 447.5h1M281 444.5h1M262 423.5h1M249 459.5h1M306 426.5h1M274 418.5h1M260 439.5h1M285 431.5h1M303 419.5h1M272 441.5h1M275 427.5h1M306 445.5h1M270 430.5h1M298 460.5h1M271 445.5h1M288 432.5h1M281 437.5h1M230 440.5h1M298 440.5h1M318 423.5h1M252 451.5h1M309 429.5h1M318 432.5h1M321 428.5h1M325 406.5h1M304 433.5h1M281 419.5h1M305 426.5h1M325 418.5h1M304 451.5h1M289 434.5h1M263 418.5h1M279 446.5h1M295 433.5h1M256 445.5h1M266 441.5h1M283 421.5h1M258 450.5h1M245 441.5h1M289 441.5h1M274 443.5h1M284 422.5h1M280 444.5h1M267 446.5h1M312 444.5h1M298 444.5h1M255 437.5h1M271 416.5h1M294 450.5h1M289 435.5h1M326 407.5h1M265 422.5h1M308 425.5h1M250 428.5h1M308 436.5h1M291 412.5h1M233 430.5h1M258 425.5h1M304 435.5h1M313 426.5h1M272 415.5h1M306 436.5h1M317 438.5h1M277 424.5h1M227 415.5h1M263 424.5h1M292 444.5h1M314 413.5h1M283 443.5h1M290 450.5h1M227 430.5h1M268 433.5h1M250 438.5h1M281 426.5h1M277 434.5h1M251 417.5h1M260 446.5h1M247 455.5h1M267 439.5h1M264 446.5h1M239 454.5h1M291 429.5h1M291 433.5h1M305 441.5h1M265 427.5h1M285 443.5h1M299 447.5h1M287 420.5h1M264 456.5h1M279 443.5h1M300 417.5h1M293 439.5h1M270 444.5h1M260 457.5h1M273 434.5h1M263 452.5h1M288 445.5h1M254 438.5h1M308 421.5h1M284 426.5h1M301 424.5h1M216 449.5h1M249 440.5h1M275 420.5h1M262 454.5h1M275 446.5h1M309 438.5h1M293 437.5h1M258 456.5h1M269 427.5h1M307 426.5h1M266 435.5h1M252 433.5h1M321 414.5h1M271 444.5h1M287 441.5h1M257 427.5h1M267 444.5h1M266 411.5h1M289 401.5h1M266 438.5h1M298 419.5h1M267 432.5h1M304 446.5h1M319 411.5h1M332 439.5h1M275 430.5h1M276 421.5h1M318 435.5h1M305 415.5h1M283 432.5h1M313 414.5h1M256 431.5h1M318 436.5h1M293 447.5h1M260 448.5h1M260 431.5h1M242 432.5h1M261 419.5h1M277 440.5h1M259 428.5h1M327 419.5h1M259 443.5h1M267 427.5h1M316 448.5h1M285 432.5h1M329 395.5h1M253 437.5h1M246 448.5h1M281 432.5h1M292 441.5h1M272 440.5h1M271 432.5h1M288 440.5h1M303 447.5h1M320 441.5h1M258 444.5h1M286 423.5h1M308 442.5h1M312 435.5h1M310 427.5h1M294 449.5h1M313 449.5h1M302 432.5h1M264 427.5h1M317 437.5h1M265 403.5h1M291 452.5h1M288 422.5h1M263 449.5h1M276 423.5h1M269 436.5h1M301 439.5h1M291 428.5h1M246 441.5h1M295 414.5h1M285 449.5h1M280 442.5h1M307 423.5h1M274 423.5h1M286 455.5h1M256 440.5h1M312 410.5h1M228 448.5h1M260 428.5h1M317 441.5h1M249 442.5h1M274 450.5h1M267 459.5h1M278 425.5h1M277 428.5h1M333 423.5h1M312 414.5h1M282 448.5h1M221 451.5h1M234 448.5h1M308 443.5h1M272 453.5h1M309 422.5h1M311 440.5h1M291 442.5h1M285 435.5h1M272 450.5h1M293 432.5h1M289 428.5h1M309 410.5h1M300 425.5h1M286 441.5h1M289 425.5h1M321 426.5h1M274 432.5h1M246 446.5h1M279 438.5h1M241 425.5h1M311 431.5h1M319 439.5h1M233 449.5h1M260 437.5h1M301 437.5h1M289 427.5h1M266 420.5h1M246 420.5h1M295 446.5h1M278 420.5h1M237 422.5h1M289 451.5h1M269 429.5h1M271 426.5h1M269 441.5h1M260 449.5h1M317 414.5h1M311 439.5h1M278 456.5h1M226 452.5h1M283 434.5h1M269 445.5h1M259 427.5h1M284 436.5h1M258 447.5h1M256 454.5h1M319 437.5h1M246 435.5h1M234 435.5h1M302 445.5h1M297 429.5h1M268 432.5h1M307 447.5h1M306 407.5h1M302 414.5h1M245 428.5h1M268 460.5h1M302 417.5h1M313 421.5h1M294 409.5h1M290 434.5h1M303 395.5h1M278 452.5h1M332 432.5h1M303 446.5h1M292 422.5h1M260 455.5h1M292 423.5h1M286 452.5h1M238 434.5h1M299 440.5h1M250 430.5h1M273 406.5h1M304 428.5h1M266 423.5h1M309 430.5h1M293 442.5h1M261 430.5h1M266 421.5h1M238 440.5h1M284 423.5h1M287 417.5h1M286 424.5h1M241 443.5h1M310 425.5h1M242 452.5h1M296 409.5h1M268 440.5h1M255 438.5h1M305 412.5h1M294 421.5h1M263 443.5h1M238 452.5h1M260 438.5h1M280 455.5h1M265 421.5h1M276 407.5h1M255 445.5h1M226 429.5h1M299 412.5h1M250 421.5h1M314 418.5h1M290 422.5h1M245 430.5h1M264 431.5h1M274 442.5h1M316 447.5h1M261 452.5h1M269 449.5h1M271 437.5h1M305 439.5h1M307 429.5h1M333 436.5h1M282 417.5h1M254 451.5h1M239 426.5h1M282 431.5h1M247 433.5h1M297 424.5h1M299 451.5h1M270 453.5h1M243 430.5h1M275 417.5h1M301 421.5h1M231 434.5h1M302 438.5h1M259 452.5h1M312 436.5h1M258 441.5h1M270 427.5h1M283 433.5h1M257 425.5h1M315 416.5h1M238 421.5h1M235 434.5h1M259 453.5h1M250 440.5h1M298 436.5h1M271 454.5h1M252 428.5h1M273 426.5h1M296 435.5h1M257 453.5h1M263 430.5h1M281 434.5h1M295 449.5h1M267 433.5h1M298 439.5h1M331 413.5h1M258 429.5h1M274 421.5h1M277 447.5h1M270 421.5h1M284 440.5h1M283 399.5h1M250 435.5h1M279 454.5h1M312 413.5h1M269 439.5h1M281 410.5h1M285 413.5h1M301 440.5h1M229 454.5h1M309 453.5h1M288 418.5h1M243 429.5h1M260 454.5h1M300 429.5h1M278 424.5h1M322 416.5h1M257 445.5h1M269 451.5h1M222 455.5h1M272 442.5h1M258 431.5h1M255 444.5h1M259 455.5h1M321 419.5h1M262 428.5h1M257 452.5h1M250 429.5h1M304 438.5h1M314 427.5h1M269 452.5h1M227 455.5h1M236 457.5h1M246 452.5h1M300 392.5h1M241 428.5h1M257 414.5h1M302 442.5h1M245 450.5h1M312 429.5h1M306 399.5h1M240 437.5h1M269 442.5h1M304 414.5h1M268 454.5h1M294 453.5h1M274 422.5h1M321 435.5h1M260 421.5h1M267 434.5h1M293 409.5h1M300 431.5h1M286 449.5h1M291 430.5h1M288 442.5h1M236 433.5h1M303 418.5h1M271 439.5h1M248 423.5h1M292 442.5h1M265 429.5h1M248 421.5h1M272 419.5h1M318 422.5h1M289 417.5h1M308 444.5h1M241 459.5h1M281 443.5h1M300 424.5h1M304 447.5h1M299 420.5h1M300 434.5h1M309 425.5h1M319 409.5h1M327 438.5h1M263 414.5h1M249 423.5h1M285 438.5h1M271 433.5h1M288 423.5h1M287 410.5h1M258 443.5h1M324 433.5h1M278 443.5h1M282 407.5h1M305 435.5h1M313 398.5h1M295 451.5h1M294 441.5h1M260 413.5h1M250 447.5h1M308 424.5h1M253 443.5h1M306 425.5h1M249 431.5h1M293 428.5h1M288 435.5h1M321 441.5h1M260 426.5h1M282 445.5h1M273 419.5h1M320 418.5h1M299 436.5h1M278 459.5h1M253 449.5h1M291 427.5h1M272 449.5h1M251 426.5h1M297 439.5h1M243 437.5h1M306 424.5h1M305 418.5h1M282 441.5h1M276 447.5h1M270 450.5h1M287 451.5h1M234 456.5h1M276 453.5h1M264 436.5h1M255 442.5h1M308 433.5h1M273 457.5h1M288 427.5h1M284 452.5h1M268 420.5h1M291 426.5h1M291 410.5h1M299 430.5h1M270 448.5h1M325 425.5h1M304 432.5h1M299 422.5h1M290 406.5h1M237 438.5h1M246 443.5h1M256 420.5h1M270 451.5h1M281 401.5h1M302 403.5h1M274 449.5h1M285 440.5h1M253 447.5h1M257 410.5h1M321 427.5h1M317 420.5h1M251 447.5h1M240 446.5h1M318 430.5h1M248 452.5h1M248 456.5h1M288 454.5h1M280 439.5h1M272 421.5h1M249 454.5h1M319 443.5h1M267 458.5h1M298 452.5h1M287 448.5h1M263 459.5h1M276 446.5h1M258 428.5h1M261 443.5h1M254 453.5h1M254 428.5h1M280 413.5h1M316 446.5h1M290 431.5h1M294 424.5h1M308 420.5h1M267 407.5h1M328 427.5h1M279 416.5h1M272 413.5h1M274 425.5h1M304 444.5h1M310 409.5h1M268 455.5h1M245 440.5h1M218 448.5h1M265 449.5h1M297 458.5h1M245 448.5h1M276 452.5h1M284 459.5h1M314 414.5h1M298 429.5h1M240 432.5h1M273 440.5h1M289 436.5h1M254 443.5h1M288 413.5h1M321 442.5h1M291 459.5h1M264 430.5h1M323 424.5h1M318 427.5h1M309 424.5h1M314 429.5h1M325 419.5h1M314 433.5h1M284 434.5h1M259 432.5h1M275 431.5h1M278 446.5h1M313 444.5h1M255 436.5h1M286 417.5h1M292 430.5h1M256 419.5h1M256 428.5h1M249 433.5h1M263 440.5h1M246 451.5h1M283 437.5h1M321 415.5h1M291 444.5h1M279 456.5h1M292 452.5h1M257 432.5h1M293 421.5h1M244 426.5h1M314 416.5h1M273 438.5h1M244 444.5h1M280 418.5h1M287 421.5h1M214 427.5h1M265 420.5h1M274 417.5h1M289 429.5h1M257 439.5h1M286 447.5h1M257 401.5h1M299 421.5h1M250 423.5h1M251 425.5h1M279 439.5h1M310 436.5h1M276 458.5h1M312 406.5h1M227 441.5h1M294 430.5h1M304 437.5h1M302 420.5h1M263 428.5h1M315 433.5h1M298 425.5h1M283 449.5h1M277 450.5h1M295 441.5h1M318 420.5h1M316 415.5h1M253 413.5h1M252 438.5h1M269 418.5h1M282 437.5h1M265 425.5h1M248 442.5h1M284 398.5h1M255 458.5h1M249 439.5h1M313 429.5h1M278 410.5h1M262 422.5h1M241 450.5h1M296 420.5h1M267 443.5h1M310 438.5h1M277 421.5h1M295 439.5h1M318 417.5h1M315 421.5h1M267 448.5h1M234 443.5h1M306 438.5h1M240 431.5h1M277 459.5h1M270 437.5h1M294 444.5h1M327 432.5h1M288 401.5h1M317 449.5h1M306 431.5h1M232 450.5h1M285 421.5h1M250 426.5h1M247 434.5h1M235 442.5h1M248 437.5h1M220 436.5h1M255 454.5h1M234 431.5h1M294 415.5h1M270 423.5h1M259 448.5h1M253 419.5h1M284 446.5h1M253 421.5h1M253 441.5h1M254 430.5h1M240 433.5h1M306 406.5h1M250 453.5h1M253 432.5h1M272 443.5h1M309 440.5h1M319 427.5h1M301 445.5h1M235 438.5h1M292 417.5h1M304 420.5h1M237 448.5h1M288 424.5h1M238 431.5h1M268 405.5h1M307 440.5h1M261 455.5h1M275 421.5h1M230 449.5h1M249 426.5h1M255 452.5h1M296 416.5h1M334 412.5h1M298 441.5h1M253 450.5h1M272 446.5h1M257 438.5h1M316 437.5h1M257 448.5h1M288 458.5h1M274 454.5h1M283 455.5h1M272 423.5h1M253 433.5h1M311 456.5h1M321 436.5h1M259 429.5h1M296 427.5h1M272 439.5h1M315 429.5h1M253 435.5h1M332 441.5h1M299 423.5h1M244 452.5h1M235 441.5h1M239 451.5h1M260 452.5h1M265 432.5h1M287 414.5h1M261 444.5h1M310 424.5h1M306 442.5h1M299 435.5h1M297 451.5h1M292 429.5h1M291 446.5h1M292 424.5h1M305 454.5h1M294 443.5h1M328 431.5h1M287 453.5h1M244 446.5h1M265 445.5h1M268 444.5h1M290 437.5h1M309 431.5h1M317 439.5h1M271 417.5h1M240 428.5h1M263 422.5h1M280 421.5h1M272 436.5h1M230 423.5h1M266 440.5h1M323 429.5h1M252 442.5h1M319 423.5h1M334 441.5h1M302 428.5h1M225 453.5h1M309 451.5h1M276 431.5h1M227 419.5h1M249 435.5h1M282 439.5h1M248 429.5h1M331 429.5h1M261 424.5h1M288 433.5h1M222 454.5h1M283 425.5h1M281 423.5h1M261 437.5h1M248 459.5h1M243 425.5h1M295 417.5h1M306 432.5h1M245 429.5h1M277 454.5h1M301 448.5h1M263 447.5h1M300 407.5h1M303 434.5h1M302 431.5h1M293 414.5h1M311 441.5h1M301 420.5h1M311 433.5h1M270 449.5h1M261 432.5h1M287 429.5h1M232 439.5h1M292 419.5h1M254 436.5h1M283 424.5h1M292 446.5h1M221 450.5h1M288 438.5h1M306 439.5h1M265 433.5h1M301 416.5h1M332 436.5h1M235 446.5h1M281 460.5h1M244 447.5h1M327 437.5h1M249 451.5h1M266 430.5h1M323 442.5h1M274 437.5h1M317 421.5h1M316 427.5h1M239 432.5h1M245 436.5h1M269 405.5h1M291 415.5h1M275 415.5h1M306 443.5h1M285 453.5h1M227 434.5h1M314 436.5h1M262 456.5h1M270 426.5h1M271 425.5h1M271 414.5h1M302 407.5h1M307 450.5h1M278 434.5h1M300 410.5h1M224 413.5h1M218 449.5h1M307 416.5h1M252 446.5h1M282 442.5h1M284 449.5h1M296 433.5h1M252 447.5h1M283 451.5h1M289 456.5h1M282 413.5h1M311 435.5h1M280 433.5h1M313 437.5h1M241 416.5h1M256 434.5h1M309 436.5h1M242 449.5h1M283 431.5h1M295 438.5h1M303 453.5h1M282 423.5h1M286 429.5h1M306 415.5h1M306 417.5h1M276 437.5h1M282 432.5h1M239 447.5h1M218 460.5h1M291 416.5h1M307 418.5h1M330 416.5h1M319 420.5h1M308 428.5h1M261 442.5h1M254 408.5h1M278 413.5h1M270 434.5h1M316 428.5h1M291 454.5h1M267 442.5h1M284 437.5h1M288 419.5h1M308 440.5h1M243 432.5h1M244 416.5h1M265 416.5h1M318 409.5h1M329 411.5h1M244 427.5h1M289 442.5h1M290 439.5h1M270 422.5h1M285 427.5h1M290 440.5h1M264 434.5h1M308 426.5h1M284 451.5h1M306 430.5h1M317 405.5h1M317 444.5h1M282 421.5h1M286 431.5h1M280 441.5h1M276 448.5h1M308 423.5h1M291 438.5h1M300 433.5h1M274 435.5h1M296 443.5h1M233 431.5h1M242 438.5h1M260 436.5h1M282 428.5h1M255 424.5h1M293 456.5h1M230 425.5h1M299 427.5h1M306 403.5h1M270 440.5h1M283 406.5h1M279 419.5h1M262 419.5h1M301 425.5h1M243 455.5h1M294 408.5h1M311 427.5h1M295 450.5h1M332 435.5h1M292 436.5h1M282 450.5h1M223 438.5h1M299 449.5h1M293 413.5h1M282 458.5h1M264 454.5h1M295 424.5h1M307 414.5h1M226 448.5h1M263 425.5h1M295 426.5h1M259 447.5h1M264 445.5h1M277 412.5h1M265 431.5h1M270 435.5h1M332 417.5h1M281 445.5h1M260 451.5h1M234 454.5h1M303 459.5h1M250 424.5h1M273 424.5h1M245 453.5h1M243 433.5h1M249 438.5h1M232 440.5h1M307 415.5h1M290 396.5h1M292 414.5h1M255 414.5h1M260 423.5h1M278 457.5h1M314 435.5h1M312 432.5h1M239 441.5h1M221 433.5h1M269 454.5h1M257 434.5h1M277 443.5h1M312 422.5h1M281 457.5h1M297 434.5h1M267 455.5h1M254 452.5h1M250 451.5h1M247 445.5h1M287 425.5h1M311 444.5h1M309 417.5h1M289 420.5h1M273 421.5h1M272 417.5h1M272 460.5h1M317 429.5h1M293 424.5h1M323 436.5h1M314 420.5h1M229 453.5h1M268 448.5h1M310 415.5h1M251 450.5h1M240 429.5h1M232 431.5h1M289 410.5h1M264 425.5h1M299 443.5h1M278 436.5h1M292 405.5h1M263 415.5h1M290 414.5h1M249 432.5h1M290 428.5h1M307 410.5h1M239 452.5h1M290 455.5h1M290 421.5h1M285 455.5h1M216 454.5h1M272 458.5h1M283 446.5h1M300 413.5h1M321 430.5h1M212 442.5h1M308 434.5h1M305 425.5h1M318 407.5h1M311 417.5h1M333 442.5h1M240 445.5h1M257 431.5h1M238 448.5h1M245 434.5h1M268 416.5h1M322 442.5h1M300 447.5h1M259 458.5h1M260 435.5h1M324 423.5h1M326 424.5h1M251 434.5h1M314 447.5h1M243 445.5h1M267 426.5h1M246 457.5h1M325 421.5h1M292 411.5h1M263 450.5h1M262 425.5h1M246 436.5h1M267 423.5h1M315 426.5h1M266 458.5h1M258 439.5h1M294 414.5h1M309 418.5h1M321 408.5h1M291 441.5h1M285 445.5h1M245 444.5h1M283 422.5h1M282 408.5h1M318 433.5h1M296 428.5h1M294 426.5h1M306 409.5h1M312 421.5h1M287 426.5h1M304 443.5h1M292 428.5h1M267 409.5h1M242 450.5h1M301 436.5h1M284 431.5h1M294 427.5h1M249 436.5h1M258 455.5h1M309 415.5h1M325 422.5h1M294 434.5h1M273 414.5h1M234 447.5h1M301 419.5h1M303 442.5h1M269 437.5h1M236 446.5h1M295 393.5h1M310 426.5h1M314 428.5h1M313 402.5h1M305 396.5h1M247 447.5h1M244 453.5h1M292 445.5h1M260 411.5h1M248 455.5h1M288 414.5h1M324 416.5h1M280 459.5h1M302 425.5h1M276 459.5h1M311 437.5h1M271 430.5h1M275 448.5h1M303 422.5h1M331 426.5h1M315 449.5h1M288 407.5h1M292 443.5h1M260 445.5h1M296 436.5h1M295 416.5h1M334 419.5h1M271 422.5h1M251 422.5h1M242 454.5h1M238 420.5h1M256 433.5h1M305 437.5h1M328 426.5h1M297 452.5h1M232 453.5h1M286 450.5h1M325 436.5h1M296 442.5h1M311 421.5h1M239 404.5h1M301 450.5h1M313 436.5h1M275 405.5h1M313 403.5h1M291 425.5h1M279 417.5h1M274 426.5h1M258 454.5h1M311 434.5h1M317 417.5h1M280 419.5h1M317 451.5h1M253 452.5h1M239 450.5h1M300 432.5h1M281 440.5h1M303 450.5h1M261 422.5h1M237 437.5h1M310 417.5h1M322 429.5h1M311 396.5h1M311 430.5h1M251 457.5h1M332 410.5h1M247 431.5h1M270 408.5h1M283 397.5h1M240 434.5h1M231 458.5h1M249 412.5h1M248 428.5h1M287 435.5h1M290 446.5h1M276 451.5h1M214 446.5h1M285 412.5h1M323 444.5h1M255 440.5h1M283 435.5h1M289 408.5h1M294 429.5h1M272 401.5h1M311 423.5h1M289 432.5h1" stroke="#848484" stroke-width="1" opacity="1" fill="none" shape-rendering="crispEdges"/>
<path d="M315 421.5h1M317 418.5h1M304 407.5h1M307 417.5h1M314 412.5h1M319 399.5h1M295 422.5h1M305 418.5h1M326 427.5h1M296 415.5h1M305 406.5h1M308 426.5h1M310 415.5h1M314 399.5h1M311 414.5h1M309 407.5h1M306 416.5h1M314 407.5h1M308 399.5h1M317 417.5h1M302 417.5h1M311 416.5h1M321 410.5h1M308 414.5h1M315 418.5h1M311 410.5h1M305 411.5h1M301 416.5h1M308 422.5h1M301 421.5h1M303 425.5h1M317 420.5h1M312 406.5h1M309 411.5h1M303 411.5h1M308 417.5h1M321 428.5h1M309 416.5h1M309 413.5h1M308 416.5h1M311 420.5h1M311 407.5h1M312 416.5h1M307 414.5h1M312 419.5h1M310 410.5h1M314 422.5h1M305 423.5h1M321 437.5h1M316 412.5h1M313 429.5h1M313 411.5h1M311 415.5h1M303 420.5h1M310 403.5h1M299 400.5h1M299 427.5h1M327 419.5h1M300 420.5h1M311 422.5h1M314 413.5h1M314 409.5h1M317 408.5h1M320 410.5h1M293 413.5h1M307 400.5h1M321 406.5h1M301 423.5h1M300 421.5h1M312 423.5h1M321 416.5h1M311 424.5h1M310 416.5h1M315 414.5h1M302 425.5h1M299 425.5h1M305 425.5h1M312 420.5h1M302 414.5h1M315 420.5h1M298 417.5h1M306 415.5h1M310 423.5h1M316 411.5h1M303 413.5h1M323 423.5h1M289 422.5h1M314 406.5h1M318 412.5h1M299 418.5h1M311 408.5h1M316 414.5h1M309 418.5h1M307 427.5h1M312 422.5h1M333 413.5h1M311 417.5h1M298 408.5h1M313 413.5h1M329 418.5h1M296 416.5h1M321 418.5h1M312 414.5h1M303 437.5h1M307 421.5h1M310 408.5h1M323 419.5h1M319 417.5h1M315 405.5h1M284 420.5h1M307 412.5h1M307 424.5h1M316 418.5h1M308 413.5h1M304 420.5h1M293 418.5h1M318 417.5h1M306 408.5h1M313 408.5h1M306 409.5h1M331 414.5h1M300 412.5h1M312 418.5h1M321 408.5h1M301 422.5h1M307 404.5h1M323 415.5h1M301 415.5h1M315 409.5h1M315 429.5h1M287 423.5h1M303 418.5h1M324 406.5h1M309 417.5h1M329 398.5h1M309 415.5h1M295 428.5h1M303 403.5h1M307 425.5h1M301 409.5h1M317 410.5h1M306 405.5h1M309 414.5h1M327 417.5h1M311 413.5h1M326 406.5h1M317 407.5h1M306 420.5h1M321 425.5h1M295 424.5h1M319 413.5h1M313 410.5h1M299 414.5h1M303 427.5h1M303 412.5h1M316 408.5h1M313 412.5h1M314 414.5h1M298 433.5h1M314 401.5h1M317 409.5h1M316 421.5h1M322 415.5h1M331 411.5h1M301 410.5h1M312 401.5h1M306 414.5h1M309 426.5h1M312 412.5h1M327 421.5h1M313 398.5h1M297 415.5h1M297 422.5h1M313 420.5h1M323 417.5h1M324 410.5h1M320 405.5h1M308 411.5h1M312 417.5h1M313 428.5h1M301 427.5h1M302 421.5h1M304 419.5h1M308 410.5h1M298 416.5h1M313 419.5h1M318 397.5h1M318 413.5h1M315 424.5h1M316 403.5h1M308 427.5h1M303 405.5h1M300 411.5h1M302 412.5h1M316 415.5h1M294 416.5h1M306 412.5h1M314 416.5h1M327 408.5h1M313 401.5h1M308 424.5h1M303 429.5h1M315 413.5h1M305 408.5h1M300 417.5h1M300 416.5h1M297 424.5h1M314 421.5h1M328 408.5h1M312 413.5h1M303 422.5h1M299 401.5h1M322 424.5h1M305 413.5h1M314 403.5h1M305 417.5h1M313 406.5h1M287 413.5h1M319 424.5h1M307 419.5h1M299 422.5h1M314 417.5h1M311 429.5h1M307 428.5h1M304 424.5h1M328 421.5h1M304 406.5h1M315 406.5h1M314 418.5h1M320 418.5h1M326 407.5h1M305 410.5h1M307 416.5h1M308 406.5h1M303 414.5h1M310 407.5h1M311 406.5h1M308 407.5h1M323 413.5h1M319 403.5h1M295 413.5h1M318 415.5h1M304 427.5h1M315 408.5h1M287 422.5h1M329 416.5h1M316 416.5h1M318 404.5h1M312 410.5h1M304 422.5h1M326 420.5h1M321 417.5h1M307 420.5h1M312 428.5h1M320 408.5h1M327 410.5h1M323 406.5h1M316 409.5h1M327 406.5h1M310 418.5h1M319 412.5h1M322 406.5h1M309 412.5h1M305 426.5h1M312 403.5h1M305 428.5h1M303 421.5h1M302 415.5h1M308 431.5h1M333 403.5h1M310 414.5h1M310 421.5h1M323 405.5h1M317 421.5h1M312 408.5h1M323 418.5h1M300 406.5h1M325 415.5h1M317 411.5h1M296 409.5h1M313 400.5h1M329 422.5h1M308 409.5h1M317 419.5h1M303 416.5h1M309 424.5h1M316 405.5h1M294 420.5h1M307 406.5h1M313 414.5h1M309 423.5h1M304 421.5h1M306 422.5h1M319 398.5h1M322 409.5h1M299 423.5h1M321 405.5h1M317 406.5h1M312 411.5h1M321 400.5h1M310 426.5h1M304 408.5h1M324 414.5h1M324 408.5h1M317 398.5h1M304 412.5h1M310 409.5h1M299 420.5h1M310 406.5h1M307 410.5h1M309 427.5h1M311 409.5h1M330 410.5h1M308 412.5h1M301 414.5h1M313 424.5h1M295 412.5h1M331 418.5h1M323 407.5h1M319 411.5h1M322 422.5h1M302 429.5h1M306 419.5h1M306 413.5h1M290 405.5h1M332 409.5h1M302 405.5h1M322 421.5h1M309 402.5h1M300 415.5h1M293 434.5h1M298 429.5h1M294 414.5h1M289 416.5h1M299 413.5h1M306 407.5h1M298 410.5h1M313 399.5h1M295 414.5h1M304 417.5h1M281 428.5h1M327 415.5h1M318 410.5h1M297 425.5h1M321 411.5h1M305 420.5h1M307 394.5h1M308 443.5h1M310 420.5h1M304 416.5h1M313 405.5h1M314 424.5h1M305 415.5h1M310 412.5h1M307 393.5h1M287 410.5h1M326 412.5h1M294 422.5h1M326 411.5h1M328 401.5h1M321 409.5h1M322 419.5h1M298 412.5h1M309 404.5h1M328 411.5h1M327 400.5h1M332 406.5h1M289 423.5h1M324 409.5h1M298 413.5h1M305 409.5h1M314 415.5h1M306 406.5h1M306 431.5h1M317 416.5h1M313 403.5h1M332 411.5h1M320 412.5h1M314 420.5h1" stroke="#959595" stroke-width="1" opacity="1" fill="none" shape-rendering="crispEdges"/>
</g>
<text x="0" y="0" font-size="11.3" font-weight="bold" text-anchor="middle" fill="#111" transform="translate(446.1 315.2) scale(1 0.92)" stroke="#111" stroke-width="0.35">CD25<tspan font-size="7" dy="-4">+</tspan><tspan dy="4"> B-cells</tspan></text>
<line x1="380" y1="324.4" x2="380" y2="460.8" stroke="#222" stroke-width="1"/>
<path d="M378.6 353.7h1.4M378.6 348.9h1.4M378.6 345.5h1.4M378.6 342.9h1.4M378.6 340.8h1.4M378.6 339.0h1.4M378.6 337.4h1.4M378.6 336.0h1.4M378.6 382.2h1.4M378.6 377.1h1.4M378.6 373.4h1.4M378.6 370.6h1.4M378.6 368.3h1.4M378.6 366.3h1.4M378.6 364.6h1.4M378.6 363.1h1.4M378.6 412.3h1.4M378.6 406.9h1.4M378.6 403.1h1.4M378.6 400.2h1.4M378.6 397.8h1.4M378.6 395.7h1.4M378.6 394.0h1.4M378.6 392.4h1.4M378.6 434.4h1.4M378.6 431.2h1.4M378.6 428.9h1.4M378.6 427.1h1.4M378.6 425.6h1.4M378.6 424.4h1.4M378.6 423.3h1.4M378.6 422.3h1.4M378.6 446.3h1.4M378.6 444.7h1.4M378.6 443.6h1.4M378.6 442.7h1.4M378.6 442.0h1.4M378.6 441.4h1.4M378.6 440.9h1.4M378.6 440.4h1.4" stroke="#222" stroke-width="0.7" fill="none"/>
<line x1="377.8" y1="449" x2="380" y2="449" stroke="#222" stroke-width="0.9"/>
<text x="0" y="0" font-size="5.6" font-weight="bold" text-anchor="middle" fill="#000" transform="translate(375.87 449) rotate(-90) scale(1 0.88)" stroke="#000" stroke-width="0.45">-1E2</text>
<line x1="377.8" y1="440" x2="380" y2="440" stroke="#222" stroke-width="0.9"/>
<text x="0" y="0" font-size="5.6" font-weight="bold" text-anchor="middle" fill="#000" transform="translate(375.87 440) rotate(-90) scale(1 0.88)" stroke="#000" stroke-width="0.45">0</text>
<line x1="377.8" y1="421.5" x2="380" y2="421.5" stroke="#222" stroke-width="0.9"/>
<text x="0" y="0" font-size="5.6" font-weight="bold" text-anchor="middle" fill="#000" transform="translate(375.87 421.5) rotate(-90) scale(1 0.88)" stroke="#000" stroke-width="0.45">1E2</text>
<line x1="377.8" y1="391" x2="380" y2="391" stroke="#222" stroke-width="0.9"/>
<text x="0" y="0" font-size="5.6" font-weight="bold" text-anchor="middle" fill="#000" transform="translate(375.87 391) rotate(-90) scale(1 0.88)" stroke="#000" stroke-width="0.45">1E3</text>
<line x1="377.8" y1="361.8" x2="380" y2="361.8" stroke="#222" stroke-width="0.9"/>
<text x="0" y="0" font-size="5.6" font-weight="bold" text-anchor="middle" fill="#000" transform="translate(375.87 361.8) rotate(-90) scale(1 0.88)" stroke="#000" stroke-width="0.45">1E4</text>
<line x1="377.8" y1="334.8" x2="380" y2="334.8" stroke="#222" stroke-width="0.9"/>
<text x="0" y="0" font-size="5.6" font-weight="bold" text-anchor="middle" fill="#000" transform="translate(375.87 334.8) rotate(-90) scale(1 0.88)" stroke="#000" stroke-width="0.45">1E5</text>
<path d="M377.8 437.0h2.2M377.8 438.5h2.2M377.8 440.0h2.2M377.8 441.5h2.2M377.8 443.0h2.2" stroke="#000" stroke-width="0.9" fill="none"/>
<line x1="380" y1="460.8" x2="515.4" y2="460.8" stroke="#222" stroke-width="1"/>
<path d="M402.8 460.8v1.4M407.1 460.8v1.4M410.2 460.8v1.4M412.6 460.8v1.4M414.5 460.8v1.4M416.2 460.8v1.4M417.6 460.8v1.4M418.9 460.8v1.4M429.0 460.8v1.4M434.3 460.8v1.4M438.1 460.8v1.4M441.0 460.8v1.4M443.3 460.8v1.4M445.4 460.8v1.4M447.1 460.8v1.4M448.6 460.8v1.4M458.9 460.8v1.4M464.0 460.8v1.4M467.7 460.8v1.4M470.5 460.8v1.4M472.9 460.8v1.4M474.8 460.8v1.4M476.6 460.8v1.4M478.1 460.8v1.4M487.4 460.8v1.4M492.1 460.8v1.4M495.4 460.8v1.4M498.0 460.8v1.4M500.1 460.8v1.4M501.9 460.8v1.4M503.4 460.8v1.4M504.8 460.8v1.4" stroke="#222" stroke-width="0.7" fill="none"/>
<line x1="395.4" y1="460.8" x2="395.4" y2="463.0" stroke="#222" stroke-width="0.9"/>
<text x="0" y="0" font-size="5.6" font-weight="bold" text-anchor="middle" fill="#000" transform="translate(395.4 468.97) scale(1 0.88)" stroke="#000" stroke-width="0.45">0</text>
<line x1="420" y1="460.8" x2="420" y2="463.0" stroke="#222" stroke-width="0.9"/>
<text x="0" y="0" font-size="5.6" font-weight="bold" text-anchor="middle" fill="#000" transform="translate(420 468.97) scale(1 0.88)" stroke="#000" stroke-width="0.45">1E2</text>
<line x1="450" y1="460.8" x2="450" y2="463.0" stroke="#222" stroke-width="0.9"/>
<text x="0" y="0" font-size="5.6" font-weight="bold" text-anchor="middle" fill="#000" transform="translate(450 468.97) scale(1 0.88)" stroke="#000" stroke-width="0.45">1E3</text>
<line x1="479.4" y1="460.8" x2="479.4" y2="463.0" stroke="#222" stroke-width="0.9"/>
<text x="0" y="0" font-size="5.6" font-weight="bold" text-anchor="middle" fill="#000" transform="translate(479.4 468.97) scale(1 0.88)" stroke="#000" stroke-width="0.45">1E4</text>
<line x1="506" y1="460.8" x2="506" y2="463.0" stroke="#222" stroke-width="0.9"/>
<text x="0" y="0" font-size="5.6" font-weight="bold" text-anchor="middle" fill="#000" transform="translate(506 468.97) scale(1 0.88)" stroke="#000" stroke-width="0.45">1E5</text>
<path d="M391.9 460.8v2.2M393.4 460.8v2.2M394.9 460.8v2.2M396.4 460.8v2.2M397.9 460.8v2.2" stroke="#000" stroke-width="0.9" fill="none"/>
<text x="0" y="0" font-size="9.2" font-weight="bold" text-anchor="middle" fill="#000" transform="translate(368.1184 447.5) rotate(-90) scale(1 0.7)" stroke="#000" stroke-width="0.4">CD27</text>
<text x="0" y="0" font-size="8.9" font-weight="bold" text-anchor="middle" fill="#000" transform="translate(388.2 477.8428) scale(1 0.7)" stroke="#000" stroke-width="0.4">IgM</text>
<clipPath id="cp1"><rect x="381" y="356" width="130" height="104.5"/></clipPath>
<path d="M486 344.5h1M430 352.5h1M411 349.5h1M459 353.5h1M488 354.5h1M414 353.5h1M457 346.5h1M399 350.5h1M439 351.5h1M456 342.5h1M469 342.5h1M408 351.5h1M490 352.5h1M493 342.5h1M404 348.5h1M422 344.5h1M414 345.5h1M472 346.5h1M447 342.5h1M461 351.5h1M431 349.5h1M421 341.5h1M412 340.5h1M489 356.5h1M411 353.5h1" stroke="#222" stroke-width="1" opacity="1" fill="none" shape-rendering="crispEdges"/>
<g filter="url(#b1)" clip-path="url(#cp1)">
<ellipse cx="425.5" cy="373.5" rx="15" ry="13" fill="#000" opacity="1" transform="rotate(0 425.5 373.5)" filter="url(#b6)"/>
<ellipse cx="481" cy="375.5" rx="13" ry="12" fill="#000" opacity="1" transform="rotate(0 481 375.5)" filter="url(#b6)"/>
<ellipse cx="427" cy="390" rx="7" ry="6" fill="#000" opacity="0.8" transform="rotate(0 427 390)" filter="url(#b6)"/>
<path d="M453 436.5h1M456 410.5h1M427 396.5h1M490 387.5h1M402 459.5h1M417 368.5h1M416 440.5h1M478 448.5h1M492 459.5h1M423 381.5h1M498 451.5h1M446 389.5h1M407 457.5h1M460 420.5h1M405 376.5h1M434 449.5h1M482 384.5h1M390 420.5h1M473 452.5h1M460 383.5h1M448 430.5h1M406 450.5h1M400 359.5h1M418 436.5h1M452 386.5h1M423 409.5h1M481 457.5h1M467 372.5h1M489 441.5h1M469 441.5h1M385 427.5h1M442 459.5h1M498 406.5h1M485 432.5h1M473 394.5h1M472 361.5h1M386 381.5h1M411 359.5h1M490 438.5h1M477 440.5h1M496 373.5h1M443 396.5h1M429 425.5h1M427 453.5h1M399 376.5h1M490 384.5h1M426 404.5h1M471 450.5h1M464 381.5h1M486 390.5h1M393 361.5h1M484 411.5h1M412 364.5h1M501 438.5h1M474 399.5h1M407 395.5h1M463 421.5h1M396 445.5h1M455 415.5h1M461 414.5h1M499 380.5h1M467 420.5h1M502 426.5h1M410 396.5h1M492 366.5h1M476 410.5h1M387 442.5h1M405 391.5h1M445 390.5h1M486 456.5h1" stroke="#111" stroke-width="1" opacity="1" fill="none" shape-rendering="crispEdges"/>
<path d="M448 442.5h1M473 417.5h1M424 430.5h1M470 443.5h1M465 433.5h1M446 417.5h1M433 431.5h1M466 402.5h1M452 435.5h1M488 450.5h1M451 422.5h1M449 430.5h1M473 412.5h1M454 419.5h1M444 420.5h1M491 451.5h1M484 403.5h1M465 417.5h1M469 423.5h1M450 431.5h1M466 424.5h1M457 412.5h1M457 437.5h1M459 424.5h1M432 443.5h1M437 437.5h1M451 438.5h1M477 422.5h1M403 398.5h1M440 414.5h1M463 455.5h1M470 425.5h1M482 424.5h1M473 432.5h1M423 441.5h1M490 422.5h1M472 434.5h1M453 422.5h1M476 418.5h1M448 439.5h1M475 449.5h1M447 408.5h1M478 405.5h1M451 424.5h1M489 428.5h1M436 427.5h1M482 402.5h1M434 442.5h1M460 413.5h1M454 428.5h1M437 419.5h1M484 432.5h1M478 427.5h1M448 431.5h1M441 432.5h1M452 423.5h1M453 414.5h1M483 406.5h1M462 409.5h1M474 424.5h1M461 434.5h1M465 430.5h1M465 432.5h1M450 423.5h1M454 417.5h1M448 446.5h1M432 451.5h1M449 436.5h1M458 425.5h1M468 451.5h1M456 427.5h1M448 456.5h1M479 443.5h1M459 401.5h1M467 402.5h1M447 441.5h1M448 418.5h1M420 437.5h1M466 420.5h1M465 405.5h1M441 430.5h1M474 427.5h1M436 420.5h1M478 419.5h1M463 433.5h1M448 428.5h1M426 419.5h1M459 436.5h1M481 420.5h1M467 425.5h1M444 416.5h1M457 427.5h1M458 436.5h1M418 422.5h1M461 444.5h1M457 413.5h1M486 436.5h1M453 424.5h1M453 429.5h1M427 429.5h1M447 434.5h1M464 412.5h1M482 438.5h1M442 412.5h1M446 432.5h1M481 414.5h1M444 434.5h1M457 426.5h1M456 422.5h1M489 441.5h1M452 444.5h1M492 434.5h1M463 420.5h1M460 430.5h1M429 420.5h1M464 399.5h1M454 416.5h1M438 429.5h1M479 408.5h1M462 425.5h1M469 427.5h1M446 439.5h1M465 413.5h1M422 417.5h1M461 438.5h1M447 421.5h1M425 420.5h1M460 419.5h1M456 413.5h1M441 431.5h1M430 427.5h1M479 419.5h1M449 415.5h1M434 419.5h1M435 423.5h1M447 411.5h1M458 440.5h1M471 423.5h1M453 435.5h1M470 445.5h1M430 448.5h1M464 448.5h1M457 443.5h1M456 411.5h1M462 419.5h1M456 433.5h1M471 435.5h1M474 405.5h1M477 415.5h1M458 420.5h1M436 438.5h1M439 418.5h1M483 395.5h1M427 439.5h1M449 437.5h1M457 419.5h1M469 416.5h1M447 429.5h1M437 406.5h1M491 443.5h1M445 419.5h1M439 426.5h1M475 425.5h1M456 381.5h1M462 410.5h1M452 431.5h1M459 437.5h1M484 395.5h1M429 449.5h1M466 416.5h1M452 427.5h1M476 422.5h1M457 408.5h1M484 433.5h1M449 408.5h1M457 439.5h1M499 453.5h1M451 421.5h1M440 433.5h1M444 435.5h1M440 443.5h1M454 410.5h1M457 429.5h1M459 440.5h1M479 459.5h1M456 444.5h1M411 453.5h1M457 445.5h1M454 435.5h1M469 418.5h1M448 386.5h1M468 425.5h1M454 444.5h1M464 430.5h1M424 429.5h1M453 441.5h1M449 410.5h1M454 453.5h1M442 445.5h1M455 399.5h1M466 412.5h1M454 415.5h1M415 439.5h1M466 413.5h1M447 426.5h1M489 420.5h1M444 441.5h1M447 412.5h1M456 439.5h1M461 422.5h1M484 447.5h1M429 411.5h1M441 424.5h1M461 426.5h1M459 433.5h1M435 396.5h1M463 445.5h1M462 421.5h1M468 423.5h1M435 422.5h1M472 432.5h1M470 420.5h1M468 447.5h1M452 420.5h1M480 429.5h1M437 421.5h1M482 432.5h1M492 436.5h1M463 442.5h1M447 442.5h1M457 424.5h1M465 421.5h1M438 415.5h1M468 432.5h1M460 438.5h1M442 422.5h1M488 414.5h1M481 424.5h1M468 431.5h1M454 429.5h1M441 440.5h1M451 425.5h1M455 422.5h1M426 426.5h1M450 409.5h1M490 420.5h1M483 421.5h1M467 424.5h1M472 429.5h1M452 406.5h1M476 407.5h1M448 452.5h1M463 429.5h1M461 431.5h1M452 432.5h1M456 423.5h1M467 436.5h1M465 441.5h1M492 452.5h1M461 412.5h1M479 429.5h1M473 423.5h1M474 412.5h1M495 424.5h1M422 446.5h1M476 447.5h1M439 433.5h1M483 425.5h1M466 425.5h1M454 447.5h1M445 429.5h1M469 429.5h1M474 401.5h1M480 412.5h1M455 423.5h1M468 426.5h1M452 438.5h1M496 420.5h1M448 420.5h1M438 411.5h1M450 417.5h1M457 417.5h1M507 449.5h1M460 405.5h1M443 398.5h1M450 420.5h1M447 410.5h1M465 416.5h1M419 414.5h1M473 444.5h1M439 425.5h1M469 440.5h1M451 432.5h1M451 403.5h1M475 427.5h1M443 421.5h1M465 410.5h1M486 459.5h1M418 440.5h1M451 436.5h1M475 429.5h1M485 432.5h1M433 425.5h1M459 420.5h1M437 455.5h1M458 427.5h1M430 435.5h1M489 419.5h1M446 444.5h1M478 432.5h1M472 424.5h1M458 428.5h1M421 438.5h1M473 415.5h1M449 432.5h1M472 428.5h1M451 434.5h1M461 414.5h1M453 423.5h1M471 410.5h1M445 423.5h1M456 442.5h1M473 445.5h1M489 436.5h1M442 423.5h1M485 457.5h1M471 416.5h1M461 432.5h1M475 440.5h1M444 444.5h1M470 437.5h1M468 420.5h1M457 441.5h1M451 412.5h1M414 428.5h1M443 428.5h1M440 422.5h1M452 441.5h1M443 411.5h1M461 439.5h1M443 435.5h1M459 435.5h1M426 429.5h1M454 431.5h1M420 427.5h1M483 430.5h1M460 432.5h1M484 418.5h1M433 412.5h1M478 417.5h1M472 425.5h1M450 426.5h1M443 404.5h1M433 417.5h1M464 433.5h1M474 417.5h1M458 407.5h1M441 442.5h1M456 453.5h1M470 421.5h1M446 399.5h1M482 441.5h1M464 413.5h1M427 422.5h1M471 441.5h1M433 441.5h1M423 413.5h1M427 442.5h1M470 410.5h1M442 426.5h1M460 412.5h1M482 436.5h1M494 388.5h1M430 437.5h1M462 423.5h1M437 434.5h1M449 446.5h1M478 440.5h1M425 432.5h1M490 453.5h1M481 443.5h1M445 448.5h1M492 433.5h1M431 419.5h1M466 430.5h1M485 441.5h1M482 427.5h1M446 440.5h1M463 416.5h1M476 448.5h1M472 446.5h1M444 401.5h1M452 382.5h1M448 412.5h1M460 417.5h1M458 415.5h1M454 448.5h1M440 403.5h1M484 438.5h1M458 422.5h1M464 422.5h1M476 423.5h1M447 435.5h1M437 420.5h1M462 417.5h1M476 426.5h1M462 400.5h1M468 428.5h1M422 431.5h1M464 417.5h1M438 407.5h1M459 428.5h1M454 456.5h1M458 429.5h1M429 432.5h1M475 415.5h1M496 419.5h1M451 387.5h1M474 396.5h1M481 412.5h1M435 425.5h1M465 449.5h1M411 426.5h1M444 428.5h1M492 432.5h1M496 410.5h1M445 428.5h1M440 436.5h1M438 432.5h1M431 415.5h1M463 436.5h1M441 406.5h1M468 413.5h1M465 446.5h1M470 406.5h1M466 443.5h1M461 423.5h1M480 411.5h1M475 419.5h1M425 441.5h1M466 432.5h1M453 427.5h1M447 446.5h1M483 427.5h1M459 432.5h1M475 431.5h1M464 426.5h1M452 445.5h1M466 441.5h1M443 440.5h1M447 419.5h1M450 430.5h1M457 456.5h1M444 433.5h1M487 407.5h1M481 444.5h1M480 438.5h1M489 417.5h1M451 437.5h1M460 408.5h1M474 442.5h1M455 433.5h1M476 398.5h1M449 416.5h1M457 411.5h1M436 431.5h1M492 411.5h1M488 442.5h1M477 447.5h1M432 417.5h1M465 439.5h1M434 401.5h1M467 432.5h1M472 427.5h1M436 444.5h1M473 431.5h1M499 431.5h1M487 426.5h1M407 412.5h1M410 425.5h1M481 404.5h1M476 433.5h1M441 436.5h1M459 441.5h1M495 425.5h1M489 427.5h1M470 431.5h1M447 430.5h1M440 415.5h1M475 436.5h1M470 436.5h1M478 435.5h1M476 417.5h1M437 425.5h1M471 429.5h1M492 438.5h1M467 430.5h1M435 429.5h1M460 453.5h1M445 427.5h1M428 433.5h1M460 431.5h1M507 427.5h1M490 433.5h1M430 416.5h1M449 413.5h1M460 423.5h1M446 434.5h1M446 446.5h1M471 422.5h1M468 419.5h1M448 443.5h1M431 435.5h1M494 397.5h1M503 401.5h1M419 398.5h1M438 420.5h1M425 425.5h1M461 437.5h1M491 427.5h1M472 435.5h1M466 438.5h1M465 451.5h1M478 410.5h1M488 418.5h1M444 443.5h1M453 404.5h1M470 434.5h1M469 408.5h1M474 419.5h1M476 410.5h1M441 400.5h1M445 443.5h1M484 431.5h1M473 433.5h1M457 430.5h1M467 444.5h1M470 441.5h1M439 401.5h1M467 413.5h1M462 413.5h1M460 427.5h1M456 432.5h1M450 427.5h1M472 449.5h1M466 439.5h1M470 452.5h1M497 419.5h1M488 393.5h1M447 403.5h1M471 434.5h1M464 434.5h1M451 399.5h1M465 427.5h1M448 419.5h1M483 417.5h1M439 437.5h1M486 409.5h1M441 413.5h1M466 436.5h1M485 427.5h1M480 419.5h1M444 424.5h1M458 433.5h1M447 453.5h1M494 412.5h1M461 413.5h1M453 432.5h1M462 408.5h1M422 401.5h1M481 425.5h1M460 448.5h1M440 434.5h1M446 430.5h1M424 422.5h1M432 424.5h1M475 426.5h1M474 437.5h1M463 422.5h1M460 414.5h1M471 432.5h1M474 436.5h1M462 440.5h1M484 424.5h1M435 408.5h1M477 434.5h1M469 404.5h1M448 405.5h1M438 419.5h1M446 450.5h1M435 419.5h1M472 416.5h1M428 421.5h1M476 413.5h1M494 439.5h1M438 418.5h1M488 446.5h1M461 417.5h1M426 421.5h1M468 436.5h1M466 417.5h1M450 444.5h1M450 422.5h1M464 420.5h1M438 428.5h1M430 429.5h1M476 411.5h1M442 441.5h1M456 443.5h1M452 407.5h1M464 415.5h1M450 457.5h1M448 450.5h1M438 431.5h1M465 440.5h1M459 418.5h1M461 406.5h1M413 406.5h1M487 440.5h1M492 435.5h1M432 413.5h1M464 416.5h1M441 412.5h1M445 400.5h1M482 451.5h1M457 442.5h1M479 431.5h1M455 446.5h1M471 425.5h1M449 428.5h1M476 437.5h1M448 425.5h1M462 422.5h1M457 414.5h1M444 432.5h1M463 423.5h1M498 425.5h1M450 437.5h1M479 428.5h1M443 425.5h1M469 428.5h1M444 421.5h1M455 424.5h1M460 450.5h1M471 437.5h1M439 419.5h1M439 432.5h1M474 425.5h1M462 451.5h1M439 436.5h1M460 444.5h1M435 412.5h1M490 445.5h1M478 426.5h1M478 428.5h1M454 413.5h1M449 418.5h1M468 441.5h1M474 434.5h1M442 387.5h1M462 416.5h1M475 407.5h1M469 422.5h1M435 421.5h1M472 421.5h1M451 430.5h1M453 405.5h1M422 438.5h1M461 455.5h1M450 442.5h1M461 435.5h1M460 443.5h1M468 421.5h1M451 420.5h1M459 403.5h1M466 433.5h1M403 412.5h1M458 396.5h1M467 441.5h1M457 440.5h1M471 426.5h1M460 404.5h1M477 416.5h1M431 400.5h1M479 432.5h1M493 445.5h1M495 439.5h1M448 423.5h1M482 420.5h1M445 441.5h1M400 442.5h1M464 419.5h1M470 429.5h1M472 414.5h1M446 453.5h1M464 425.5h1M442 420.5h1M463 410.5h1M458 424.5h1M423 428.5h1M481 421.5h1M455 431.5h1M448 403.5h1M459 421.5h1M447 447.5h1M473 402.5h1M469 420.5h1M485 418.5h1M433 421.5h1M474 430.5h1M432 427.5h1M473 418.5h1M447 437.5h1M470 428.5h1M465 414.5h1M474 456.5h1M465 424.5h1M480 436.5h1M445 426.5h1M435 445.5h1M451 433.5h1M479 436.5h1M437 424.5h1M461 454.5h1M449 422.5h1M444 427.5h1M470 414.5h1M484 445.5h1M473 436.5h1M503 413.5h1M449 458.5h1M436 432.5h1M455 414.5h1M463 434.5h1M447 409.5h1M474 398.5h1M469 445.5h1M436 396.5h1M443 432.5h1M472 407.5h1M482 439.5h1M486 407.5h1M463 450.5h1M468 445.5h1M436 412.5h1M450 419.5h1M437 431.5h1M433 418.5h1M458 437.5h1M485 444.5h1M475 434.5h1M436 415.5h1M443 420.5h1M456 414.5h1M450 443.5h1M450 400.5h1M453 425.5h1M452 458.5h1M475 451.5h1M447 438.5h1M463 426.5h1M443 430.5h1M420 430.5h1M453 444.5h1M471 415.5h1M468 429.5h1M495 406.5h1M458 399.5h1M441 426.5h1M447 415.5h1M456 419.5h1M458 432.5h1M479 407.5h1M460 420.5h1M478 444.5h1" stroke="#111" stroke-width="1" opacity="1" fill="none" shape-rendering="crispEdges"/>
<path d="M428 369.5h1M405 369.5h1M414 375.5h1M444 394.5h1M428 375.5h1M423 377.5h1M422 393.5h1M415 375.5h1M417 384.5h1M447 381.5h1M427 375.5h1M432 369.5h1M445 393.5h1M437 383.5h1M420 394.5h1M408 367.5h1M451 370.5h1M415 357.5h1M438 387.5h1M428 358.5h1M424 366.5h1M436 390.5h1M431 379.5h1M444 392.5h1M410 379.5h1M411 367.5h1M439 363.5h1M423 388.5h1M431 358.5h1M424 372.5h1M414 396.5h1M426 375.5h1M438 377.5h1M409 375.5h1M431 377.5h1M439 384.5h1M432 373.5h1M426 395.5h1M405 387.5h1M431 368.5h1M426 381.5h1M409 377.5h1M433 366.5h1M428 390.5h1M428 366.5h1M406 357.5h1M438 373.5h1M425 373.5h1M417 393.5h1M434 391.5h1M411 381.5h1M434 364.5h1M415 367.5h1M438 378.5h1M417 382.5h1M418 377.5h1M425 366.5h1M438 376.5h1M398 373.5h1M437 378.5h1M411 375.5h1M412 359.5h1M431 378.5h1M404 370.5h1M426 359.5h1M439 368.5h1M431 382.5h1M414 379.5h1M427 379.5h1M421 385.5h1M435 391.5h1M439 361.5h1M419 380.5h1M438 368.5h1M426 378.5h1M425 386.5h1M414 380.5h1M416 380.5h1M415 372.5h1M437 365.5h1M427 382.5h1M425 372.5h1M426 366.5h1M435 383.5h1M447 378.5h1M439 370.5h1M432 366.5h1M429 372.5h1M434 368.5h1M421 388.5h1M418 371.5h1M429 357.5h1M409 367.5h1M415 382.5h1M420 390.5h1M426 382.5h1M418 369.5h1M431 384.5h1M418 388.5h1M423 391.5h1M411 372.5h1M434 375.5h1M419 382.5h1M437 371.5h1M435 371.5h1M416 388.5h1M419 370.5h1M435 365.5h1M414 373.5h1M427 385.5h1M424 369.5h1M410 372.5h1M420 387.5h1M403 373.5h1M431 392.5h1M406 377.5h1M418 392.5h1M430 391.5h1M430 369.5h1M437 372.5h1M398 374.5h1M444 378.5h1M433 362.5h1M416 369.5h1M450 371.5h1M429 356.5h1M420 376.5h1M431 380.5h1M411 361.5h1M432 383.5h1M409 382.5h1M409 373.5h1M441 358.5h1M426 373.5h1M412 383.5h1M414 368.5h1M412 379.5h1M432 389.5h1M423 366.5h1M444 369.5h1M434 392.5h1M435 356.5h1M413 367.5h1M436 367.5h1M435 377.5h1M416 389.5h1M427 390.5h1M414 357.5h1M443 363.5h1M427 371.5h1M423 371.5h1M412 362.5h1M428 367.5h1M446 375.5h1M442 370.5h1M435 368.5h1M413 372.5h1M423 401.5h1M408 368.5h1M434 373.5h1M423 367.5h1M408 374.5h1M432 377.5h1M401 380.5h1M419 381.5h1M417 358.5h1M414 371.5h1M416 371.5h1M432 374.5h1M431 373.5h1M416 364.5h1M397 380.5h1M438 364.5h1M413 365.5h1M429 375.5h1M422 374.5h1M404 373.5h1M422 379.5h1M427 402.5h1M417 395.5h1M413 375.5h1M413 388.5h1M426 376.5h1M437 388.5h1M417 377.5h1M419 386.5h1M399 397.5h1M425 376.5h1M430 386.5h1M435 369.5h1M401 376.5h1M419 391.5h1M422 382.5h1M429 376.5h1M426 374.5h1M424 382.5h1M425 382.5h1M418 359.5h1M439 375.5h1M427 367.5h1M419 368.5h1M429 367.5h1M425 369.5h1M388 385.5h1M425 364.5h1M449 375.5h1M434 376.5h1M396 387.5h1M411 386.5h1M423 365.5h1M395 369.5h1M412 375.5h1M411 382.5h1M418 370.5h1M449 383.5h1M417 378.5h1M405 367.5h1M412 381.5h1M417 366.5h1M417 367.5h1M406 388.5h1M438 371.5h1M418 380.5h1M424 387.5h1M405 368.5h1M420 362.5h1M448 372.5h1M419 373.5h1M445 388.5h1M450 390.5h1M443 372.5h1M417 363.5h1M425 365.5h1M421 383.5h1M422 385.5h1M419 378.5h1M412 388.5h1M400 377.5h1M405 359.5h1M421 381.5h1M453 364.5h1M405 363.5h1M411 377.5h1M415 358.5h1M415 387.5h1M452 379.5h1M406 389.5h1M450 372.5h1M429 385.5h1M427 387.5h1M419 372.5h1M437 391.5h1M427 368.5h1M410 392.5h1M429 368.5h1M423 363.5h1M441 377.5h1M420 359.5h1M450 375.5h1M397 368.5h1M424 376.5h1M432 375.5h1M410 377.5h1M434 369.5h1M420 374.5h1M445 389.5h1M404 369.5h1M456 371.5h1M446 379.5h1M440 370.5h1M426 380.5h1M424 374.5h1M442 372.5h1M441 368.5h1M421 382.5h1M425 374.5h1M419 358.5h1M420 385.5h1M440 365.5h1M438 359.5h1M420 369.5h1M421 368.5h1M447 372.5h1M423 359.5h1M408 366.5h1M427 373.5h1M414 390.5h1M429 381.5h1M443 365.5h1M436 377.5h1M428 359.5h1M415 374.5h1M424 390.5h1M420 377.5h1M421 361.5h1M420 375.5h1M446 387.5h1M418 365.5h1M424 368.5h1M455 383.5h1M412 373.5h1M394 370.5h1M419 390.5h1M404 384.5h1M416 378.5h1M435 400.5h1M415 373.5h1M424 375.5h1M421 357.5h1M428 360.5h1M424 385.5h1M427 374.5h1M419 375.5h1M433 364.5h1M423 382.5h1M418 362.5h1M434 381.5h1M436 374.5h1M417 390.5h1M440 383.5h1M419 376.5h1M414 364.5h1M432 376.5h1M450 365.5h1M441 370.5h1M436 365.5h1M451 389.5h1M427 384.5h1M409 370.5h1M425 358.5h1M431 370.5h1M442 369.5h1M433 388.5h1M416 386.5h1M445 391.5h1M422 386.5h1M437 375.5h1M452 374.5h1M418 375.5h1M424 371.5h1M422 361.5h1M433 361.5h1M439 382.5h1M421 371.5h1M420 393.5h1M452 382.5h1M440 381.5h1M432 382.5h1M435 398.5h1M422 360.5h1M428 363.5h1M426 386.5h1M420 368.5h1M435 367.5h1M410 385.5h1M412 384.5h1M430 364.5h1M421 384.5h1M422 397.5h1M414 387.5h1M406 372.5h1M429 364.5h1M409 368.5h1M418 366.5h1M394 389.5h1M451 380.5h1M422 365.5h1M429 378.5h1M435 378.5h1M417 374.5h1M426 367.5h1M424 384.5h1M408 385.5h1M408 376.5h1M433 379.5h1M417 369.5h1M429 377.5h1M411 376.5h1M443 364.5h1M429 395.5h1M438 370.5h1M440 372.5h1M438 383.5h1M429 374.5h1M411 364.5h1M423 398.5h1M419 364.5h1M426 370.5h1M419 384.5h1M429 386.5h1M425 368.5h1M406 374.5h1M459 388.5h1M400 381.5h1M428 377.5h1M391 361.5h1M433 377.5h1M436 371.5h1M419 383.5h1M427 357.5h1M437 363.5h1M432 385.5h1M413 381.5h1M426 377.5h1M417 386.5h1M426 363.5h1M408 378.5h1M423 379.5h1M434 387.5h1M429 388.5h1M436 370.5h1M417 388.5h1M434 357.5h1M412 387.5h1M431 385.5h1M433 374.5h1M423 369.5h1M419 377.5h1M456 401.5h1M422 357.5h1M426 362.5h1M415 368.5h1M418 368.5h1M421 394.5h1M436 368.5h1M408 386.5h1M425 378.5h1M442 374.5h1M418 367.5h1M420 381.5h1M440 376.5h1M422 387.5h1M424 370.5h1M413 371.5h1M412 371.5h1M422 402.5h1M421 366.5h1M443 386.5h1M421 358.5h1M427 380.5h1M426 379.5h1M447 370.5h1M441 397.5h1M389 372.5h1M442 378.5h1M418 389.5h1M436 358.5h1M435 373.5h1M443 391.5h1M407 380.5h1M422 369.5h1M432 365.5h1M439 374.5h1M427 377.5h1M443 378.5h1M426 364.5h1M418 358.5h1M431 375.5h1M425 359.5h1M431 381.5h1M399 376.5h1M453 378.5h1M443 361.5h1M407 363.5h1M447 376.5h1M425 371.5h1M425 384.5h1M423 370.5h1M438 374.5h1M415 391.5h1M423 380.5h1M444 362.5h1M422 370.5h1M427 393.5h1M430 392.5h1M424 388.5h1M428 392.5h1M416 370.5h1M430 365.5h1M444 373.5h1M432 386.5h1M433 367.5h1M409 358.5h1M414 367.5h1M428 394.5h1M414 374.5h1M437 376.5h1M435 394.5h1M398 360.5h1M409 362.5h1M427 376.5h1M447 390.5h1M434 379.5h1M420 382.5h1M419 374.5h1M417 375.5h1M424 362.5h1M446 392.5h1M424 365.5h1M413 357.5h1M419 369.5h1M424 381.5h1M421 392.5h1M428 380.5h1M421 391.5h1M402 377.5h1M426 360.5h1M407 376.5h1M439 379.5h1M433 385.5h1M431 367.5h1M402 378.5h1M409 363.5h1M419 365.5h1M430 385.5h1M413 377.5h1M438 391.5h1M423 361.5h1M446 380.5h1M450 366.5h1M419 359.5h1M425 357.5h1M421 386.5h1M430 374.5h1M415 363.5h1M439 357.5h1M414 378.5h1M406 385.5h1M423 368.5h1M428 376.5h1M415 378.5h1M427 363.5h1M422 378.5h1M415 366.5h1M443 377.5h1M433 392.5h1M442 396.5h1M414 391.5h1M420 372.5h1M407 361.5h1M430 394.5h1M425 360.5h1M430 393.5h1M449 374.5h1M427 378.5h1M444 375.5h1M411 362.5h1M422 367.5h1M395 378.5h1M422 388.5h1M420 373.5h1M428 387.5h1M421 380.5h1M413 368.5h1M421 365.5h1M434 383.5h1M439 365.5h1M418 374.5h1M411 371.5h1M404 378.5h1M420 365.5h1M427 359.5h1M430 367.5h1M437 379.5h1M415 376.5h1M442 390.5h1M419 366.5h1M417 370.5h1M405 382.5h1M397 358.5h1M421 360.5h1M440 362.5h1M433 378.5h1M459 374.5h1M411 378.5h1M440 368.5h1M437 380.5h1M426 368.5h1M432 367.5h1M431 365.5h1M421 374.5h1M440 384.5h1M428 357.5h1M435 374.5h1M445 369.5h1M422 384.5h1M398 370.5h1M429 391.5h1M436 360.5h1M434 378.5h1M447 392.5h1M411 363.5h1M435 357.5h1M439 372.5h1M429 382.5h1M454 382.5h1M423 378.5h1M429 360.5h1M410 381.5h1M433 375.5h1M406 361.5h1M431 397.5h1M410 366.5h1M413 370.5h1M444 377.5h1M418 379.5h1M418 386.5h1M412 363.5h1M425 383.5h1M422 380.5h1M446 370.5h1M442 366.5h1M441 383.5h1M429 361.5h1M404 389.5h1M451 379.5h1M435 384.5h1M435 376.5h1M426 387.5h1M433 357.5h1M428 373.5h1M433 376.5h1M399 382.5h1M437 374.5h1M445 386.5h1M411 383.5h1M423 385.5h1M415 379.5h1M406 378.5h1M409 361.5h1M424 363.5h1M445 383.5h1M428 399.5h1M430 371.5h1M418 383.5h1M419 388.5h1M445 374.5h1M404 403.5h1M438 393.5h1M424 361.5h1M414 366.5h1M436 364.5h1M410 368.5h1M442 401.5h1M409 383.5h1M426 390.5h1M399 368.5h1M425 367.5h1M413 369.5h1M415 384.5h1M447 377.5h1M431 372.5h1M410 388.5h1M453 381.5h1M425 380.5h1M398 371.5h1M432 394.5h1M432 404.5h1M432 403.5h1M413 362.5h1M442 384.5h1M426 384.5h1M441 375.5h1M432 360.5h1M430 400.5h1M418 384.5h1M429 389.5h1M416 374.5h1M422 368.5h1M433 389.5h1M430 372.5h1M443 371.5h1M438 369.5h1M406 379.5h1M417 383.5h1M433 372.5h1M430 368.5h1M415 371.5h1M416 373.5h1M413 378.5h1M435 380.5h1M409 388.5h1M403 377.5h1M426 383.5h1M440 387.5h1M409 384.5h1M417 359.5h1M446 382.5h1M448 370.5h1M401 387.5h1M408 360.5h1M398 367.5h1M401 359.5h1M425 395.5h1M422 389.5h1M429 384.5h1M446 383.5h1M421 373.5h1M411 365.5h1M462 384.5h1M441 360.5h1M412 386.5h1M424 383.5h1M417 380.5h1M411 357.5h1M403 383.5h1M416 397.5h1M425 377.5h1M457 372.5h1M438 375.5h1M430 373.5h1M413 379.5h1M468 373.5h1M433 369.5h1M469 360.5h1M434 377.5h1M414 376.5h1M445 378.5h1M446 363.5h1M400 387.5h1M397 363.5h1M429 362.5h1M442 387.5h1M412 367.5h1M417 361.5h1M424 379.5h1M449 362.5h1M415 381.5h1M403 376.5h1M427 369.5h1M437 382.5h1M417 385.5h1M437 369.5h1M446 373.5h1M458 382.5h1M425 363.5h1M420 395.5h1M422 372.5h1M439 394.5h1M410 356.5h1M424 358.5h1M434 372.5h1M416 390.5h1M403 384.5h1M425 362.5h1M433 387.5h1M399 375.5h1M414 401.5h1M416 361.5h1M440 379.5h1M421 402.5h1M408 375.5h1M409 356.5h1M424 380.5h1M406 365.5h1M438 367.5h1M430 381.5h1M429 380.5h1M418 372.5h1M412 378.5h1M419 367.5h1M409 376.5h1M429 394.5h1M448 384.5h1M418 363.5h1M432 380.5h1M432 381.5h1M429 373.5h1M419 371.5h1M441 378.5h1M437 389.5h1M438 384.5h1M419 379.5h1M418 382.5h1M441 388.5h1M420 389.5h1M407 375.5h1M410 374.5h1M452 384.5h1M438 380.5h1M411 366.5h1M435 370.5h1M454 389.5h1M424 395.5h1M443 383.5h1M436 386.5h1M427 370.5h1M430 356.5h1M423 395.5h1M421 364.5h1M433 373.5h1M433 368.5h1M440 388.5h1M435 363.5h1M428 371.5h1M422 359.5h1M399 385.5h1M421 376.5h1M420 380.5h1M414 383.5h1M439 381.5h1M396 367.5h1M444 386.5h1M412 372.5h1M416 362.5h1M426 372.5h1M398 398.5h1M408 358.5h1M436 361.5h1M426 371.5h1M440 396.5h1M417 379.5h1M421 396.5h1M429 393.5h1M444 367.5h1M439 390.5h1M418 385.5h1M442 359.5h1M450 373.5h1M448 387.5h1M434 385.5h1M463 373.5h1M400 368.5h1M417 381.5h1M417 372.5h1M411 369.5h1M453 383.5h1M431 366.5h1M425 381.5h1M394 384.5h1M421 375.5h1M439 364.5h1M431 395.5h1M433 382.5h1M436 376.5h1M412 380.5h1M389 376.5h1M393 376.5h1M427 372.5h1M432 378.5h1M401 369.5h1M428 370.5h1M406 395.5h1M420 396.5h1M423 384.5h1M440 375.5h1M416 358.5h1M440 371.5h1M434 380.5h1M428 389.5h1M430 378.5h1M416 376.5h1M442 382.5h1M427 388.5h1M420 370.5h1M443 382.5h1M406 375.5h1M423 358.5h1M417 394.5h1M438 361.5h1M423 389.5h1M402 385.5h1M429 371.5h1M430 396.5h1M444 368.5h1M445 368.5h1M445 361.5h1M437 373.5h1M434 408.5h1M420 384.5h1M416 382.5h1M408 377.5h1M457 364.5h1M419 385.5h1M445 372.5h1M442 383.5h1M425 375.5h1M440 363.5h1M451 378.5h1M439 358.5h1M410 370.5h1M422 377.5h1M439 385.5h1M405 384.5h1M422 362.5h1M398 369.5h1M442 368.5h1M431 389.5h1M438 385.5h1M417 373.5h1M423 372.5h1M420 404.5h1M435 393.5h1M428 382.5h1M408 383.5h1M452 386.5h1M437 385.5h1M422 366.5h1M394 363.5h1M443 393.5h1M436 359.5h1M445 375.5h1M441 361.5h1M424 360.5h1M416 381.5h1M414 392.5h1M404 360.5h1M411 400.5h1M406 363.5h1M429 370.5h1M427 381.5h1M440 399.5h1M449 371.5h1M426 388.5h1M423 357.5h1M438 372.5h1M450 380.5h1M431 374.5h1M399 367.5h1M450 369.5h1M436 382.5h1M433 386.5h1M452 370.5h1M435 361.5h1M408 379.5h1M420 366.5h1M409 366.5h1M431 362.5h1M421 367.5h1M403 386.5h1M410 378.5h1M416 391.5h1M414 358.5h1M434 374.5h1M409 374.5h1M461 381.5h1M425 370.5h1M390 387.5h1M402 369.5h1M406 368.5h1M443 362.5h1M450 383.5h1M415 377.5h1M407 383.5h1M414 381.5h1M410 367.5h1M416 383.5h1M410 373.5h1M410 363.5h1M404 391.5h1M416 387.5h1M447 365.5h1M441 371.5h1M441 376.5h1M412 385.5h1M441 374.5h1M446 361.5h1M438 396.5h1M419 360.5h1M412 370.5h1M434 365.5h1M407 389.5h1M401 365.5h1M436 373.5h1M415 359.5h1M428 395.5h1M409 387.5h1M420 371.5h1M419 395.5h1M405 379.5h1M449 376.5h1M452 375.5h1M427 383.5h1M416 375.5h1M432 368.5h1M431 386.5h1M438 388.5h1M440 385.5h1M418 381.5h1M459 370.5h1M443 403.5h1M423 383.5h1M398 389.5h1M434 384.5h1M428 385.5h1M440 382.5h1M422 373.5h1M415 362.5h1M408 371.5h1M406 367.5h1M417 360.5h1M451 360.5h1M420 386.5h1M411 387.5h1M408 382.5h1M446 369.5h1M437 358.5h1M404 362.5h1M434 356.5h1M459 378.5h1M402 374.5h1M428 388.5h1M413 380.5h1M431 387.5h1M421 372.5h1M430 362.5h1M440 380.5h1M424 364.5h1M403 381.5h1M417 376.5h1M423 381.5h1M414 395.5h1M420 383.5h1M402 364.5h1M405 370.5h1M424 377.5h1M398 390.5h1M445 363.5h1M443 360.5h1M412 357.5h1M428 383.5h1M413 387.5h1M427 365.5h1M432 388.5h1M441 380.5h1M442 375.5h1M410 369.5h1M408 373.5h1M435 379.5h1M450 379.5h1M410 364.5h1M440 357.5h1M449 380.5h1M434 393.5h1M424 396.5h1M417 389.5h1M414 370.5h1M433 363.5h1M411 359.5h1M411 396.5h1M412 403.5h1M426 358.5h1M461 382.5h1M434 359.5h1M440 378.5h1M406 373.5h1M407 367.5h1M412 377.5h1M427 364.5h1M440 374.5h1M441 394.5h1M433 359.5h1M447 374.5h1M413 373.5h1M411 384.5h1M431 364.5h1M407 379.5h1M428 386.5h1M390 371.5h1M449 369.5h1M449 392.5h1M436 375.5h1M444 374.5h1M410 401.5h1M416 368.5h1M407 368.5h1M461 368.5h1M410 396.5h1M410 383.5h1M435 372.5h1M441 357.5h1M417 391.5h1M440 386.5h1M439 376.5h1M404 372.5h1M414 361.5h1M402 375.5h1M423 375.5h1M440 373.5h1M431 390.5h1M414 384.5h1M428 374.5h1M432 372.5h1M425 387.5h1M443 358.5h1M439 389.5h1M442 376.5h1M418 387.5h1M446 366.5h1M397 383.5h1M437 384.5h1M421 387.5h1M426 357.5h1M411 379.5h1M428 379.5h1M446 389.5h1M443 379.5h1M416 363.5h1M428 365.5h1M402 372.5h1M453 375.5h1M428 361.5h1M429 383.5h1M418 364.5h1M426 391.5h1M434 358.5h1M420 367.5h1M408 361.5h1M446 384.5h1M403 369.5h1M430 377.5h1M409 379.5h1M423 362.5h1M396 370.5h1M424 373.5h1M451 372.5h1M449 377.5h1M396 392.5h1M446 394.5h1M401 381.5h1M420 378.5h1M404 374.5h1M414 385.5h1M416 379.5h1M439 388.5h1M402 376.5h1M436 394.5h1M440 366.5h1M414 360.5h1M410 360.5h1M433 365.5h1M443 368.5h1M446 385.5h1M442 357.5h1M441 385.5h1M444 382.5h1M445 380.5h1M396 379.5h1M431 360.5h1M429 366.5h1M410 358.5h1M422 390.5h1M432 359.5h1M400 393.5h1M399 370.5h1M415 388.5h1M425 361.5h1M437 387.5h1M402 368.5h1M430 380.5h1M403 374.5h1M398 379.5h1M415 365.5h1M420 361.5h1M434 366.5h1M407 387.5h1M421 370.5h1M447 367.5h1M416 366.5h1M450 364.5h1M434 361.5h1M437 394.5h1M405 373.5h1M457 360.5h1M398 384.5h1M415 390.5h1M417 371.5h1M424 389.5h1M431 371.5h1M410 375.5h1M424 394.5h1M443 370.5h1M453 365.5h1M441 379.5h1M411 380.5h1M414 362.5h1M420 360.5h1M416 394.5h1M445 367.5h1M460 378.5h1M421 356.5h1M411 373.5h1M450 393.5h1M401 366.5h1M422 392.5h1M425 389.5h1M418 378.5h1M408 388.5h1M415 392.5h1M393 379.5h1M444 380.5h1M416 372.5h1M427 389.5h1M438 379.5h1M426 385.5h1M450 363.5h1M422 383.5h1M410 391.5h1M415 364.5h1M442 392.5h1M438 362.5h1M401 382.5h1M423 364.5h1M445 376.5h1M445 357.5h1M413 359.5h1M405 377.5h1M432 371.5h1M426 393.5h1M430 366.5h1M430 376.5h1M448 385.5h1M451 385.5h1M442 367.5h1M407 360.5h1M422 376.5h1M412 376.5h1M429 369.5h1M414 359.5h1M388 383.5h1M452 373.5h1M435 399.5h1M398 377.5h1M416 377.5h1M402 388.5h1M411 358.5h1M442 360.5h1M430 361.5h1M407 369.5h1M430 388.5h1M416 367.5h1M437 392.5h1M444 389.5h1M448 378.5h1M392 376.5h1M431 369.5h1M445 371.5h1M422 371.5h1M437 381.5h1M430 360.5h1M426 356.5h1M424 367.5h1M431 383.5h1M423 360.5h1M426 389.5h1" stroke="#111" stroke-width="1" opacity="1" fill="none" shape-rendering="crispEdges"/>
<path d="M442 406.5h1M433 388.5h1M432 403.5h1M444 392.5h1M424 405.5h1M436 403.5h1M423 391.5h1M429 399.5h1M434 390.5h1M414 404.5h1M426 395.5h1M434 385.5h1M427 393.5h1M430 395.5h1M432 386.5h1M423 389.5h1M435 406.5h1M427 401.5h1M425 391.5h1M437 395.5h1M437 414.5h1M418 400.5h1M424 399.5h1M409 400.5h1M420 398.5h1M430 402.5h1M427 398.5h1M425 384.5h1M422 392.5h1M424 397.5h1M429 404.5h1M442 388.5h1M428 399.5h1M425 401.5h1M409 401.5h1M425 381.5h1M425 411.5h1M426 412.5h1M444 398.5h1M438 410.5h1M430 389.5h1M439 382.5h1M425 397.5h1M431 391.5h1M428 403.5h1M427 389.5h1M433 397.5h1M419 390.5h1M442 395.5h1M431 392.5h1M426 396.5h1M423 402.5h1M435 402.5h1M424 391.5h1M411 404.5h1M425 387.5h1M418 402.5h1M425 402.5h1M429 374.5h1M438 386.5h1M439 397.5h1M421 392.5h1M421 399.5h1M431 386.5h1M413 406.5h1M430 386.5h1M435 405.5h1M431 400.5h1M423 373.5h1M433 390.5h1M443 393.5h1M431 390.5h1M416 392.5h1M444 396.5h1M436 390.5h1M428 396.5h1M421 397.5h1M414 399.5h1M435 389.5h1M432 402.5h1M431 407.5h1M427 390.5h1M433 400.5h1M410 396.5h1M421 393.5h1M428 408.5h1M430 390.5h1M422 397.5h1M430 417.5h1M419 391.5h1M435 393.5h1M428 383.5h1M414 401.5h1M419 402.5h1M423 398.5h1M436 389.5h1M421 405.5h1M427 395.5h1M434 388.5h1M426 386.5h1M416 401.5h1M436 397.5h1M415 395.5h1M429 395.5h1M429 393.5h1M426 393.5h1M424 398.5h1M434 404.5h1M428 405.5h1M442 408.5h1M424 395.5h1M423 395.5h1M429 398.5h1M424 400.5h1M432 393.5h1M424 409.5h1M434 409.5h1M415 409.5h1M419 403.5h1M427 391.5h1M419 388.5h1M417 393.5h1M435 394.5h1M442 394.5h1M421 396.5h1M440 390.5h1M427 404.5h1M423 400.5h1M425 394.5h1M426 394.5h1M433 383.5h1M417 392.5h1M414 388.5h1M417 395.5h1M413 393.5h1M421 403.5h1M414 382.5h1M414 386.5h1M419 400.5h1M420 393.5h1M425 399.5h1M415 389.5h1M426 406.5h1M421 389.5h1M432 396.5h1M426 409.5h1M420 401.5h1M441 392.5h1M444 401.5h1M429 407.5h1M428 376.5h1M428 394.5h1M415 401.5h1M422 388.5h1M444 404.5h1M438 409.5h1M416 410.5h1M418 387.5h1M440 393.5h1M432 395.5h1M423 397.5h1M439 399.5h1M448 397.5h1M429 400.5h1M436 402.5h1M424 396.5h1M415 386.5h1M418 407.5h1M425 398.5h1M420 380.5h1M425 392.5h1M422 385.5h1M431 402.5h1M431 404.5h1M420 400.5h1M426 392.5h1M427 388.5h1M413 407.5h1M434 402.5h1M440 401.5h1M431 408.5h1M423 385.5h1M434 394.5h1M435 401.5h1M421 395.5h1M418 396.5h1M441 398.5h1M428 387.5h1M434 400.5h1M424 404.5h1M429 409.5h1M431 396.5h1M417 406.5h1M434 406.5h1M422 387.5h1M437 396.5h1M407 401.5h1M417 407.5h1M435 380.5h1M415 403.5h1M411 395.5h1M430 401.5h1M429 414.5h1M436 394.5h1M425 390.5h1M428 412.5h1M417 376.5h1M426 390.5h1M429 387.5h1M432 394.5h1M422 398.5h1M413 395.5h1M431 406.5h1M428 416.5h1M422 380.5h1M409 381.5h1M426 382.5h1M412 396.5h1M433 405.5h1M428 384.5h1M419 407.5h1M439 392.5h1M433 401.5h1M431 394.5h1M422 408.5h1M420 388.5h1M415 394.5h1M425 389.5h1M435 396.5h1M431 384.5h1M424 408.5h1M435 399.5h1M436 401.5h1M430 393.5h1M441 415.5h1M446 399.5h1M432 400.5h1M428 393.5h1M433 384.5h1M435 408.5h1M425 393.5h1M443 395.5h1M423 404.5h1M418 380.5h1M427 392.5h1M421 390.5h1M422 394.5h1M409 402.5h1M424 393.5h1M425 403.5h1M410 403.5h1M435 373.5h1M431 395.5h1M421 404.5h1M427 403.5h1M448 385.5h1M420 390.5h1M430 405.5h1M442 380.5h1M424 390.5h1M430 388.5h1M440 392.5h1M421 387.5h1M416 395.5h1M423 399.5h1M428 404.5h1M433 391.5h1M437 391.5h1M417 390.5h1M414 384.5h1M429 388.5h1M440 407.5h1M429 390.5h1M436 380.5h1M425 396.5h1M417 404.5h1M435 390.5h1M413 400.5h1M418 406.5h1M438 391.5h1M445 393.5h1M424 383.5h1M418 397.5h1M428 390.5h1M418 392.5h1M412 411.5h1M410 395.5h1M414 396.5h1M428 400.5h1M421 401.5h1M421 388.5h1M420 389.5h1M440 402.5h1M431 379.5h1M426 400.5h1M412 403.5h1M418 395.5h1M426 399.5h1M436 408.5h1M437 397.5h1M410 387.5h1M436 392.5h1M428 401.5h1M433 394.5h1M407 392.5h1M403 394.5h1M448 405.5h1M429 413.5h1M418 399.5h1M422 401.5h1M429 391.5h1M430 394.5h1M428 386.5h1M415 408.5h1M428 398.5h1M433 407.5h1M428 391.5h1M436 387.5h1M433 399.5h1M418 419.5h1M426 405.5h1M434 396.5h1M427 406.5h1M436 415.5h1M429 381.5h1M415 400.5h1M419 384.5h1M436 383.5h1M414 397.5h1M417 402.5h1M419 398.5h1M402 385.5h1M430 364.5h1M438 403.5h1M443 391.5h1M434 401.5h1M425 400.5h1" stroke="#111" stroke-width="1" opacity="1" fill="none" shape-rendering="crispEdges"/>
<path d="M477 377.5h1M470 372.5h1M482 380.5h1M484 386.5h1M470 368.5h1M459 390.5h1M503 380.5h1M487 368.5h1M481 391.5h1M483 361.5h1M483 376.5h1M490 394.5h1M480 382.5h1M491 367.5h1M477 359.5h1M483 384.5h1M484 381.5h1M495 384.5h1M475 383.5h1M470 366.5h1M484 376.5h1M483 402.5h1M485 378.5h1M504 368.5h1M478 371.5h1M479 401.5h1M456 390.5h1M464 360.5h1M478 376.5h1M476 365.5h1M488 363.5h1M487 407.5h1M464 379.5h1M481 360.5h1M480 387.5h1M491 384.5h1M473 375.5h1M469 389.5h1M471 365.5h1M473 395.5h1M460 386.5h1M489 371.5h1M482 361.5h1M485 382.5h1M471 379.5h1M480 383.5h1M489 388.5h1M479 383.5h1M491 395.5h1M481 372.5h1M472 376.5h1M459 366.5h1M488 398.5h1M497 370.5h1M495 381.5h1M474 391.5h1M491 387.5h1M487 388.5h1M477 374.5h1M473 387.5h1M486 388.5h1M476 374.5h1M480 377.5h1M478 392.5h1M473 380.5h1M482 378.5h1M478 393.5h1M471 385.5h1M492 388.5h1M507 368.5h1M473 381.5h1M487 384.5h1M473 373.5h1M500 385.5h1M489 387.5h1M503 376.5h1M485 361.5h1M477 381.5h1M489 370.5h1M464 369.5h1M455 366.5h1M479 382.5h1M498 379.5h1M471 380.5h1M476 388.5h1M493 360.5h1M477 399.5h1M495 375.5h1M443 385.5h1M485 376.5h1M490 380.5h1M487 374.5h1M478 381.5h1M476 364.5h1M465 380.5h1M472 384.5h1M482 374.5h1M498 373.5h1M462 379.5h1M483 380.5h1M484 399.5h1M475 381.5h1M479 358.5h1M465 367.5h1M475 363.5h1M496 375.5h1M467 368.5h1M480 369.5h1M466 363.5h1M479 394.5h1M445 372.5h1M479 367.5h1M506 378.5h1M458 378.5h1M464 384.5h1M479 388.5h1M467 380.5h1M466 372.5h1M484 388.5h1M468 359.5h1M469 373.5h1M458 376.5h1M477 358.5h1M473 358.5h1M485 372.5h1M483 389.5h1M485 374.5h1M481 370.5h1M477 393.5h1M470 373.5h1M480 378.5h1M486 362.5h1M471 373.5h1M480 381.5h1M482 375.5h1M466 362.5h1M463 383.5h1M496 365.5h1M460 370.5h1M479 368.5h1M474 381.5h1M481 369.5h1M461 372.5h1M489 357.5h1M495 376.5h1M495 367.5h1M467 360.5h1M480 375.5h1M474 375.5h1M482 366.5h1M488 358.5h1M471 378.5h1M474 376.5h1M458 371.5h1M476 359.5h1M479 366.5h1M484 383.5h1M472 379.5h1M497 357.5h1M456 392.5h1M466 404.5h1M487 373.5h1M478 383.5h1M470 371.5h1M479 356.5h1M473 377.5h1M477 376.5h1M481 384.5h1M473 383.5h1M483 382.5h1M487 363.5h1M465 369.5h1M476 395.5h1M490 375.5h1M478 358.5h1M478 385.5h1M494 372.5h1M459 374.5h1M476 403.5h1M490 367.5h1M474 373.5h1M475 379.5h1M491 370.5h1M486 376.5h1M485 389.5h1M475 370.5h1M499 373.5h1M471 396.5h1M470 383.5h1M471 382.5h1M497 390.5h1M492 377.5h1M500 392.5h1M499 376.5h1M483 363.5h1M468 382.5h1M470 376.5h1M466 368.5h1M470 377.5h1M486 372.5h1M479 400.5h1M485 392.5h1M497 385.5h1M485 359.5h1M485 365.5h1M463 375.5h1M492 382.5h1M488 365.5h1M466 377.5h1M491 375.5h1M470 370.5h1M473 369.5h1M466 392.5h1M481 358.5h1M481 381.5h1M489 365.5h1M456 400.5h1M463 361.5h1M481 387.5h1M479 369.5h1M495 368.5h1M475 371.5h1M471 363.5h1M462 363.5h1M468 381.5h1M482 372.5h1M477 366.5h1M488 375.5h1M476 372.5h1M463 403.5h1M457 374.5h1M488 374.5h1M477 365.5h1M464 374.5h1M486 385.5h1M499 382.5h1M465 361.5h1M482 385.5h1M490 376.5h1M495 377.5h1M474 374.5h1M464 365.5h1M493 372.5h1M493 383.5h1M477 383.5h1M468 376.5h1M497 384.5h1M496 393.5h1M497 382.5h1M469 381.5h1M484 371.5h1M475 386.5h1M468 373.5h1M479 375.5h1M469 380.5h1M455 367.5h1M479 376.5h1M478 380.5h1M481 373.5h1M498 375.5h1M490 363.5h1M458 366.5h1M444 370.5h1M478 365.5h1M471 386.5h1M470 396.5h1M479 362.5h1M488 378.5h1M461 397.5h1M474 382.5h1M470 381.5h1M450 388.5h1M468 391.5h1M494 364.5h1M463 389.5h1M464 376.5h1M485 385.5h1M480 368.5h1M489 381.5h1M493 365.5h1M498 382.5h1M478 356.5h1M483 379.5h1M470 365.5h1M474 378.5h1M471 370.5h1M472 373.5h1M472 375.5h1M473 390.5h1M484 394.5h1M477 363.5h1M478 373.5h1M465 385.5h1M483 374.5h1M482 363.5h1M487 356.5h1M484 365.5h1M453 384.5h1M492 365.5h1M489 376.5h1M488 396.5h1M494 378.5h1M465 368.5h1M475 369.5h1M501 388.5h1M479 372.5h1M457 377.5h1M507 376.5h1M486 381.5h1M492 368.5h1M469 383.5h1M491 369.5h1M484 387.5h1M484 372.5h1M505 392.5h1M487 375.5h1M464 371.5h1M480 366.5h1M492 363.5h1M499 372.5h1M485 387.5h1M466 383.5h1M474 362.5h1M465 389.5h1M462 369.5h1M479 392.5h1M453 378.5h1M473 372.5h1M472 378.5h1M492 362.5h1M479 373.5h1M478 386.5h1M471 360.5h1M476 362.5h1M499 391.5h1M465 376.5h1M473 396.5h1M471 397.5h1M444 382.5h1M470 386.5h1M469 378.5h1M462 388.5h1M470 360.5h1M488 362.5h1M462 376.5h1M475 396.5h1M464 368.5h1M475 382.5h1M497 376.5h1M489 380.5h1M482 383.5h1M494 368.5h1M445 399.5h1M481 375.5h1M482 377.5h1M499 357.5h1M462 384.5h1M448 400.5h1M481 386.5h1M486 357.5h1M486 365.5h1M476 376.5h1M483 370.5h1M489 372.5h1M474 386.5h1M456 381.5h1M472 383.5h1M484 393.5h1M474 384.5h1M476 396.5h1M488 383.5h1M495 382.5h1M482 392.5h1M484 382.5h1M500 370.5h1M476 386.5h1M473 368.5h1M469 372.5h1M482 367.5h1M472 386.5h1M477 368.5h1M487 372.5h1M457 393.5h1M475 377.5h1M482 371.5h1M465 365.5h1M471 383.5h1M450 365.5h1M480 363.5h1M475 364.5h1M489 379.5h1M474 364.5h1M484 366.5h1M491 383.5h1M500 382.5h1M490 370.5h1M488 361.5h1M486 386.5h1M475 380.5h1M474 372.5h1M481 380.5h1M480 380.5h1M466 360.5h1M458 361.5h1M487 382.5h1M461 386.5h1M467 367.5h1M480 370.5h1M468 375.5h1M465 359.5h1M459 386.5h1M461 388.5h1M477 371.5h1M461 380.5h1M472 364.5h1M453 365.5h1M466 375.5h1M475 394.5h1M471 376.5h1M484 375.5h1M486 378.5h1M472 369.5h1M487 370.5h1M479 403.5h1M483 366.5h1M487 359.5h1M494 389.5h1M499 362.5h1M486 397.5h1M484 374.5h1M495 361.5h1M490 385.5h1M478 363.5h1M460 366.5h1M472 368.5h1M463 370.5h1M486 368.5h1M482 391.5h1M491 388.5h1M489 377.5h1M484 362.5h1M480 388.5h1M471 356.5h1M487 392.5h1M488 371.5h1M503 401.5h1M502 386.5h1M491 380.5h1M471 374.5h1M478 389.5h1M488 372.5h1M462 370.5h1M485 396.5h1M479 357.5h1M472 387.5h1M456 374.5h1M476 373.5h1M481 376.5h1M470 375.5h1M479 386.5h1M489 398.5h1M459 371.5h1M474 370.5h1M485 369.5h1M476 389.5h1M476 378.5h1M481 362.5h1M469 387.5h1M467 393.5h1M488 381.5h1M468 368.5h1M486 367.5h1M500 384.5h1M457 365.5h1M477 385.5h1M487 365.5h1M488 386.5h1M472 362.5h1M493 388.5h1M483 362.5h1M483 386.5h1M472 370.5h1M455 371.5h1M491 373.5h1M469 376.5h1M488 387.5h1M497 371.5h1M478 379.5h1M484 357.5h1M473 371.5h1M491 377.5h1M484 373.5h1M478 382.5h1M484 360.5h1M457 363.5h1M490 379.5h1M473 386.5h1M458 390.5h1M472 392.5h1M474 371.5h1M482 373.5h1M475 374.5h1M479 387.5h1M459 378.5h1M485 379.5h1M494 384.5h1M501 383.5h1M468 388.5h1M466 374.5h1M463 386.5h1M496 362.5h1M475 361.5h1M451 360.5h1M481 359.5h1M478 378.5h1M486 374.5h1M471 375.5h1M493 363.5h1M459 358.5h1M476 375.5h1M450 395.5h1M504 389.5h1M476 380.5h1M469 379.5h1M472 371.5h1M500 372.5h1M486 380.5h1M492 370.5h1M487 371.5h1M458 368.5h1M487 396.5h1M490 361.5h1M467 378.5h1M467 371.5h1M468 370.5h1M449 389.5h1M479 384.5h1M495 389.5h1M472 380.5h1M463 380.5h1M501 373.5h1M466 386.5h1M477 375.5h1M484 378.5h1M486 375.5h1M459 375.5h1M490 381.5h1M492 373.5h1M497 380.5h1M454 382.5h1M503 387.5h1M474 368.5h1M474 369.5h1M460 381.5h1M488 368.5h1M469 375.5h1M489 362.5h1M494 390.5h1M466 373.5h1M491 360.5h1M478 372.5h1M498 371.5h1M496 385.5h1M494 381.5h1M485 375.5h1M474 366.5h1M459 368.5h1M465 371.5h1M468 360.5h1M472 363.5h1M454 386.5h1M478 387.5h1M478 384.5h1M471 394.5h1M471 364.5h1M498 380.5h1M504 365.5h1M494 366.5h1M479 363.5h1M481 367.5h1M478 369.5h1M485 360.5h1M497 389.5h1M465 374.5h1M470 369.5h1M469 385.5h1M496 369.5h1M479 389.5h1M459 380.5h1M458 380.5h1M446 360.5h1M481 378.5h1M478 377.5h1M492 366.5h1M481 385.5h1M472 389.5h1M468 358.5h1M491 371.5h1M478 375.5h1M484 384.5h1M451 378.5h1M476 383.5h1M463 384.5h1M497 392.5h1M475 376.5h1M478 357.5h1M506 362.5h1M470 367.5h1M478 370.5h1M476 367.5h1M469 396.5h1M480 358.5h1M473 384.5h1M501 407.5h1M492 380.5h1M468 385.5h1M468 392.5h1M468 384.5h1M501 380.5h1M475 400.5h1M462 387.5h1M460 357.5h1M465 384.5h1M484 368.5h1M497 377.5h1M485 362.5h1M487 358.5h1M486 389.5h1M497 372.5h1M476 394.5h1M479 371.5h1M497 364.5h1M487 362.5h1M477 379.5h1M486 379.5h1M488 360.5h1M457 375.5h1M453 388.5h1M494 369.5h1M466 359.5h1M489 391.5h1M491 376.5h1M468 363.5h1M499 366.5h1M485 391.5h1M483 392.5h1M467 366.5h1M488 370.5h1M480 385.5h1M487 361.5h1M477 378.5h1M505 395.5h1M503 369.5h1M473 379.5h1M486 382.5h1M465 383.5h1M476 381.5h1M457 369.5h1M472 365.5h1M479 370.5h1M484 370.5h1M455 395.5h1M483 385.5h1M479 377.5h1M477 367.5h1M502 367.5h1M455 369.5h1M491 378.5h1M491 381.5h1M452 377.5h1M460 382.5h1M478 366.5h1M485 364.5h1M493 376.5h1M479 380.5h1M470 364.5h1M506 368.5h1M459 381.5h1M468 377.5h1M475 397.5h1M467 392.5h1M480 365.5h1M476 361.5h1M477 391.5h1M470 374.5h1M476 366.5h1M470 363.5h1M504 381.5h1M489 378.5h1M460 376.5h1M472 388.5h1M467 359.5h1M492 381.5h1M470 380.5h1M479 381.5h1M482 362.5h1M487 387.5h1M446 363.5h1M483 359.5h1M468 357.5h1M481 389.5h1M505 366.5h1M459 369.5h1M482 384.5h1M482 370.5h1M496 380.5h1M481 371.5h1M499 389.5h1M493 370.5h1M480 389.5h1M464 380.5h1M499 375.5h1M469 388.5h1M490 378.5h1M499 369.5h1M490 372.5h1M454 385.5h1M475 384.5h1M461 399.5h1M478 368.5h1M460 364.5h1M474 399.5h1M483 381.5h1M466 382.5h1M441 388.5h1M477 372.5h1M476 368.5h1M481 365.5h1M477 370.5h1M505 391.5h1M486 373.5h1M488 377.5h1M491 382.5h1M479 374.5h1M456 360.5h1M504 367.5h1M471 398.5h1M448 358.5h1M474 385.5h1M489 361.5h1M474 388.5h1M466 378.5h1M486 393.5h1M502 383.5h1M467 373.5h1M481 374.5h1M494 383.5h1M483 377.5h1M491 368.5h1M465 372.5h1M450 375.5h1M471 384.5h1M460 378.5h1M483 365.5h1M485 367.5h1M461 381.5h1M473 398.5h1M470 393.5h1M470 394.5h1M470 385.5h1M479 391.5h1M481 377.5h1M487 386.5h1M498 393.5h1M501 389.5h1M485 397.5h1M487 379.5h1M502 380.5h1M476 379.5h1M470 384.5h1M479 360.5h1M497 395.5h1M472 404.5h1M464 385.5h1M472 361.5h1M491 393.5h1M466 371.5h1M465 364.5h1M506 366.5h1M501 376.5h1M499 377.5h1M490 388.5h1M473 391.5h1M495 374.5h1M480 364.5h1M499 367.5h1M480 371.5h1M482 389.5h1M467 369.5h1M438 389.5h1M467 390.5h1M501 379.5h1M463 360.5h1M484 397.5h1M502 387.5h1M474 379.5h1M479 385.5h1M484 390.5h1M462 359.5h1M466 370.5h1M501 367.5h1M445 367.5h1M500 371.5h1M493 378.5h1M497 360.5h1M491 385.5h1M492 389.5h1M483 391.5h1M466 391.5h1M469 394.5h1M492 383.5h1M489 383.5h1M464 388.5h1M474 393.5h1M478 361.5h1M475 373.5h1M469 377.5h1M498 396.5h1M467 375.5h1M461 369.5h1M468 364.5h1M469 393.5h1M467 362.5h1M467 383.5h1M489 385.5h1M463 391.5h1M461 382.5h1M485 366.5h1M458 364.5h1M484 364.5h1M450 369.5h1M495 390.5h1M492 359.5h1M488 379.5h1M475 359.5h1M482 364.5h1M471 391.5h1M483 393.5h1M457 359.5h1M471 367.5h1M488 369.5h1M466 384.5h1M460 371.5h1M468 380.5h1M469 364.5h1M480 390.5h1M475 389.5h1M477 369.5h1M482 368.5h1M493 375.5h1M503 389.5h1M502 381.5h1M491 361.5h1M499 379.5h1M476 392.5h1M469 392.5h1M483 369.5h1M476 358.5h1M486 387.5h1M491 364.5h1M495 371.5h1M461 368.5h1M481 392.5h1M493 389.5h1M493 382.5h1M497 366.5h1M476 371.5h1M477 389.5h1M492 376.5h1M480 373.5h1M491 356.5h1M467 387.5h1M496 366.5h1M467 394.5h1M463 382.5h1M487 376.5h1M490 368.5h1M479 378.5h1M464 372.5h1M491 379.5h1M491 362.5h1M466 387.5h1M476 377.5h1M498 367.5h1M503 363.5h1M442 384.5h1M461 362.5h1M470 357.5h1M503 381.5h1M447 383.5h1M485 381.5h1M502 399.5h1M485 384.5h1M468 383.5h1M475 387.5h1M493 362.5h1M445 359.5h1M489 375.5h1M480 367.5h1M487 367.5h1M462 368.5h1M474 365.5h1M497 374.5h1M476 404.5h1M454 371.5h1M475 385.5h1M478 374.5h1M495 373.5h1M496 391.5h1M463 379.5h1M496 387.5h1M482 379.5h1M481 394.5h1M486 363.5h1M497 383.5h1M458 372.5h1M500 373.5h1M486 392.5h1M499 386.5h1M477 357.5h1M473 367.5h1M457 358.5h1M490 386.5h1M495 372.5h1M481 393.5h1M462 371.5h1M461 385.5h1M467 385.5h1M487 385.5h1M505 356.5h1M488 399.5h1M475 358.5h1M495 362.5h1M456 384.5h1M489 366.5h1M477 384.5h1M467 364.5h1M472 391.5h1M455 383.5h1M459 393.5h1M459 370.5h1M478 391.5h1M459 382.5h1M494 362.5h1M483 367.5h1M472 382.5h1M487 394.5h1M469 397.5h1M482 381.5h1M493 379.5h1M477 388.5h1M491 365.5h1M477 380.5h1M480 376.5h1M499 380.5h1M488 382.5h1M481 390.5h1M478 359.5h1M473 389.5h1M461 370.5h1M462 380.5h1M449 370.5h1M478 403.5h1M458 359.5h1M473 376.5h1M460 374.5h1M484 380.5h1M468 390.5h1M448 381.5h1M487 369.5h1M484 402.5h1M490 383.5h1M490 390.5h1M496 371.5h1M498 386.5h1M474 383.5h1M472 357.5h1M462 366.5h1M500 378.5h1M492 379.5h1M475 390.5h1M485 373.5h1M493 380.5h1M489 386.5h1M473 357.5h1M443 374.5h1M492 372.5h1M425 391.5h1M471 369.5h1M484 367.5h1M456 371.5h1M465 393.5h1M489 374.5h1M464 378.5h1M469 367.5h1M459 373.5h1M483 387.5h1M465 381.5h1M469 366.5h1M475 395.5h1M493 377.5h1M468 399.5h1M488 367.5h1M493 385.5h1M474 380.5h1M452 367.5h1M471 371.5h1M494 365.5h1M486 404.5h1M488 376.5h1M481 383.5h1M504 392.5h1M503 382.5h1M484 377.5h1M475 368.5h1M483 360.5h1M485 405.5h1M495 366.5h1M481 379.5h1M473 366.5h1M483 364.5h1M473 378.5h1M447 385.5h1M493 373.5h1M466 381.5h1M491 390.5h1M494 379.5h1M468 395.5h1M483 396.5h1M459 377.5h1M469 374.5h1M462 383.5h1M445 381.5h1M485 377.5h1M488 384.5h1M457 389.5h1M487 380.5h1M500 366.5h1M501 377.5h1M506 386.5h1M463 378.5h1M482 382.5h1M498 383.5h1M480 362.5h1M463 387.5h1M468 365.5h1M459 388.5h1M482 358.5h1M461 391.5h1M461 383.5h1M489 395.5h1M459 364.5h1M456 370.5h1M489 399.5h1M475 372.5h1M494 367.5h1M468 387.5h1M468 371.5h1M507 383.5h1M467 400.5h1M483 368.5h1M500 389.5h1M490 364.5h1M493 364.5h1M473 360.5h1M491 374.5h1M472 390.5h1M494 373.5h1M483 378.5h1M492 378.5h1M455 386.5h1M492 357.5h1M473 370.5h1M476 385.5h1M475 391.5h1M490 359.5h1M465 366.5h1M498 357.5h1M467 374.5h1M488 366.5h1M472 366.5h1M472 377.5h1M496 381.5h1M473 363.5h1M466 366.5h1M465 373.5h1M502 388.5h1M486 366.5h1M463 358.5h1M473 362.5h1M463 364.5h1M463 381.5h1M488 390.5h1M505 380.5h1M480 386.5h1M498 372.5h1M464 381.5h1M496 374.5h1" stroke="#111" stroke-width="1" opacity="1" fill="none" shape-rendering="crispEdges"/>
<path d="M457 396.5h1M445 395.5h1M445 369.5h1M442 395.5h1M449 385.5h1M448 396.5h1M445 379.5h1M446 377.5h1M458 382.5h1M453 387.5h1M449 367.5h1M446 374.5h1M457 379.5h1M449 380.5h1M448 388.5h1M455 372.5h1M460 367.5h1M454 376.5h1M456 388.5h1M452 382.5h1M444 364.5h1M451 382.5h1M449 386.5h1M457 362.5h1M453 398.5h1M451 379.5h1M452 384.5h1M439 384.5h1M450 386.5h1M448 379.5h1M453 389.5h1M451 383.5h1M446 379.5h1M453 399.5h1M447 381.5h1M447 388.5h1M446 396.5h1M452 377.5h1M453 390.5h1M452 373.5h1M445 374.5h1M447 389.5h1M446 375.5h1M453 394.5h1M444 378.5h1M456 364.5h1M455 358.5h1M451 370.5h1M449 383.5h1M459 371.5h1M460 396.5h1M444 380.5h1M454 395.5h1M455 376.5h1M449 387.5h1M448 382.5h1M452 371.5h1M463 381.5h1M462 390.5h1M457 373.5h1M451 368.5h1M463 403.5h1M455 381.5h1M450 369.5h1M454 379.5h1M454 389.5h1M462 379.5h1M453 377.5h1M453 369.5h1M460 385.5h1M445 380.5h1M457 386.5h1M453 374.5h1M453 368.5h1M450 367.5h1M456 390.5h1M449 381.5h1M459 364.5h1M451 385.5h1M454 375.5h1M442 372.5h1M452 378.5h1M456 373.5h1M453 382.5h1M446 383.5h1M456 383.5h1M448 373.5h1M445 368.5h1M441 383.5h1M464 380.5h1M455 366.5h1M450 373.5h1M452 368.5h1M448 372.5h1M453 367.5h1M452 391.5h1M452 381.5h1M453 388.5h1M454 380.5h1M455 367.5h1M458 373.5h1M450 377.5h1M454 360.5h1M458 398.5h1M447 375.5h1M445 373.5h1M450 400.5h1M445 398.5h1M451 376.5h1M451 380.5h1M453 376.5h1M447 386.5h1M452 380.5h1M442 378.5h1M448 369.5h1M449 370.5h1M442 367.5h1M456 377.5h1M447 379.5h1M441 393.5h1M457 378.5h1M453 372.5h1M449 376.5h1M449 384.5h1M446 384.5h1M446 380.5h1M444 385.5h1M459 379.5h1M458 371.5h1M451 402.5h1M455 389.5h1M451 377.5h1M456 380.5h1M460 372.5h1M447 384.5h1M458 397.5h1" stroke="#111" stroke-width="1" opacity="1" fill="none" shape-rendering="crispEdges"/>
</g>
<text x="0" y="498" font-size="11.5" font-weight="bold" text-anchor="start" fill="#111" stroke="#111" stroke-width="0.3">D</text>
<rect x="67.5" y="543.2" width="12.2" height="12.3" fill="#f0f0f0" stroke="#1a1a1a" stroke-width="1.6"/>
<text x="92.6" y="552.6" font-size="11.4" font-weight="normal" text-anchor="start" fill="#111" stroke="#111" stroke-width="0.4">Naive</text>
<rect x="67.5" y="570.2" width="12.2" height="12.3" fill="#c6c6c6" stroke="#1a1a1a" stroke-width="1.6"/>
<text x="92.6" y="580.3" font-size="11.4" font-weight="normal" text-anchor="start" fill="#111" stroke="#111" stroke-width="0.4">Memory IgM<tspan font-size="6.5" dy="-4">+</tspan></text>
<rect x="67.5" y="596.9" width="12.2" height="12.3" fill="#7c7c7c" stroke="#1a1a1a" stroke-width="1.6"/>
<text x="92.6" y="607.3" font-size="11.4" font-weight="normal" text-anchor="start" fill="#111" stroke="#111" stroke-width="0.4">Memory IgM<tspan font-size="6.5" dy="-4">-</tspan></text>
<text x="0" y="0" font-size="11" font-weight="bold" text-anchor="middle" fill="#111" transform="translate(276.9 506) scale(1 0.88)" stroke="#111" stroke-width="0.4">CD25<tspan font-size="7" dy="-4">-</tspan><tspan dy="4"> B-cells</tspan></text>
<g transform="translate(277.6 583.2) scale(1 1.033)">
<path d="M0 0L0.00 -65.20A65.2 65.2 0 1 1 -53.99 -36.55Z" fill="#efefef" stroke="#111" stroke-width="1.4" stroke-linejoin="round"/>
<path d="M0 0L-53.99 -36.55A65.2 65.2 0 0 1 -36.08 -54.31Z" fill="#c3c3c3" stroke="#111" stroke-width="1.4" stroke-linejoin="round"/>
<path d="M0 0L-36.08 -54.31A65.2 65.2 0 0 1 -0.00 -65.20Z" fill="#808080" stroke="#111" stroke-width="1.4" stroke-linejoin="round"/>
</g>
<text x="267.2" y="537.7" font-size="11.5" font-weight="normal" text-anchor="middle" fill="#111" stroke="#111" stroke-width="0.35">8%</text>
<text x="239.2" y="550.6" font-size="11.5" font-weight="normal" text-anchor="middle" fill="#111" stroke="#111" stroke-width="0.35">4%</text>
<text x="303.1" y="610" font-size="11.5" font-weight="normal" text-anchor="middle" fill="#111" stroke="#111" stroke-width="0.35">86%</text>
<text x="0" y="0" font-size="11" font-weight="bold" text-anchor="middle" fill="#111" transform="translate(447.4 506) scale(1 0.88)" stroke="#111" stroke-width="0.4">CD25<tspan font-size="7" dy="-4">+</tspan><tspan dy="4"> B-cells</tspan></text>
<g transform="translate(447.8 583.3) scale(1 1.035)">
<path d="M0 0L0.00 -65.00A65.0 65.0 0 0 1 56.68 -31.81Z" fill="#efefef" stroke="#111" stroke-width="1.4" stroke-linejoin="round"/>
<path d="M0 0L56.68 -31.81A65.0 65.0 0 1 1 -57.28 30.72Z" fill="#c3c3c3" stroke="#111" stroke-width="1.4" stroke-linejoin="round"/>
<path d="M0 0L-57.28 30.72A65.0 65.0 0 0 1 -0.00 -65.00Z" fill="#808080" stroke="#111" stroke-width="1.4" stroke-linejoin="round"/>
</g>
<text x="470.2" y="554" font-size="11.5" font-weight="normal" text-anchor="middle" fill="#111" stroke="#111" stroke-width="0.35">14%</text>
<text x="415.4" y="569.4" font-size="11.5" font-weight="normal" text-anchor="middle" fill="#111" stroke="#111" stroke-width="0.35">34%</text>
<text x="464.2" y="619.2" font-size="11.5" font-weight="normal" text-anchor="middle" fill="#111" stroke="#111" stroke-width="0.35">50%</text>
</svg></body></html>
